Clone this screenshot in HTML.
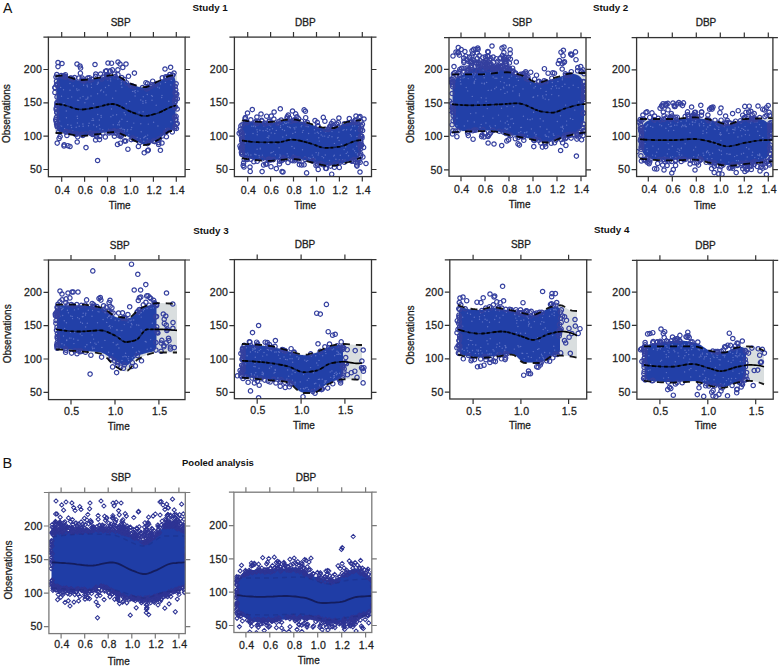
<!DOCTYPE html><html><head><meta charset="utf-8"><style>html,body{margin:0;padding:0;background:#fff;width:784px;height:666px;overflow:hidden}svg{display:block;font-family:"Liberation Sans",sans-serif}</style></head><body>
<svg width="784" height="666" viewBox="0 0 784 666">
<defs><marker id="c" markerUnits="userSpaceOnUse" markerWidth="8" markerHeight="8" refX="4" refY="4" viewBox="0 0 8 8" overflow="visible"><circle cx="4" cy="4" r="2.2" fill="none" stroke="#35409f" stroke-width="1.2"/></marker><marker id="d" markerUnits="userSpaceOnUse" markerWidth="8" markerHeight="8" refX="4" refY="4" viewBox="0 0 8 8" overflow="visible"><path d="M4 1.9L6.1 4L4 6.1L1.9 4Z" fill="none" stroke="#2e3494" stroke-width="1.05"/></marker><marker id="s" markerUnits="userSpaceOnUse" markerWidth="4" markerHeight="4" refX="2" refY="2" viewBox="0 0 4 4" overflow="visible"><circle cx="2" cy="2" r="0.7" fill="#7888d2"/></marker></defs>
<clipPath id="k1"><rect x="48.4" y="37.1" width="136.7" height="139.6"/></clipPath>
<g clip-path="url(#k1)">
<path d="M55 76.5 L57.1 76 L59.1 75.7 L61.2 75.6 L63.3 75.8 L65.3 76.1 L67.4 76.7 L69.5 77.3 L71.5 78 L73.6 78.6 L75.7 79.2 L77.7 79.7 L79.8 80 L81.9 80 L83.9 79.9 L86 79.7 L88.1 79.5 L90.2 79.2 L92.2 78.8 L94.3 78.5 L96.4 78.2 L98.4 77.9 L100.5 77.4 L102.6 77 L104.6 76.5 L106.7 76 L108.8 75.5 L110.8 75.2 L112.9 75 L115 75.1 L117 75.6 L119.1 76.5 L121.2 77.7 L123.2 79.1 L125.3 80.6 L127.4 82 L129.4 83.1 L131.5 84 L133.6 84.7 L135.6 85.4 L137.7 86 L139.8 86.6 L141.8 87 L143.9 87.2 L146 87.1 L148.1 86.6 L150.1 85.7 L152.2 84.6 L154.3 83.4 L156.3 82.2 L158.4 81.2 L160.5 80.2 L162.5 79.1 L164.6 78 L166.7 76.9 L168.7 76.1 L170.8 75.6 L172.9 75.4 L174.9 75.1 L177 75 L177 131 L174.9 131 L172.9 131 L170.8 131 L168.7 131.6 L166.7 132.9 L164.6 134.6 L162.5 136.5 L160.5 138.4 L158.4 139.8 L156.3 140.8 L154.3 141.9 L152.2 142.9 L150.1 143.8 L148.1 144.5 L146 144.9 L143.9 145 L141.8 144.5 L139.8 143.6 L137.7 142.5 L135.6 141.2 L133.6 140 L131.5 139 L129.4 138 L127.4 137 L125.3 135.9 L123.2 134.8 L121.2 133.8 L119.1 133 L117 132.4 L115 132 L112.9 132 L110.8 132.2 L108.8 132.4 L106.7 132.7 L104.6 133.1 L102.6 133.4 L100.5 133.8 L98.4 134.1 L96.4 134.3 L94.3 134.6 L92.2 134.9 L90.2 135.2 L88.1 135.4 L86 135.6 L83.9 135.8 L81.9 135.9 L79.8 135.9 L77.7 135.7 L75.7 135.4 L73.6 135 L71.5 134.6 L69.5 134.1 L67.4 133.7 L65.3 133.4 L63.3 133.1 L61.2 133 L59.1 133 L57.1 133 L55 133Z" fill="#d9dedf"/>
<path d="M56.5 81.8 L57.2 79 L57.9 78 L58.6 77.3 L59.4 76.8 L60.1 76.4 L60.8 76.3 L61.5 76.2 L63.1 76.3 L64.7 76.6 L66.2 76.9 L67.8 77.4 L69.4 77.9 L71 78.4 L72.6 78.9 L74.1 79.4 L75.7 79.8 L77.3 80.2 L78.9 80.5 L80.5 80.6 L82 80.6 L83.6 80.5 L85.2 80.4 L86.8 80.2 L88.4 80 L89.9 79.8 L91.5 79.6 L93.1 79.3 L94.7 79 L96.3 78.8 L97.8 78.5 L99.4 78.3 L101 77.9 L102.6 77.6 L104.2 77.2 L105.7 76.8 L107.3 76.4 L108.9 76.1 L110.5 75.9 L112.1 75.7 L113.6 75.6 L115.2 75.7 L116.8 76.1 L118.4 76.7 L119.9 77.6 L121.5 78.6 L123.1 79.6 L124.7 80.7 L126.3 81.8 L127.8 82.8 L129.4 83.7 L131 84.4 L132.6 85 L134.2 85.5 L135.7 86 L137.3 86.5 L138.9 87 L140.5 87.3 L142.1 87.6 L143.6 87.8 L145.2 87.8 L146.8 87.5 L148.4 87 L150 86.3 L151.5 85.5 L153.1 84.6 L154.7 83.7 L156.3 82.8 L157.9 82.1 L159.4 81.3 L161 80.5 L162.6 79.6 L164.2 78.8 L165.8 78 L167.3 77.2 L168.9 76.7 L170.5 76.3 L171.2 76.2 L171.9 76.3 L172.6 76.5 L173.4 76.8 L174.1 77.3 L174.8 78.2 L175.5 80.7 L175.5 125.4 L174.8 128 L174.1 128.9 L173.4 129.5 L172.6 129.9 L171.9 130.2 L171.2 130.3 L170.5 130.4 L168.9 130.9 L167.3 131.8 L165.8 133 L164.2 134.4 L162.6 135.9 L161 137.3 L159.4 138.5 L157.9 139.5 L156.3 140.3 L154.7 141.1 L153.1 141.9 L151.5 142.6 L150 143.3 L148.4 143.8 L146.8 144.2 L145.2 144.4 L143.6 144.3 L142.1 144 L140.5 143.3 L138.9 142.6 L137.3 141.7 L135.7 140.7 L134.2 139.8 L132.6 138.9 L131 138.2 L129.4 137.4 L127.8 136.6 L126.3 135.8 L124.7 135 L123.1 134.1 L121.5 133.4 L119.9 132.7 L118.4 132.1 L116.8 131.7 L115.2 131.5 L113.6 131.4 L112.1 131.5 L110.5 131.6 L108.9 131.8 L107.3 132 L105.7 132.3 L104.2 132.5 L102.6 132.8 L101 133.1 L99.4 133.3 L97.8 133.6 L96.3 133.8 L94.7 134 L93.1 134.2 L91.5 134.4 L89.9 134.6 L88.4 134.8 L86.8 135 L85.2 135.1 L83.6 135.2 L82 135.3 L80.5 135.3 L78.9 135.2 L77.3 135 L75.7 134.8 L74.1 134.5 L72.6 134.2 L71 133.8 L69.4 133.5 L67.8 133.2 L66.2 132.9 L64.7 132.7 L63.1 132.5 L61.5 132.4 L60.8 132.3 L60.1 132.2 L59.4 131.9 L58.6 131.5 L57.9 130.9 L57.2 130 L56.5 127.4Z" fill="#2240a8"/>
<path d="M135.2 92.7 142.9 101.3 89.1 123.3 73.4 85.9 121.3 128.1 96.6 126.8 97.6 93.8 66.3 111 93.5 103.7 87.9 97.2 79.2 126.2 145.9 102.8 67.8 124.7 129.6 101.4 90.2 130.8 105.5 87.5 91 96 61.6 126.1 144.5 137 117.9 79 159.4 88 170.9 121.7 98.1 83.3 147.7 135.1 77.2 90.6 167 129.4 71.7 96.9 160.5 83.9 78.9 89.9 101.1 115.5 145.7 136.2 108.8 85.5 63.5 89.8 171.3 80.4 98.2 82.3 112.6 98.3 119.6 121.2 127.6 129.8 153.6 122.3 83.1 126.3 59.7 121.1 97.3 84.3 147.3 94.5 110.9 116.8 151.5 95.6 107.8 80.1 143.8 141.2 165.7 128.6 137.1 137.4 77.4 123 157.7 87.1 117.8 124.8 102.8 129.8 83 96.5 116.6 114.8 78.6 100.4 101.2 117.3 64 103.4 58.6 84.2 135.1 96 111.5 109 124.4 129.6 134.2 91.2 77.2 116.2 115.8 90.9 152 100.2 93.7 125 99.4 125.2 99.3 120 114.6 129.2 66.4 117.8 97.7 114.5 170.8 84.9 124.2 112.7 121.5 83.6 133.8 123.1 103.6 92 109.9 78.6 161.7 97.5 88.5 125.8 141.2 131.7 124.1 131.7 127.2 121.4 77.5 100.2 143.1 111.8 106.2 94.9 145.7 100.8 71 125.3 92.7 107.5 123 129.2 91.5 87.4 121.9 119.2 128.7 134.8 87.4 86.7 108.6 129.5 121.3 81.8 70 90.2 121.2 84.3 168.8 101.2 84.9 102.8 127.1 131.1 119.9 129 118.9 122.8 147.3 138.7 68 98.4 87.7 98.8 110.6 80.9 143.3 96.7 110.5 78.8 156.2 105.2 113.2 124.8 64.6 128.7 92.1 120.4 70 83.5 143 103.3 76.2 127.3 135.3 90.6 61.5 96.3 126.3 103.8 119.4 124.9 148.3 124.1 91.3 84.1 131.7 127.5 101.3 89.9 92.9 118.6 113 115.3 132.6 91.4 71.6 127.5 124.5 129.8 120.7 129.1 152.4 96.3 139.1 112.1 165.4 82.4 100 128.9 76.8 89 140.8 123.7 121.9 87.3 77.5 118.4 82.9 124 125.3 114.7 143.8 137.7 140.3 138.7 137.9 91.1 93.5 120.2 60.6 87.4 87.1 85.2 86.1 99.2 157.9 126 80.2 97.9 140.8 100 131 129.6 59.8 125.8 130.7 87 72.7 130.7 162 95.4 100.6 90.8 83.6 85.3" fill="none" stroke="none" marker-start="url(#s)" marker-mid="url(#s)" marker-end="url(#s)" opacity="0.7"/>
<path d="M70.5 78.2 91.9 79.4 172.7 75.2 130.5 85.5 156.9 83.6 102.8 77 150.7 86.5 89.3 77.7 80.4 73.2 133.6 86.5 170.6 67.3 80.6 68.1 106.5 70.9 117.9 74.6 100.6 74.1 148.1 88 148.2 87 62.7 76.2 95.8 74.1 124.3 79.6 172.6 75.2 82.2 78.1 109.8 71.1 78.8 78 168.4 76.6 151.8 84.9 95.6 76.4 111.5 63.2 58.1 77.3 65.4 74.7 146.6 88.9 82.8 80.2 145.9 82.7 126.6 82.9 117.9 69.8 108 77.6 168.4 77 65.3 77.3 74.6 77.6 134.4 73.1 112.4 69.9 65.6 76.9 152.7 81.2 166.1 77.9 56.8 74.6 72.9 79.1 82 80.1 106.7 74.7 154.9 84.6 63.9 76.5 106.6 76.5 148 88.3 174 73 64.5 75.9 110.2 71.2 142.5 87.5 115.3 76.6 61.2 75.6 165.7 76.8 147.5 83.6 170.4 77.3 128.5 76.3 84.4 80.5 121.7 77.6 131.9 85.9 89.9 80.2 114.6 74.1 107.8 75.8 105.5 71.2 71 78.1 169.8 74.5 58 66.6 122.8 67.4 84.1 81.1 162.3 77.8 87.7 78 101.9 79 86 147.6 166.4 136.7 120.2 132 57.2 143.1 158.6 144.5 77.3 133.9 113.3 131.6 117.5 144.4 159.3 138.6 148.8 142.2 81.8 134.3 102.9 132.9 77.2 142 75.4 134.3 99.5 139.6 158.7 142.7 91 133.3 124.5 141 109.1 133 92.5 134.5 160.4 150.3 69 132.2 90.5 133.1 118.9 135.6 147.6 143.6 58.8 131.7 144.2 152.8 158.9 139.2 122.2 133.2 95.6 139.9 127.9 149.2 147.6 150.7 70.7 132.4 65.7 132.1 166.5 131.4 60.1 136.6 110.3 131.6 132.6 138 118.3 131.3 85.6 133.8 114.1 130.7 66.9 135.5 131.2 139.6 165.5 132.6 154.5 141.4 120.8 136.6 64.2 144.8 75.6 133.9 120.3 143.2 96.1 134.8 93.7 133.6 118.2 131.8 77.7 136.8 82.8 135.5 109.8 131.9 99.8 136.4 148.3 150 138.4 146.4 172.3 131.9 66.1 131.6 114.4 136.2 67.9 145.7 115.8 133.2 139.7 142.4 154.8 141.4 121.5 135.6 97.6 133.4 105.3 136.9 134.2 139.1 153.5 141.1 162.4 136 59.1 138.4 112.8 133.1 120.1 134.9 167.8 130.2 125.7 141 96.5 136.6 56.7 112.1 56.5 84.8 57.2 105.4 57.1 122.9 56.5 81.2 56.1 121.3 56 77.1 57.1 85.2 56.9 112.8 56.5 117.3 57.2 126.7 57 102.6 56.2 109.5 55 87.7 57.1 84.3 56.9 105.5 57.2 125.7 55.8 119.4 56.3 108 54.9 92.4 56.6 123.9 55 87.5 57 96.9 57.1 103.4 177.2 123.6 175.2 86.5 174.8 107 176.7 94 177.3 98.8 175.9 119.6 175.1 101.5 174.7 117 174.8 107.5 177.2 109 175.6 98.9 174.9 99.1 175.7 89.7 176.1 83.8 175.5 119.4 176.1 116.4 175.6 93.8 175.1 92.7 176.2 124.2 174.9 128 175.4 106.8 176.4 128.5 174.8 102.4 175.2 126.5 97.6 160.5 64 146 70 146.5 58 62.5 62 63.5 77 64 80 66 95 64.5 108 63 118 62 120 64 126 64 165 69 162 143" fill="none" stroke="none" marker-start="url(#c)" marker-mid="url(#c)" marker-end="url(#c)"/>
<path d="M55.5 76.4 L58 75.9 L60.4 75.6 L62.9 75.7 L65.3 76.1 L67.8 76.8 L70.3 77.6 L72.7 78.4 L75.2 79.1 L77.6 79.7 L80.1 80 L82.6 80 L85 79.8 L87.5 79.5 L89.9 79.2 L92.4 78.8 L94.8 78.4 L97.3 78 L99.8 77.6 L102.2 77.1 L104.7 76.5 L107.1 75.9 L109.6 75.4 L112.1 75.1 L114.5 75 L117 75.6 L119.4 76.7 L121.9 78.2 L124.4 79.9 L126.8 81.6 L129.3 83.1 L131.7 84.1 L134.2 84.9 L136.7 85.7 L139.1 86.4 L141.6 86.9 L144 87.2 L146.5 87 L148.9 86.2 L151.4 85 L153.9 83.6 L156.3 82.2 L158.8 81 L161.2 79.8 L163.7 78.4 L166.2 77.2 L168.6 76.2 L171.1 75.6 L173.5 75.3 L176 75.1" fill="none" stroke="#000" stroke-width="1.8" stroke-dasharray="7 6" opacity="0.9"/>
<path d="M55.5 133 L58 133 L60.4 133 L62.9 133.1 L65.3 133.3 L67.8 133.8 L70.3 134.3 L72.7 134.8 L75.2 135.3 L77.6 135.7 L80.1 135.9 L82.6 135.9 L85 135.7 L87.5 135.5 L89.9 135.2 L92.4 134.9 L94.8 134.5 L97.3 134.2 L99.8 133.9 L102.2 133.5 L104.7 133 L107.1 132.6 L109.6 132.3 L112.1 132.1 L114.5 132 L117 132.4 L119.4 133.1 L121.9 134.2 L124.4 135.4 L126.8 136.7 L129.3 138 L131.7 139.1 L134.2 140.4 L136.7 141.8 L139.1 143.3 L141.6 144.4 L144 145 L146.5 144.9 L148.9 144.2 L151.4 143.3 L153.9 142.1 L156.3 140.8 L158.8 139.6 L161.2 137.7 L163.7 135.4 L166.2 133.3 L168.6 131.6 L171.1 131 L173.5 131 L176 131" fill="none" stroke="#000" stroke-width="1.8" stroke-dasharray="7 6" opacity="0.9"/>
<path d="M58.5 104.2 L60.8 104.5 L63.2 104.9 L65.5 105.5 L67.9 106.2 L70.2 107 L72.6 107.8 L74.9 108.5 L77.3 109.1 L79.6 109.4 L82 109.5 L84.3 109.3 L86.7 109 L89 108.7 L91.4 108.2 L93.7 107.7 L96.1 107.3 L98.4 106.8 L100.7 106.3 L103.1 105.6 L105.4 105 L107.8 104.5 L110.1 104.1 L112.5 104 L114.8 104.3 L117.2 105 L119.5 106 L121.9 107.2 L124.2 108.5 L126.6 109.8 L128.9 110.9 L131.3 111.9 L133.6 112.8 L135.9 113.7 L138.3 114.6 L140.6 115.4 L143 115.9 L145.3 116 L147.7 115.8 L150 115.3 L152.4 114.7 L154.7 114 L157.1 113.4 L159.4 112.5 L161.8 111.4 L164.1 110.2 L166.5 109 L168.8 107.9 L171.2 106.9 L173.5 106.2" fill="none" stroke="#000" stroke-width="1.4" opacity="0.5"/>
<path d="M58.5 104.2 L60.8 104.5 L63.2 104.9 L65.5 105.5 L67.9 106.2 L70.2 107 L72.6 107.8 L74.9 108.5 L77.3 109.1 L79.6 109.4 L82 109.5 L84.3 109.3 L86.7 109 L89 108.7 L91.4 108.2 L93.7 107.7 L96.1 107.3 L98.4 106.8 L100.7 106.3 L103.1 105.6 L105.4 105 L107.8 104.5 L110.1 104.1 L112.5 104 L114.8 104.3 L117.2 105 L119.5 106 L121.9 107.2 L124.2 108.5 L126.6 109.8 L128.9 110.9 L131.3 111.9 L133.6 112.8 L135.9 113.7 L138.3 114.6 L140.6 115.4 L143 115.9 L145.3 116 L147.7 115.8 L150 115.3 L152.4 114.7 L154.7 114 L157.1 113.4 L159.4 112.5 L161.8 111.4 L164.1 110.2 L166.5 109 L168.8 107.9 L171.2 106.9 L173.5 106.2" fill="none" stroke="#000" stroke-width="1.8" opacity="0.9" stroke-dasharray="3.5 2.0 2.7 3.6 2.8 2.6 4.1 3.0 4.2 2.8 4.0 2.7 3.4 3.4 3.1 1.5 2.7 1.3 3.9 1.8 4.3 1.5 3.5 3.4 3.9 1.1 4.0 3.9 3.0 3.5 3.6 1.7 4.5 3.7 4.1 1.0 3.8 2.3 3.0 3.6 2.8 1.4 3.7 2.9 4.1 1.9 3.8 3.2 4.4 4.0 4.0 1.9 3.4 1.8 3.3 1.5 3.9 1.5 4.1 2.2 3.4 3.9 3.9 1.1 4.2 2.8 4.1 2.6 3.6 3.3 3.7 1.4 4.1 2.0 2.9 2.7 3.1 3.4 4.1 3.9 2.7 3.2 3.1 3.7 2.6 2.1 3.3 3.1 2.8 3.3 2.7 2.6 4.2 2.8 3.8 3.2 3.1 2.2 3.7 2.1 3.1 3.9 2.5 1.8 2.8 2.3 4.3 2.9 4.4 1.3 4.5 3.5 4.3 2.4 2.7 3.2 2.7 4.0 2.8 2.4"/>
<path d="M55.5 104 L55.8 104 L56 104.1 L56.3 104.1 L56.6 104.1 L56.9 104.1 L57.1 104.1 L57.4 104.1 L57.7 104.2 L58 104.2 L58.2 104.2 L58.5 104.2" fill="none" stroke="#000" stroke-width="1.6"/>
<path d="M173.5 106.2 L173.7 106.1 L174 106.1 L174.2 106 L174.4 105.9 L174.6 105.9 L174.9 105.8 L175.1 105.7 L175.3 105.7 L175.5 105.6 L175.8 105.6 L176 105.5" fill="none" stroke="#000" stroke-width="1.6"/>
</g>
<rect x="48.4" y="37.1" width="136.7" height="139.6" fill="none" stroke="#333" stroke-width="1.3"/>
<path d="M61.7 176.7v5M61.7 37.1v-5M84.6 176.7v5M84.6 37.1v-5M107.5 176.7v5M107.5 37.1v-5M130.5 176.7v5M130.5 37.1v-5M153.4 176.7v5M153.4 37.1v-5M176.3 176.7v5M176.3 37.1v-5M48.4 169.5h-5M185.1 169.5h5M48.4 136.2h-5M185.1 136.2h5M48.4 102.8h-5M185.1 102.8h5M48.4 69.5h-5M185.1 69.5h5M48.4 37.1h-5M185.1 37.1h5" stroke="#333" stroke-width="1.2" fill="none"/>
<g font-size="10" fill="#1e1e1e" stroke="#1e1e1e" stroke-width="0.25" style="letter-spacing:0.2px"><text transform="translate(62.5 193.6) scale(1.06 1)" text-anchor="middle">0.4</text><text transform="translate(85.4 193.6) scale(1.06 1)" text-anchor="middle">0.6</text><text transform="translate(108.3 193.6) scale(1.06 1)" text-anchor="middle">0.8</text><text transform="translate(131.3 193.6) scale(1.06 1)" text-anchor="middle">1.0</text><text transform="translate(154.2 193.6) scale(1.06 1)" text-anchor="middle">1.2</text><text transform="translate(177.1 193.6) scale(1.06 1)" text-anchor="middle">1.4</text><text transform="translate(42.1 173.1) scale(1.06 1)" text-anchor="end">50</text><text transform="translate(42.1 139.8) scale(1.06 1)" text-anchor="end">100</text><text transform="translate(42.1 106.4) scale(1.06 1)" text-anchor="end">150</text><text transform="translate(42.1 73.1) scale(1.06 1)" text-anchor="end">200</text></g>
<text x="120.7" y="25.6" text-anchor="middle" font-size="10" fill="#1e1e1e" stroke="#1e1e1e" stroke-width="0.3">SBP</text>
<text x="119.7" y="208.8" text-anchor="middle" font-size="10" fill="#1e1e1e" stroke="#1e1e1e" stroke-width="0.3">Time</text>
<text transform="translate(9.9 113.6) rotate(-90)" text-anchor="middle" font-size="10" fill="#1e1e1e" stroke="#1e1e1e" stroke-width="0.3">Observations</text>
<clipPath id="k2"><rect x="234.4" y="37.1" width="137.1" height="139.5"/></clipPath>
<g clip-path="url(#k2)">
<path d="M241 120.1 L243.1 120.5 L245.1 120.7 L247.2 121 L249.2 121.2 L251.3 121.4 L253.4 121.6 L255.4 121.7 L257.5 121.8 L259.5 121.9 L261.6 121.9 L263.7 122 L265.7 122 L267.8 122 L269.8 122 L271.9 121.9 L273.9 121.7 L276 121.4 L278.1 121.1 L280.1 120.8 L282.2 120.4 L284.2 120.1 L286.3 119.8 L288.4 119.6 L290.4 119.4 L292.5 119.4 L294.5 119.5 L296.6 119.9 L298.7 120.3 L300.7 120.8 L302.8 121.4 L304.8 122 L306.9 122.6 L309 123.2 L311 123.8 L313.1 124.6 L315.1 125.4 L317.2 126.1 L319.3 126.7 L321.3 127.2 L323.4 127.5 L325.4 127.7 L327.5 127.9 L329.6 128.1 L331.6 128.2 L333.7 128.1 L335.7 127.5 L337.8 126.5 L339.8 125.3 L341.9 124 L344 122.9 L346 122.2 L348.1 121.8 L350.1 121.4 L352.2 121.1 L354.3 120.8 L356.3 120.6 L358.4 120.4 L360.4 120.3 L362.5 120.3 L362.5 157.1 L360.4 157.9 L358.4 158.8 L356.3 159.6 L354.3 160.3 L352.2 161 L350.1 161.7 L348.1 162.2 L346 162.8 L344 163.3 L341.9 163.8 L339.8 164.4 L337.8 164.9 L335.7 165.3 L333.7 165.6 L331.6 165.9 L329.6 166 L327.5 165.9 L325.4 165.7 L323.4 165.3 L321.3 164.8 L319.3 164.2 L317.2 163.6 L315.1 163.1 L313.1 162.6 L311 162.2 L309 161.7 L306.9 161.3 L304.8 160.8 L302.8 160.4 L300.7 159.9 L298.7 159.6 L296.6 159.3 L294.5 159.1 L292.5 159 L290.4 159 L288.4 159.1 L286.3 159.3 L284.2 159.5 L282.2 159.7 L280.1 160 L278.1 160.2 L276 160.4 L273.9 160.6 L271.9 160.7 L269.8 160.8 L267.8 160.8 L265.7 160.8 L263.7 160.7 L261.6 160.6 L259.5 160.5 L257.5 160.3 L255.4 160.1 L253.4 159.9 L251.3 159.6 L249.2 159.3 L247.2 159 L245.1 158.7 L243.1 158.3 L241 157.9Z" fill="#d9dedf"/>
<path d="M241.5 125.8 L242.2 123.4 L242.9 122.5 L243.6 122 L244.4 121.7 L245.1 121.6 L245.8 121.5 L246.5 121.5 L248.1 121.7 L249.7 121.9 L251.3 122 L252.8 122.1 L254.4 122.2 L256 122.3 L257.6 122.4 L259.2 122.4 L260.8 122.5 L262.4 122.5 L264 122.6 L265.5 122.6 L267.1 122.6 L268.7 122.6 L270.3 122.6 L271.9 122.5 L273.5 122.4 L275.1 122.2 L276.7 121.9 L278.2 121.7 L279.8 121.4 L281.4 121.2 L283 120.9 L284.6 120.6 L286.2 120.4 L287.8 120.2 L289.3 120.1 L290.9 120 L292.5 120 L294.1 120.1 L295.7 120.3 L297.3 120.6 L298.9 120.9 L300.5 121.4 L302 121.8 L303.6 122.3 L305.2 122.7 L306.8 123.2 L308.4 123.6 L310 124.1 L311.6 124.6 L313.2 125.2 L314.7 125.8 L316.3 126.4 L317.9 126.9 L319.5 127.4 L321.1 127.8 L322.7 128 L324.3 128.2 L325.8 128.4 L327.4 128.5 L329 128.7 L330.6 128.8 L332.2 128.8 L333.8 128.7 L335.4 128.3 L337 127.6 L338.5 126.7 L340.1 125.7 L341.7 124.7 L343.3 123.9 L344.9 123.1 L346.5 122.6 L348.1 122.4 L349.7 122.1 L351.2 121.8 L352.8 121.6 L354.4 121.4 L356 121.2 L356.7 121.2 L357.4 121.3 L358.1 121.5 L358.9 121.9 L359.6 122.5 L360.3 123.4 L361 125.9 L361 152.1 L360.3 155 L359.6 156.2 L358.9 157.1 L358.1 157.8 L357.4 158.3 L356.7 158.8 L356 159.1 L354.4 159.7 L352.8 160.2 L351.2 160.7 L349.7 161.2 L348.1 161.6 L346.5 162.1 L344.9 162.5 L343.3 162.9 L341.7 163.3 L340.1 163.7 L338.5 164.1 L337 164.4 L335.4 164.8 L333.8 165 L332.2 165.2 L330.6 165.4 L329 165.4 L327.4 165.3 L325.8 165.2 L324.3 164.9 L322.7 164.5 L321.1 164.1 L319.5 163.7 L317.9 163.2 L316.3 162.8 L314.7 162.4 L313.2 162 L311.6 161.7 L310 161.4 L308.4 161 L306.8 160.7 L305.2 160.3 L303.6 159.9 L302 159.6 L300.5 159.3 L298.9 159 L297.3 158.8 L295.7 158.6 L294.1 158.5 L292.5 158.4 L290.9 158.4 L289.3 158.5 L287.8 158.6 L286.2 158.7 L284.6 158.8 L283 159 L281.4 159.2 L279.8 159.4 L278.2 159.6 L276.7 159.7 L275.1 159.9 L273.5 160 L271.9 160.1 L270.3 160.2 L268.7 160.2 L267.1 160.2 L265.5 160.2 L264 160.1 L262.4 160 L260.8 159.9 L259.2 159.8 L257.6 159.7 L256 159.6 L254.4 159.4 L252.8 159.2 L251.3 159 L249.7 158.8 L248.1 158.6 L246.5 158.3 L245.8 158.1 L245.1 157.9 L244.4 157.5 L243.6 156.9 L242.9 156.2 L242.2 155.1 L241.5 152.4Z" fill="#2240a8"/>
<path d="M296 127.1 318.8 137.8 320.7 131.4 287.7 126.6 357.4 154 318.2 154.9 308.6 133.5 339.1 140.5 257 129.8 334.3 155.3 262.4 155.1 295.3 132.3 305 157 291.9 146.5 318.6 153 324.7 136.1 294.1 127.8 279.1 147.7 293.2 155.2 354.7 125.9 313.3 157.2 265.9 130.4 283.2 124.6 294.8 129 335.9 159.3 280.8 156.1 308.1 126.8 333.7 156.1 251.8 126.3 263.1 130.7 314.3 159.9 276.3 130.4 280.5 127.4 271.9 152.4 302.5 149.8 279.5 157.3 321.2 134.9 334.4 143.4 310.6 158.4 245.5 153.9 316.1 152.6 288.2 156.3 287.2 153.7 259.9 130.3 269.3 125 308.8 157.8 343.1 130.3 247.8 153.1 294.3 148.3 354.6 150.8 245.4 134.2 257.1 149.2 325.7 131.9 338.1 137.4 328.1 137.2 347.5 152.1 353.1 149.1 341.4 144.4 257.4 131.9 303.2 130.4 346.3 153.4 351.3 136 284.5 122.7 250.9 155 289.1 122.4 257.2 134.8 307.2 139.6 254.7 154.1 322.1 156.6 332 131.6 355.8 152.6 289.4 127.3 267.3 128.8 346.6 129.8 350.7 130.1 245.3 123.9 348.5 155.8 338.9 132.1 268.5 137.9 292.8 133.5 259.1 155.4 260.3 148.9 301.8 125.6 317.3 132.3 260.2 148.1 315 133.1 302.5 132.2 248.4 154.9 321.3 161.7 290.4 127.8 256 154.8 284.5 130.5 256.5 125.6 344.1 129.6 357.7 155.1 271.3 132.9 282.8 137 255.2 154.4 358.5 126.6 246.2 154.3 278.3 124.7 270.9 152.9 268.9 136 358.9 123.4 269.8 129.8 280.6 125.7 245 143 345.7 146.9 345 160.3 314.9 159.1 318.5 133.2 355.4 130.7 290.4 138.4 329.4 135.6 356.8 146.3 273.5 151.6 253 133.5 270.7 125.9 274.8 133.5 306.1 126.3 280 154.9 325.3 155 351.2 129.3 286.4 123.1 344.1 149.5 253.5 126.2 301.2 126.8 337.5 138 268.6 143.4 342.7 159.9 288.1 122.7 286.4 135.2 312.3 155.1 255.1 125.1 323.6 157.8 319.3 141.1 339.4 159.8 275.9 143.6 285.9 123.5 263.9 125.9 275.4 154.7 267.6 131.4 259.3 157.1 350.4 134.6 322.8 136.1 332 136.7 282.4 129.5 314.4 129.8 340.3 155.3 267.3 137.4 255.4 126.8 272.5 128.7 310.1 158.6 356.9 136.5 352.5 126.3 262.3 156.6 329.5 160.5" fill="none" stroke="none" marker-start="url(#s)" marker-mid="url(#s)" marker-end="url(#s)" opacity="0.7"/>
<path d="M338.3 122.5 246.9 122.7 344.3 123.7 256.9 117 277.7 123.2 336.8 124.1 357.1 122.4 256 121.4 329.1 128.1 255.3 122.3 287 118.2 350.9 122.3 296.1 120.1 305.8 123.8 245.1 118.8 269.6 121.3 307.2 122.3 245.4 117.6 324.9 121.2 257 123.4 317.3 122.4 349.3 118.6 245.5 121.5 273.9 119 281.2 120.1 325.1 129.2 291 121.3 318 125.8 288.3 115.1 305.4 111.3 333 127.5 330.6 126 333.1 121.2 261.6 120.4 250.8 119.8 252.3 109.6 297 116.8 329.8 126.5 274.1 112 301.4 121.2 338.9 118 298.6 118.7 315 120.6 295.7 113.9 293.6 120.2 348.1 122.9 355.1 120.3 264.5 123.1 280.3 108.8 353.8 121.7 304.1 109.9 323.3 117.4 271.3 116.1 258.3 121.6 317.7 126.3 305.7 117.7 265.3 124 278.9 121.5 287.3 116.8 359.1 117.5 289.4 118.1 266.6 116.2 261.9 121.1 338.2 127.1 354.9 122.2 331.4 123.6 269.2 121 328.3 129.4 270.5 122.9 333.5 125.5 294.8 119.9 312.4 161 276.3 168.6 283.4 157.9 243.2 165.5 295.7 158.6 246.3 158.9 328 164.2 269.3 159 290.9 160 317.5 165.1 306.6 172.9 301.7 165 305.1 159.4 281.5 160.7 354 159.5 320.6 163.6 269.1 160 299 161 265.8 164.1 353.5 161.3 334.4 167.3 284.6 159.1 250.2 171.4 351.6 161.1 326.3 168.5 322.6 164.6 331.7 174.2 270.9 160 352 160.7 253.8 161.7 282 171.6 263.6 164.9 335.1 164 360.6 155.9 257.2 161.3 339.3 167.4 344.3 162.2 340.1 162.2 304.1 164.8 273.4 159.6 279.6 161.2 356.7 165.1 358.1 159.5 325.7 168.3 268.2 159.3 317.8 164.1 293.8 157.5 266.7 164.1 312.8 160.7 299.4 164.6 288 162.5 357.7 162.9 262.1 171.6 244.2 159.6 294.4 160.8 247.3 159.5 250.9 159.2 279.4 163.9 330.5 166.1 360.2 162.3 318.2 169.4 298.4 158.9 295.3 159.8 292.4 160.6 262.2 158.8 359.1 160.4 316 165.6 282.5 159.7 243.6 163.1 271 166.7 357 166.1 242 145.9 242 149.2 242 152.4 242.2 138.7 242 138.2 242.1 134.4 240.6 148.2 240.3 129.3 240.8 131.9 242.2 124.7 241.7 140.4 241.4 152.6 240 145.9 242.3 146.8 239.2 133.2 242.2 153.9 241.7 140 242.1 149.3 241.2 135.9 241.8 154.3 241.7 132.4 241.7 147.5 240.9 125.9 242.3 141.9 362.9 156.9 361.2 136 360.7 153.8 360.5 129.5 360.2 143.7 363.6 147.4 360.8 129.7 362.6 130.5 360.6 148.7 360.3 138.8 360.5 155.7 360.4 141.7 360.5 146.6 360.3 129.8 361 121.5 361.9 136.4 362.4 124.2 361.9 138.3 360.4 145.8 361.2 145.1 360.7 136.1 360.8 142.1 361.7 144.9 361.5 126.4 292.5 111 247.5 113 261 114 356 116 360 116.5 364 119 283 172 360 172 366 163.5 244 167 250 167" fill="none" stroke="none" marker-start="url(#c)" marker-mid="url(#c)" marker-end="url(#c)"/>
<path d="M242 120.3 L244.4 120.7 L246.9 121 L249.3 121.2 L251.7 121.4 L254.1 121.6 L256.6 121.7 L259 121.8 L261.4 121.9 L263.9 122 L266.3 122 L268.7 122 L271.1 121.9 L273.6 121.7 L276 121.4 L278.4 121.1 L280.9 120.7 L283.3 120.2 L285.7 119.9 L288.1 119.6 L290.6 119.4 L293 119.4 L295.4 119.7 L297.9 120.1 L300.3 120.7 L302.7 121.4 L305.1 122.1 L307.6 122.8 L310 123.5 L312.4 124.4 L314.9 125.3 L317.3 126.1 L319.7 126.9 L322.1 127.3 L324.6 127.6 L327 127.9 L329.4 128.1 L331.9 128.2 L334.3 128 L336.7 127.1 L339.1 125.7 L341.6 124.2 L344 122.9 L346.4 122.1 L348.9 121.6 L351.3 121.2 L353.7 120.9 L356.1 120.6 L358.6 120.4 L361 120.3" fill="none" stroke="#000" stroke-width="1.8" stroke-dasharray="7 6" opacity="0.9"/>
<path d="M242 158.1 L244.4 158.6 L246.9 159 L249.3 159.3 L251.7 159.7 L254.1 160 L256.6 160.2 L259 160.4 L261.4 160.6 L263.9 160.7 L266.3 160.8 L268.7 160.8 L271.1 160.8 L273.6 160.6 L276 160.4 L278.4 160.2 L280.9 159.9 L283.3 159.6 L285.7 159.3 L288.1 159.1 L290.6 159 L293 159 L295.4 159.2 L297.9 159.5 L300.3 159.9 L302.7 160.3 L305.1 160.9 L307.6 161.4 L310 162 L312.4 162.5 L314.9 163 L317.3 163.6 L319.7 164.3 L322.1 165 L324.6 165.5 L327 165.9 L329.4 166 L331.9 165.9 L334.3 165.5 L336.7 165.1 L339.1 164.5 L341.6 163.9 L344 163.3 L346.4 162.7 L348.9 162 L351.3 161.3 L353.7 160.5 L356.1 159.6 L358.6 158.7 L361 157.7" fill="none" stroke="#000" stroke-width="1.8" stroke-dasharray="7 6" opacity="0.9"/>
<path d="M243.5 140.7 L245.9 141.1 L248.2 141.4 L250.6 141.7 L252.9 141.9 L255.3 142.1 L257.6 142.2 L260 142.3 L262.4 142.3 L264.7 142.3 L267.1 142.3 L269.4 142.3 L271.8 142.3 L274.1 142.3 L276.5 142.3 L278.9 142.3 L281.2 141.9 L283.6 141.4 L285.9 140.7 L288.3 140.1 L290.6 139.7 L293 139.6 L295.4 139.8 L297.7 140.2 L300.1 140.7 L302.4 141.3 L304.8 141.9 L307.1 142.5 L309.5 143.2 L311.9 143.8 L314.2 144.7 L316.6 145.6 L318.9 146.5 L321.3 147.3 L323.6 147.8 L326 147.9 L328.4 147.8 L330.7 147.7 L333.1 147.5 L335.4 147.2 L337.8 146.9 L340.1 146.6 L342.5 146 L344.9 145.2 L347.2 144.2 L349.6 143.1 L351.9 142.1 L354.3 141.2 L356.6 140.6 L359 140.3" fill="none" stroke="#000" stroke-width="1.4" opacity="0.5"/>
<path d="M243.5 140.7 L245.9 141.1 L248.2 141.4 L250.6 141.7 L252.9 141.9 L255.3 142.1 L257.6 142.2 L260 142.3 L262.4 142.3 L264.7 142.3 L267.1 142.3 L269.4 142.3 L271.8 142.3 L274.1 142.3 L276.5 142.3 L278.9 142.3 L281.2 141.9 L283.6 141.4 L285.9 140.7 L288.3 140.1 L290.6 139.7 L293 139.6 L295.4 139.8 L297.7 140.2 L300.1 140.7 L302.4 141.3 L304.8 141.9 L307.1 142.5 L309.5 143.2 L311.9 143.8 L314.2 144.7 L316.6 145.6 L318.9 146.5 L321.3 147.3 L323.6 147.8 L326 147.9 L328.4 147.8 L330.7 147.7 L333.1 147.5 L335.4 147.2 L337.8 146.9 L340.1 146.6 L342.5 146 L344.9 145.2 L347.2 144.2 L349.6 143.1 L351.9 142.1 L354.3 141.2 L356.6 140.6 L359 140.3" fill="none" stroke="#000" stroke-width="1.8" opacity="0.9" stroke-dasharray="3.7 1.0 4.4 3.4 3.7 3.8 2.8 3.3 3.2 2.5 4.3 1.6 3.1 2.1 3.8 2.5 3.8 2.2 4.5 1.3 3.5 1.2 3.5 2.9 3.1 1.8 2.6 3.2 3.8 2.0 2.7 3.7 3.5 3.5 4.0 3.4 3.0 3.1 4.1 2.5 3.7 2.7 3.2 3.1 2.7 2.9 3.2 2.2 3.6 1.5 2.6 2.2 3.6 2.8 4.2 1.3 2.9 1.7 4.3 1.8 3.6 2.5 3.3 2.7 4.2 1.9 3.0 3.4 3.1 2.4 3.1 2.2 4.2 3.2 3.2 1.5 4.4 1.4 3.8 3.5 3.2 2.8 4.4 3.3 3.2 3.9 3.2 1.2 3.6 3.2 2.9 1.0 4.3 3.4 4.0 3.4 3.0 3.3 2.9 1.3 2.8 3.0 4.3 3.7 3.4 1.3 3.4 1.9 2.9 3.6 2.6 1.8 2.7 1.1 2.6 3.8 3.4 1.8 4.2 3.6"/>
<path d="M242 140.5 L242.1 140.5 L242.3 140.5 L242.4 140.6 L242.5 140.6 L242.7 140.6 L242.8 140.6 L243 140.6 L243.1 140.7 L243.2 140.7 L243.4 140.7 L243.5 140.7" fill="none" stroke="#000" stroke-width="1.6"/>
<path d="M359 140.3 L359.2 140.2 L359.4 140.2 L359.5 140.2 L359.7 140.2 L359.9 140.2 L360.1 140.1 L360.3 140.1 L360.5 140.1 L360.6 140.1 L360.8 140.1 L361 140.1" fill="none" stroke="#000" stroke-width="1.6"/>
</g>
<rect x="234.4" y="37.1" width="137.1" height="139.5" fill="none" stroke="#333" stroke-width="1.3"/>
<path d="M247.7 176.6v5M247.7 37.1v-5M270.6 176.6v5M270.6 37.1v-5M293.5 176.6v5M293.5 37.1v-5M316.5 176.6v5M316.5 37.1v-5M339.4 176.6v5M339.4 37.1v-5M362.3 176.6v5M362.3 37.1v-5M234.4 169.5h-5M371.5 169.5h5M234.4 136.2h-5M371.5 136.2h5M234.4 102.8h-5M371.5 102.8h5M234.4 69.5h-5M371.5 69.5h5M234.4 37.1h-5M371.5 37.1h5" stroke="#333" stroke-width="1.2" fill="none"/>
<g font-size="10" fill="#1e1e1e" stroke="#1e1e1e" stroke-width="0.25" style="letter-spacing:0.2px"><text transform="translate(248.5 193.5) scale(1.06 1)" text-anchor="middle">0.4</text><text transform="translate(271.4 193.5) scale(1.06 1)" text-anchor="middle">0.6</text><text transform="translate(294.3 193.5) scale(1.06 1)" text-anchor="middle">0.8</text><text transform="translate(317.3 193.5) scale(1.06 1)" text-anchor="middle">1.0</text><text transform="translate(340.2 193.5) scale(1.06 1)" text-anchor="middle">1.2</text><text transform="translate(363.1 193.5) scale(1.06 1)" text-anchor="middle">1.4</text><text transform="translate(228.1 173.1) scale(1.06 1)" text-anchor="end">50</text><text transform="translate(228.1 139.8) scale(1.06 1)" text-anchor="end">100</text><text transform="translate(228.1 106.4) scale(1.06 1)" text-anchor="end">150</text><text transform="translate(228.1 73.1) scale(1.06 1)" text-anchor="end">200</text></g>
<text x="305.4" y="25.6" text-anchor="middle" font-size="10" fill="#1e1e1e" stroke="#1e1e1e" stroke-width="0.3">DBP</text>
<text x="305.2" y="208.7" text-anchor="middle" font-size="10" fill="#1e1e1e" stroke="#1e1e1e" stroke-width="0.3">Time</text>
<clipPath id="k3"><rect x="449" y="37.6" width="137" height="138.6"/></clipPath>
<g clip-path="url(#k3)">
<path d="M449 74.3 L451.3 74.3 L453.6 74.3 L456 74.3 L458.3 74.3 L460.6 74.3 L462.9 74.3 L465.3 74.3 L467.6 74.3 L469.9 74.3 L472.2 74.3 L474.5 74.3 L476.9 74.3 L479.2 74.3 L481.5 74.3 L483.8 74.2 L486.2 74 L488.5 73.8 L490.8 73.6 L493.1 73.3 L495.4 73 L497.8 72.8 L500.1 72.5 L502.4 72.4 L504.7 72.2 L507.1 72.2 L509.4 72.3 L511.7 72.7 L514 73.2 L516.3 73.8 L518.7 74.5 L521 75.2 L523.3 75.9 L525.6 77.1 L527.9 78.4 L530.3 79.8 L532.6 81 L534.9 82 L537.2 82.5 L539.6 82.4 L541.9 82 L544.2 81.3 L546.5 80.5 L548.8 79.6 L551.2 78.8 L553.5 78.2 L555.8 77.5 L558.1 76.7 L560.5 76 L562.8 75.2 L565.1 74.6 L567.4 74 L569.7 73.5 L572.1 73.3 L574.4 73.2 L576.7 73.1 L579 73.1 L581.4 73 L583.7 73 L586 73 L586 132.3 L583.7 132.6 L581.4 133 L579 133.4 L576.7 133.8 L574.4 134.2 L572.1 134.7 L569.7 135.3 L567.4 135.8 L565.1 136.4 L562.8 137.1 L560.5 138 L558.1 139 L555.8 140 L553.5 141 L551.2 141.8 L548.8 142.4 L546.5 142.6 L544.2 142.5 L541.9 142.1 L539.6 141.5 L537.2 140.9 L534.9 140.2 L532.6 139.6 L530.3 139.1 L527.9 138.7 L525.6 138.2 L523.3 137.8 L521 137.3 L518.7 136.9 L516.3 136.4 L514 136 L511.7 135.5 L509.4 135.1 L507.1 134.5 L504.7 133.9 L502.4 133.2 L500.1 132.6 L497.8 132.1 L495.4 131.6 L493.1 131.3 L490.8 131.2 L488.5 131.2 L486.2 131.2 L483.8 131.2 L481.5 131.2 L479.2 131.2 L476.9 131.2 L474.5 131.3 L472.2 131.3 L469.9 131.4 L467.6 131.4 L465.3 131.5 L462.9 131.6 L460.6 131.7 L458.3 131.8 L456 132 L453.6 132.2 L451.3 132.4 L449 132.6Z" fill="#d9dedf"/>
<path d="M452.5 87 L454.2 80.8 L455.9 78.5 L457.6 77 L459.4 75.9 L461.1 75.1 L462.8 74.5 L464.5 73.6 L466.1 72.5 L467.6 71.4 L469.2 70.4 L470.7 69.7 L472.3 69.1 L473.8 68.4 L475.4 67.9 L477 67.4 L478.5 67.1 L480.1 67 L481.6 67 L483.2 67 L484.8 67 L486.3 67 L487.9 67 L489.4 67 L491 67 L492.5 67 L494.1 67 L495.7 67 L497.2 67.2 L498.8 67.6 L500.3 68.2 L501.9 68.8 L503.4 69.4 L505 70 L506.6 70.6 L508.1 71.3 L509.7 72 L511.2 72.7 L512.8 73.3 L514.4 73.8 L515.9 74.2 L517.5 74.7 L519 75.1 L520.6 75.6 L522.1 76.1 L523.7 76.8 L525.3 77.6 L526.8 78.5 L528.4 79.4 L529.9 80.3 L531.5 81.2 L533.1 81.9 L534.6 82.5 L536.2 82.9 L537.7 83.1 L539.3 83 L540.8 82.8 L542.4 82.5 L544 82 L545.5 81.5 L547.1 80.9 L548.6 80.3 L550.2 79.7 L551.7 79.2 L553.3 78.8 L554.9 78.4 L556.4 77.9 L558 77.4 L559.5 76.9 L561.1 76.4 L562.7 75.9 L564.2 75.4 L565.8 75 L567.3 74.6 L568.9 74.3 L570.4 74 L572 73.9 L573.7 73.9 L575.4 74.2 L577.1 74.9 L578.9 75.8 L580.6 77.2 L582.3 79.4 L584 85.6 L584 120 L582.3 126.4 L580.6 128.9 L578.9 130.6 L577.1 131.9 L575.4 132.9 L573.7 133.7 L572 134.2 L570.4 134.5 L568.9 134.9 L567.3 135.2 L565.8 135.6 L564.2 136 L562.7 136.5 L561.1 137.1 L559.5 137.8 L558 138.5 L556.4 139.2 L554.9 139.8 L553.3 140.5 L551.7 141 L550.2 141.5 L548.6 141.8 L547.1 142 L545.5 142 L544 141.8 L542.4 141.6 L540.8 141.2 L539.3 140.8 L537.7 140.4 L536.2 140 L534.6 139.5 L533.1 139.1 L531.5 138.8 L529.9 138.5 L528.4 138.2 L526.8 137.9 L525.3 137.6 L523.7 137.3 L522.1 137 L520.6 136.7 L519 136.4 L517.5 136.1 L515.9 135.8 L514.4 135.5 L512.8 135.2 L511.2 134.8 L509.7 134.5 L508.1 134.2 L506.6 133.8 L505 133.3 L503.4 132.9 L501.9 132.5 L500.3 132.1 L498.8 131.7 L497.2 131.4 L495.7 131.1 L494.1 130.8 L492.5 130.7 L491 130.6 L489.4 130.6 L487.9 130.6 L486.3 130.6 L484.8 130.6 L483.2 130.6 L481.6 130.6 L480.1 130.6 L478.5 130.6 L477 130.6 L475.4 130.7 L473.8 130.7 L472.3 130.7 L470.7 130.7 L469.2 130.8 L467.6 130.8 L466.1 130.9 L464.5 130.9 L462.8 130.9 L461.1 130.6 L459.4 130 L457.6 129.1 L455.9 127.8 L454.2 125.7 L452.5 119.7Z" fill="#2240a8"/>
<path d="M542.7 96 490.8 72.7 481.2 124.4 475.2 73.8 540.2 126.8 516.5 77.6 566.6 121.1 578.7 101.9 484.4 83.3 553.3 134 565.6 105.1 468.2 78.6 520.8 131.6 526.9 132 495.1 78.2 488.2 90.4 511.6 76.1 495.5 105.5 496.8 104.8 552.5 86.5 474.8 72.6 547.7 82.8 504.9 93.4 473.5 77.1 546.2 94.7 512.8 91 472.3 96.4 456.8 125.7 574.8 110.1 579.1 130.2 527.5 135.8 557.9 81.5 484.4 83.9 540.2 118.8 578.2 87.6 568.3 132.7 474.6 81.3 509.5 84.7 464.3 77.3 524.6 132.7 552.3 82.5 480.1 127.2 569 87.7 532.3 118.9 515.9 85.6 546 136.3 536.1 134.5 510.2 127.2 527.6 119.2 507.3 92 505.3 122.9 484.9 73.9 526.3 132.6 493.1 76.9 564.9 84.2 483.1 70.1 467.7 121 478.2 104.7 507.8 116.1 518.4 77.2 490.6 127.8 474.2 83.5 491.3 90.3 533.6 97 460.9 84 474.2 82.2 513.5 123.5 543.2 121 472.2 73.7 467.7 90.9 504.2 82.7 521.5 127.4 463.1 77.9 507.6 128.9 530.1 119.7 543.1 97.9 562.4 78 540.7 88.5 533.6 112.2 466.2 87.5 500.5 121.1 562.3 79.8 537.7 95.8 556.6 88.1 503.9 88.1 455 106.6 562.4 127.2 503.5 87.2 534 87.9 489.8 126.1 502.2 77.2 500.8 89.5 495.3 125.8 483.2 116.2 535.8 136.2 487.3 108.6 530.6 83.8 464.3 126 518.4 80.4 561 127.1 481.9 83.3 549.1 131.9 470.6 113.6 560.5 115.7 486.1 98.1 500.5 81.6 551.2 88.8 457.1 118.2 570.4 118.5 535.4 86.5 508.3 124.5 507.2 121.3 474.3 122 581.8 83.1 562.7 126.3 555.8 85.8 559.1 88.3 566.7 125.1 562.3 86.4 510.9 119.1 546.9 129.2 545.2 135 505.1 128.2 562.5 131 494.8 88.7 563.3 128.7 513.4 86.9 501.5 108.3 572.8 119.4 546.6 136.4 506.8 85.2 545.2 99.1 507 106.6 558.8 95.7 496.8 78.3 519.4 94 523.4 116.2 509.1 78.4 496.3 87.3 492.9 118.1 486.6 82.4 520.8 127.5 460.4 81.3 484.2 77.7 483.6 75.4 475.9 112.9 518.9 132.8 557.3 121.5 477.9 102 460.6 78.3 531.4 128.9 506.3 129.2 474.2 75.1 551.7 94.6 509.5 85.5 553.9 135.4 546.1 91.4 512.2 118.7 548.6 136.9 534.5 132.9 533 97.2 485.9 123 573.2 85.2 486.1 101.2 523 88.9 548.8 99.8 481.3 97.8 498.5 115.1 498 70.6 475.7 79.2 519.4 95.8 513.7 106.5 498.4 71.1" fill="none" stroke="none" marker-start="url(#s)" marker-mid="url(#s)" marker-end="url(#s)" opacity="0.7"/>
<path d="M467 68 519.7 75.2 527.9 77 505.5 63.4 565.7 75.4 469.4 57.1 525.3 73.2 548.1 73.2 571.3 71.7 501.2 67.1 467.1 72.2 569.7 74.9 552.8 72.8 485.3 67.6 513.3 71.1 491.4 67.7 506 57.2 523.9 73.5 507.2 70.3 583 69.9 488.3 56.6 486.6 67.7 526.1 75.6 515.4 73.1 538.3 81.8 497.8 61.2 536.5 75.2 526.1 78.5 528.2 79.4 512.7 71.6 478.1 64.7 565.4 73.9 471.6 65.3 520.5 74.4 515.5 73.3 482.8 57.4 454.8 72.5 485.7 67.6 534.6 79.2 485.7 60.7 504.5 69.2 471.1 67.2 512.6 68.2 544.1 80.8 486.9 59.7 508.3 70 541.4 82.8 458.3 72.8 454 66.6 581 71.7 554.5 73.2 516.3 62 459.8 69.5 459.5 75.5 510.4 59.1 567.5 75 525.7 71.8 544.4 68.7 538.9 81.3 530.7 72.2 463.5 71.2 490 64.6 522.8 74 502.5 66.3 467.4 70.3 581.7 71.6 577.6 70.8 500.3 66.6 514.9 73.2 461.7 68.3 453.5 73.8 509.4 68.4 500.8 65.8 551.8 78.2 509.4 62.9 546 81.6 456.6 75.1 480.1 66.7 519.4 145.1 515.4 138.7 484 137 501.7 145.6 570.4 135.3 558.1 137.9 518 143.9 574.1 135 538.8 140.2 562.6 142.8 560.6 150.5 520.4 136.3 566.2 137.7 570.2 134.2 508.6 139.8 533.6 140 523.4 136.9 484.6 133 554.5 142.7 506 133.5 576.9 139.1 456.9 136.7 472.8 130.8 476.1 130 494 144 467.6 133.1 583.1 135.6 580.1 132.4 577.6 134.9 468.3 135.6 521.2 136.4 561.1 139.5 545 144 577 134.2 481.6 136.6 563.7 137.6 503.4 132.1 499.3 131.2 583.8 131.4 489.3 134.4 533.8 146.6 571.1 138.1 580.3 134.5 488 136.4 510.7 135.6 545.2 142.8 540.8 142.9 509.2 134.6 483 129.9 458 130.8 565.9 145.4 455.6 131 473.1 139.2 468.5 131.2 506.8 140.9 534.4 140.5 565.5 138.6 551.2 143.2 545.7 146.6 565 135.2 555.9 140.1 474.3 130.2 518.1 137.6 581.6 139.8 488.2 135.7 535.5 139.1 573.3 134.4 488.1 143 578.4 137 493 130.4 452.5 134 567.6 134.8 578.8 132.2 523.8 140.3 490.5 133.1 542.4 147.1 474.1 130 482.1 135 452.5 108.8 452.9 130.8 449.4 101 452.7 86.7 452.4 106.7 451 79.6 451.3 82.2 452 103.6 453.3 109.9 452.5 84.7 453.1 120.7 452.1 124.7 452.6 112.3 449.8 110.5 452 82.8 452.2 79.6 453.3 112.3 452.1 93.5 453.1 77.7 452.8 106.1 453.2 115.7 452.6 81.9 452.9 106.5 452.8 81.7 584.5 97.4 583.8 93.9 583.7 88.6 589.3 118.3 583.5 94.4 583.7 90 583.6 99.6 583.2 113.4 583.7 124.2 583.2 127.9 583.3 81.6 584 90.3 584.6 130.1 584.1 85.8 583.3 96.9 583.4 86.1 583.3 124.1 583.7 86.9 584.1 73.7 584.1 81.9 583.9 130.8 583.9 99.5 583.7 90.4 583.6 112.8 458.3 47.6 507.4 68.3 494.1 71.6 477.3 53 487.8 51.6 502.5 55.6 489.6 64.8 458.1 52.7 498.9 67.2 488.4 69.7 503.9 52.5 464.9 51.5 480 60.5 506.9 68.1 464 68.2 510.1 70.5 475.3 62.1 472 50.8 505.6 68.6 461.2 49.5 467.1 59.5 463.9 62.5 473.6 49.4 475.9 49.4 493.3 66.9 470.2 61.9 458.4 52.7 472.6 53.7 485.9 64.4 504.9 57.7 478 49.5 471.6 61.4 508.4 57.5 510.1 49.7 459.3 55.1 500.7 57.8 487.6 56.3 477.8 48 470.9 66.2 496.3 58.7 506.6 63.7 463.9 61 479.2 55.6 463.7 58 477.3 58.5 505.6 61.6 498.2 66.8 459.9 71.5 510.2 53.4 488.2 52.2 476.4 63.3 495.3 69.8 465.9 56.2 483.2 65.3 458.1 52.3 498.2 68.8 478.8 62.4 498.3 68 484.7 62.6 474.5 70.6 494.5 69.3 474.1 60.7 500.2 62.5 485.4 56.7 497 67.3 478.5 63.6 493.4 62.7 493.2 57.1 480.9 64.2 493.5 68.8 495.3 66 470.7 61.7 488.1 65.9 506.6 67.5 483.7 61.8 471.9 56.1 494.8 68.5 504.8 62 468.4 70.3 485.9 62.8 468.7 69.1 484.6 65.4 501.3 67.8 505.6 59.8 504.5 57.4 495.6 68 489.3 60 488 61.9 500.3 58.6 478.2 67.1 483.2 69.3 490.8 58.6 478.5 66.8 468.8 61.6 477.8 71.2 471.8 67.7 473 59.7 503.6 58.7 491.1 64.2 491.5 65.9 562.2 63.6 580.7 66.6 558.3 63.6 559.4 60.5 575.5 51.9 577.8 67.6 571.7 54.6 563.1 55.7 562.2 69 563.9 62.6 563.4 50.3 564.5 61.7 576 59.7 561 52.2 571.7 55.1 570.7 54 576.4 156.1 453 56 456 52 492 46 502 48 504 47" fill="none" stroke="none" marker-start="url(#c)" marker-mid="url(#c)" marker-end="url(#c)"/>
<path d="M452 74.3 L454.7 74.3 L457.5 74.3 L460.2 74.3 L462.9 74.3 L465.7 74.3 L468.4 74.3 L471.1 74.3 L473.9 74.3 L476.6 74.3 L479.3 74.3 L482.1 74.3 L484.8 74.1 L487.6 73.9 L490.3 73.6 L493 73.3 L495.8 73 L498.5 72.7 L501.2 72.4 L504 72.3 L506.7 72.2 L509.4 72.3 L512.2 72.8 L514.9 73.4 L517.6 74.2 L520.4 75 L523.1 75.9 L525.8 77.2 L528.6 78.8 L531.3 80.4 L534 81.7 L536.8 82.4 L539.5 82.4 L542.2 81.9 L545 81 L547.7 80 L550.4 79.1 L553.2 78.2 L555.9 77.4 L558.7 76.6 L561.4 75.7 L564.1 74.8 L566.9 74.1 L569.6 73.6 L572.3 73.2 L575.1 73.2 L577.8 73.1 L580.5 73 L583.3 73 L586 73" fill="none" stroke="#000" stroke-width="1.8" stroke-dasharray="7 6" opacity="0.9"/>
<path d="M452 132.3 L454.7 132.1 L457.5 131.9 L460.2 131.7 L462.9 131.6 L465.7 131.5 L468.4 131.4 L471.1 131.3 L473.9 131.3 L476.6 131.3 L479.3 131.2 L482.1 131.2 L484.8 131.2 L487.6 131.2 L490.3 131.2 L493 131.3 L495.8 131.7 L498.5 132.2 L501.2 132.9 L504 133.7 L506.7 134.4 L509.4 135.1 L512.2 135.6 L514.9 136.2 L517.6 136.7 L520.4 137.2 L523.1 137.7 L525.8 138.3 L528.6 138.8 L531.3 139.4 L534 140 L536.8 140.7 L539.5 141.5 L542.2 142.1 L545 142.5 L547.7 142.5 L550.4 142 L553.2 141.1 L555.9 140 L558.7 138.8 L561.4 137.6 L564.1 136.6 L566.9 135.9 L569.6 135.3 L572.3 134.7 L575.1 134.1 L577.8 133.6 L580.5 133.1 L583.3 132.7 L586 132.3" fill="none" stroke="#000" stroke-width="1.8" stroke-dasharray="7 6" opacity="0.9"/>
<path d="M454.5 104.5 L457.1 104.7 L459.7 104.9 L462.3 105.1 L464.9 105.2 L467.5 105.3 L470.1 105.3 L472.7 105.3 L475.3 105.2 L477.9 105.2 L480.5 105.1 L483.1 105 L485.7 105 L488.3 104.8 L490.9 104.7 L493.5 104.6 L496.1 104.5 L498.7 104.4 L501.3 104.3 L503.9 104.1 L506.5 103.9 L509.1 103.7 L511.7 103.5 L514.3 103.4 L516.9 103.3 L519.6 103.5 L522.2 104 L524.8 104.8 L527.4 105.9 L530 107.1 L532.6 108.3 L535.2 109.5 L537.8 110.5 L540.4 111.3 L543 111.7 L545.6 112.1 L548.2 112.4 L550.8 112.6 L553.4 112.6 L556 112 L558.6 111.1 L561.2 110 L563.8 108.9 L566.4 108.1 L569 107.3 L571.6 106.5 L574.2 105.8 L576.8 105.1 L579.4 104.6 L582 104.3" fill="none" stroke="#000" stroke-width="1.4" opacity="0.5"/>
<path d="M454.5 104.5 L457.1 104.7 L459.7 104.9 L462.3 105.1 L464.9 105.2 L467.5 105.3 L470.1 105.3 L472.7 105.3 L475.3 105.2 L477.9 105.2 L480.5 105.1 L483.1 105 L485.7 105 L488.3 104.8 L490.9 104.7 L493.5 104.6 L496.1 104.5 L498.7 104.4 L501.3 104.3 L503.9 104.1 L506.5 103.9 L509.1 103.7 L511.7 103.5 L514.3 103.4 L516.9 103.3 L519.6 103.5 L522.2 104 L524.8 104.8 L527.4 105.9 L530 107.1 L532.6 108.3 L535.2 109.5 L537.8 110.5 L540.4 111.3 L543 111.7 L545.6 112.1 L548.2 112.4 L550.8 112.6 L553.4 112.6 L556 112 L558.6 111.1 L561.2 110 L563.8 108.9 L566.4 108.1 L569 107.3 L571.6 106.5 L574.2 105.8 L576.8 105.1 L579.4 104.6 L582 104.3" fill="none" stroke="#000" stroke-width="1.8" opacity="0.9" stroke-dasharray="3.5 2.2 2.6 1.6 4.0 2.3 3.3 3.0 3.0 3.2 2.5 1.5 4.2 2.9 3.6 1.1 3.9 2.1 2.6 1.2 2.5 2.1 3.6 2.4 3.5 2.9 3.1 2.8 3.1 1.8 2.7 1.3 3.6 3.0 2.9 2.4 4.0 2.2 3.8 3.1 2.7 3.9 4.0 3.6 2.8 2.3 3.9 1.8 2.7 3.3 4.4 1.3 4.3 2.9 2.9 1.8 4.1 3.1 2.8 2.8 2.8 2.6 3.3 2.1 2.9 2.6 4.4 2.7 3.2 1.3 4.3 1.3 3.3 2.4 2.6 2.1 3.9 1.2 3.3 1.0 3.3 2.1 4.3 1.0 3.5 2.7 3.5 3.8 3.9 2.9 2.6 1.5 3.9 3.7 2.9 2.8 4.4 1.8 2.5 2.4 3.1 2.1 2.7 3.2 2.7 3.4 3.7 1.6 3.8 1.0 4.4 3.5 4.4 1.0 2.9 3.7 2.9 2.4 2.8 3.7"/>
<path d="M452 104.3 L452.2 104.3 L452.5 104.3 L452.7 104.4 L452.9 104.4 L453.1 104.4 L453.4 104.4 L453.6 104.4 L453.8 104.5 L454 104.5 L454.3 104.5 L454.5 104.5" fill="none" stroke="#000" stroke-width="1.6"/>
<path d="M582 104.3 L582.4 104.2 L582.7 104.2 L583.1 104.2 L583.5 104.1 L583.8 104.1 L584.2 104.1 L584.5 104.1 L584.9 104 L585.3 104 L585.6 104 L586 104" fill="none" stroke="#000" stroke-width="1.6"/>
</g>
<rect x="449" y="37.6" width="137" height="138.6" fill="none" stroke="#333" stroke-width="1.3"/>
<path d="M461 176.2v5M461 37.6v-5M485 176.2v5M485 37.6v-5M509 176.2v5M509 37.6v-5M533 176.2v5M533 37.6v-5M557 176.2v5M557 37.6v-5M581 176.2v5M581 37.6v-5M449 169.9h-5M586 169.9h5M449 136.4h-5M586 136.4h5M449 102.9h-5M586 102.9h5M449 69.4h-5M586 69.4h5M449 37.6h-5M586 37.6h5" stroke="#333" stroke-width="1.2" fill="none"/>
<g font-size="10" fill="#1e1e1e" stroke="#1e1e1e" stroke-width="0.25" style="letter-spacing:0.2px"><text transform="translate(461.8 193.1) scale(1.06 1)" text-anchor="middle">0.4</text><text transform="translate(485.8 193.1) scale(1.06 1)" text-anchor="middle">0.6</text><text transform="translate(509.8 193.1) scale(1.06 1)" text-anchor="middle">0.8</text><text transform="translate(533.8 193.1) scale(1.06 1)" text-anchor="middle">1.0</text><text transform="translate(557.8 193.1) scale(1.06 1)" text-anchor="middle">1.2</text><text transform="translate(581.8 193.1) scale(1.06 1)" text-anchor="middle">1.4</text><text transform="translate(442.7 173.5) scale(1.06 1)" text-anchor="end">50</text><text transform="translate(442.7 140) scale(1.06 1)" text-anchor="end">100</text><text transform="translate(442.7 106.5) scale(1.06 1)" text-anchor="end">150</text><text transform="translate(442.7 73) scale(1.06 1)" text-anchor="end">200</text></g>
<text x="522.2" y="26.1" text-anchor="middle" font-size="10" fill="#1e1e1e" stroke="#1e1e1e" stroke-width="0.3">SBP</text>
<text x="519.6" y="208.3" text-anchor="middle" font-size="10" fill="#1e1e1e" stroke="#1e1e1e" stroke-width="0.3">Time</text>
<text transform="translate(414.3 113.6) rotate(-90)" text-anchor="middle" font-size="10" fill="#1e1e1e" stroke="#1e1e1e" stroke-width="0.3">Observations</text>
<clipPath id="k4"><rect x="636.6" y="37.6" width="136.29999999999995" height="138.9"/></clipPath>
<g clip-path="url(#k4)">
<path d="M637 119 L639.3 119 L641.6 119 L643.9 119 L646.2 119 L648.5 119 L650.8 119 L653.1 119 L655.4 119 L657.7 119 L660.1 119 L662.4 119 L664.7 119 L667 119 L669.3 119 L671.6 119 L673.9 118.9 L676.2 118.8 L678.5 118.6 L680.8 118.4 L683.1 118.1 L685.4 117.8 L687.7 117.6 L690 117.4 L692.3 117.3 L694.6 117.3 L696.9 117.4 L699.2 117.7 L701.5 118 L703.8 118.4 L706.2 118.9 L708.5 119.3 L710.8 119.8 L713.1 120.3 L715.4 121 L717.7 121.8 L720 122.7 L722.3 123.4 L724.6 124 L726.9 124.3 L729.2 124.2 L731.5 123.6 L733.8 122.8 L736.1 121.8 L738.4 120.8 L740.7 119.9 L743 119.3 L745.3 119 L747.6 118.9 L749.9 118.7 L752.3 118.6 L754.6 118.6 L756.9 118.5 L759.2 118.4 L761.5 118.3 L763.8 118.3 L766.1 118.3 L768.4 118.2 L770.7 118.2 L773 118.2 L773 161.3 L770.7 161.5 L768.4 161.7 L766.1 161.9 L763.8 162.2 L761.5 162.4 L759.2 162.6 L756.9 162.8 L754.6 163 L752.3 163.3 L749.9 163.5 L747.6 163.7 L745.3 164 L743 164.2 L740.7 164.5 L738.4 164.9 L736.1 165.2 L733.8 165.4 L731.5 165.6 L729.2 165.7 L726.9 165.6 L724.6 165.4 L722.3 165.1 L720 164.7 L717.7 164.3 L715.4 163.8 L713.1 163.3 L710.8 162.9 L708.5 162.4 L706.2 161.8 L703.8 161.2 L701.5 160.7 L699.2 160.2 L696.9 159.8 L694.6 159.6 L692.3 159.6 L690 159.7 L687.7 159.7 L685.4 159.9 L683.1 160 L680.8 160.1 L678.5 160.2 L676.2 160.3 L673.9 160.4 L671.6 160.4 L669.3 160.4 L667 160.4 L664.7 160.3 L662.4 160.3 L660.1 160.2 L657.7 160.1 L655.4 160 L653.1 159.8 L650.8 159.7 L648.5 159.5 L646.2 159.3 L643.9 159.1 L641.6 158.9 L639.3 158.6 L637 158.4Z" fill="#d9dedf"/>
<path d="M641 131.6 L642.7 125.4 L644.4 123.2 L646.1 121.8 L647.9 120.8 L649.6 120.1 L651.3 119.7 L653 119.6 L654.5 119.6 L656.1 119.6 L657.6 119.6 L659.1 119.6 L660.6 119.6 L662.2 119.6 L663.7 119.6 L665.2 119.6 L666.8 119.6 L668.3 119.6 L669.8 119.6 L671.3 119.6 L672.9 119.6 L674.4 119.5 L675.9 119.4 L677.5 119.3 L679 119.1 L680.5 119 L682.1 118.8 L683.6 118.6 L685.1 118.5 L686.6 118.3 L688.2 118.2 L689.7 118.1 L691.2 118 L692.8 117.9 L694.3 117.9 L695.8 117.9 L697.3 118.1 L698.9 118.2 L700.4 118.4 L701.9 118.7 L703.5 118.9 L705 119.2 L706.5 119.5 L708 119.8 L709.6 120.2 L711.1 120.5 L712.6 120.8 L714.2 121.2 L715.7 121.7 L717.2 122.3 L718.7 122.8 L720.3 123.4 L721.8 123.9 L723.3 124.3 L724.9 124.7 L726.4 124.9 L727.9 124.9 L729.4 124.7 L731 124.4 L732.5 123.9 L734 123.3 L735.6 122.7 L737.1 122 L738.6 121.3 L740.2 120.7 L741.7 120.2 L743.2 119.8 L744.7 119.6 L746.3 119.5 L747.8 119.5 L749.3 119.4 L750.9 119.3 L752.4 119.2 L753.9 119.2 L755.4 119.1 L757 119.1 L758.5 119 L760.2 119.1 L761.9 119.4 L763.6 120.1 L765.4 121 L767.1 122.4 L768.8 124.6 L770.5 130.8 L770.5 148.9 L768.8 155.3 L767.1 157.6 L765.4 159.3 L763.6 160.4 L761.9 161.2 L760.2 161.8 L758.5 162.1 L757 162.2 L755.4 162.4 L753.9 162.5 L752.4 162.7 L750.9 162.8 L749.3 163 L747.8 163.1 L746.3 163.3 L744.7 163.4 L743.2 163.6 L741.7 163.8 L740.2 164 L738.6 164.2 L737.1 164.4 L735.6 164.6 L734 164.8 L732.5 165 L731 165.1 L729.4 165.1 L727.9 165.1 L726.4 165 L724.9 164.9 L723.3 164.7 L721.8 164.4 L720.3 164.2 L718.7 163.9 L717.2 163.6 L715.7 163.3 L714.2 163 L712.6 162.7 L711.1 162.4 L709.6 162.1 L708 161.7 L706.5 161.3 L705 160.9 L703.5 160.5 L701.9 160.1 L700.4 159.8 L698.9 159.5 L697.3 159.2 L695.8 159.1 L694.3 159 L692.8 159 L691.2 159 L689.7 159.1 L688.2 159.1 L686.6 159.2 L685.1 159.3 L683.6 159.3 L682.1 159.4 L680.5 159.5 L679 159.6 L677.5 159.7 L675.9 159.7 L674.4 159.8 L672.9 159.8 L671.3 159.8 L669.8 159.8 L668.3 159.8 L666.8 159.8 L665.2 159.7 L663.7 159.7 L662.2 159.7 L660.6 159.6 L659.1 159.5 L657.6 159.5 L656.1 159.4 L654.5 159.3 L653 159.2 L651.3 159 L649.6 158.5 L647.9 157.7 L646.1 156.5 L644.4 154.9 L642.7 152.6 L641 146.2Z" fill="#2240a8"/>
<path d="M685.2 143.7 706.8 151.5 681.7 126.7 655.5 155.9 680 156.9 668.9 149.2 706.4 129.1 645 143.5 752.6 152.2 718.9 127.1 736.4 160.6 706.7 132.8 677.1 151.6 659.8 124.7 647 148.4 675.8 157.5 683.9 125.9 709.8 154.8 759.6 154.2 695 122.6 677.7 122.5 667.4 153.9 738.6 127.1 759 155.4 681.3 148.6 656.7 152.3 745.1 130.6 720.6 135 712.6 153.2 668.2 143.6 646.1 126.7 761.4 127.4 754.9 122.1 716.1 123.9 658.4 149 719.1 149.6 709.8 125.3 670.6 157.2 695.7 120.8 733.8 129.5 719.8 134.3 652.6 155.1 710.8 122.7 674.7 125.2 699.2 124 721.3 151 703.1 131 702.9 133.6 664.9 157.2 665.9 128.3 761.7 157.3 743.6 153.2 750.6 123 756.2 127 707.7 150.9 720.9 140.5 652.8 127.2 724.2 126.6 736.9 155.5 646.4 126.3 692.9 122.1 716.3 144.1 643.1 150 721.2 134.4 686.4 120.9 703.1 153.1 748.9 149 729.1 154.3 685.1 125.1 741.4 154 703.7 155.3 710.5 125.4 652.9 146.1 740.9 123.4 720.8 160 759.8 155.7 749.5 135.1 707.3 158.8 647.1 125.6 759.6 135.4 706.5 152.5 734.6 156.6 728.8 162.1 754.8 157.6 643.7 130.3 727 130.7 757.8 131.3 741.7 135.9 681 121.5 679.7 139.7 752.1 155.3 747.2 157 672.3 146.3 727.2 129.1 743.6 129.4 693.6 150 759.7 154.2 693.7 156.7 728.9 133.4 671.4 126.3 730.2 154.3 714.4 128.9 701.5 121.9 749.9 141.4 732.7 129.4 686 126.4 758.5 158.6 699.5 125.8 768.3 135.9 757 121.9 645.4 130.7 762.8 137.5 668.5 130.7 735.1 128 670.7 122.9 751.1 121.3 692.5 124.7 698.4 155 686.1 126.8 647.7 124.8 764.5 159.2 746 160.5 720.4 132.8 682.5 125.3 697.3 157.2 681.4 148 647.4 151.3 689.6 124.1 679.6 150.2 726.9 153.7 679 152.7 695.7 147.1 740.6 130.6 762.2 140.8 692.3 122 737.9 137 745.4 134.6 668.6 124.6 733.8 132.7 715.2 129.4 661.6 125.7 679.3 154.7 741.9 128.5 734.9 129.9 678 148.9 673.7 130.4 672.6 156.6 757.7 154.9 711.9 141 670.2 126.5 721.5 154.6 654.7 121.9 717.2 125.7 719.5 150.4 738.4 160.7 745.1 126.6 650.6 126.4 718.7 129.4 711.9 158.6 748 130.3 703.6 123.4 759.5 124.6 676.9 125.1 681.8 155.1 707.8 127 690.1 132.8 746.5 147.5 703.8 125.8 708.7 152.7 768.1 122.9" fill="none" stroke="none" marker-start="url(#s)" marker-mid="url(#s)" marker-end="url(#s)" opacity="0.7"/>
<path d="M687.5 111.9 649.7 117.4 744.8 106.4 654.6 116 727.2 120.3 709.6 109.2 748.6 118.2 643.4 119.1 664.1 115.7 707.9 115 697.8 116.8 749.2 106.2 745.9 112.4 670.5 117.3 748.6 116.6 665.7 118.3 671.3 113.5 769.1 112.3 740.3 120.9 715 120.2 658.3 118.3 743.9 118.9 692.6 115.8 712.1 109.1 647 111.9 645.9 112.6 769.6 115.2 729.3 123.3 667.1 117.2 753.4 119.1 700.8 105.3 688.3 116.4 721.1 120.2 729.7 122.7 652 112.9 696.1 117.4 765 116.6 708.9 120.1 663.7 119.4 694.6 112.5 653.6 119.6 691.4 116.1 672.1 116 749.1 120.1 677.2 117.2 662.2 106.4 723.2 124 756.1 119.6 759.7 117.6 754.2 113.6 738.2 110.7 734 123.3 701.7 112 719.9 112.7 670.4 117.5 691.6 107 754.1 119.9 642.9 115.1 711.7 107.6 742.7 115.2 768.2 105.6 654.2 120.1 663.3 112.1 732.6 113.6 717.9 123.1 744.4 117.5 752.1 114.7 726.6 122.3 725.6 116 764.4 109.9 701.4 115.2 766.3 107.7 694.8 116.1 725.1 123.7 693 117.8 755.4 118.9 766.7 115.3 735.6 121.2 725.8 123.4 751.3 118.5 695.5 112.3 750.9 111.3 748.7 112.1 675.3 117.3 707.2 119.6 701.5 112 693.9 114.6 708.6 120.7 660.5 120.1 670.1 118.8 676.4 119.8 682.5 105.6 710.9 108 762.7 109.2 685.2 116.4 670.3 119 687.7 114.7 667.1 165.5 649.7 162.1 751.4 165.7 745.1 167.2 766.4 174.5 644.1 160.1 654.6 168.8 741.7 165.4 711.6 168.6 737.2 165.5 753.4 162 744.9 171.5 711.4 162.2 663.4 159.2 737.4 164.7 742.8 168.8 710.2 162.7 741.4 163.6 730.7 167.8 714.2 172.6 645.2 159.2 647.2 162.2 714.9 162.9 723 165.1 659.1 159.6 741.4 163.3 701.1 159.5 698.5 165.1 736.2 172.6 732.8 164.4 666.7 159.8 718.8 173.9 675.6 165.4 675.6 160.5 762.4 161.9 656.8 168.9 754.2 164.5 696.8 162.9 647.1 158.2 662.6 165.1 747.1 163 732.4 166.4 751.4 163 700 158.9 645.3 160.1 678.8 158.9 717.1 165.4 699.9 160.6 664.4 161.2 694.2 162.7 650.1 159.7 747.2 168.8 764.5 163.1 755.3 161.7 663.3 159.6 750.1 164.9 720.9 166.6 746.3 163 762.9 168.1 732.7 168.3 649.1 163.7 683.3 159.2 657.7 163.4 685 159.5 719.8 169.7 760.9 167.1 671.7 161.5 769.5 164.9 761.9 163.9 768.2 161.1 722 174.2 690.1 160.2 747.4 166.3 675.6 160.2 641.4 161 714.8 163.1 751.3 169.5 706.2 162.3 671.8 173 744.5 163.2 681.2 161.5 757.3 166.4 690.1 163.9 669.2 160.9 750 166.8 729.2 168.1 692.4 160 647.9 161.1 768.7 163.8 714.3 166.2 673.3 169.5 768 161.6 712.2 162.8 766.4 161.4 765.5 167.1 684 159.6 732.1 165.8 641.6 147.4 641.8 127.6 641.6 143.7 641.6 133.3 641.7 138.8 640.8 130.4 641.5 135.5 641.6 144.7 640.2 119.6 641.1 120.9 641.2 147.3 640.6 124.5 636.9 151.6 640.4 128.3 641.5 146.1 641.5 141.9 641.3 131.5 640.7 139 641.5 138.6 641.2 149.3 640.9 155.8 639.1 122.2 640.3 140.4 640.9 130.6 771.3 122.6 770.6 158.9 769.8 127 770.2 125.6 770 126 769.8 133.5 770 127.3 769.9 128.6 769.7 147.9 770.3 138.4 770 130.5 770.3 150 771.3 159.1 770.8 159.7 773.9 148 771.6 137.5 769.9 153.5 769.9 125.1 770.7 129.8 771.2 157.6 770.3 145 770.1 154 770 136.9 769.8 123.4 674.4 105.2 680.7 104.1 667.9 103.4 674.4 106.5 661.6 105.8 668 109.8 666 103.8 675.1 106.5 678.8 102.5 683.5 102.9 660.1 108.2 665.6 105.3 663 103.8 666.4 104.7 673 103 677 104 713 107 721 108 758 106 664 170 695 170 747 170 760 171" fill="none" stroke="none" marker-start="url(#c)" marker-mid="url(#c)" marker-end="url(#c)"/>
<path d="M640 119 L642.7 119 L645.4 119 L648.1 119 L650.9 119 L653.6 119 L656.3 119 L659 119 L661.7 119 L664.4 119 L667.1 119 L669.9 119 L672.6 119 L675.3 118.9 L678 118.6 L680.7 118.4 L683.4 118.1 L686.1 117.8 L688.9 117.5 L691.6 117.4 L694.3 117.3 L697 117.4 L699.7 117.7 L702.4 118.1 L705.1 118.7 L707.9 119.2 L710.6 119.8 L713.3 120.4 L716 121.2 L718.7 122.2 L721.4 123.2 L724.1 123.9 L726.9 124.3 L729.6 124.1 L732.3 123.4 L735 122.3 L737.7 121.1 L740.4 120 L743.1 119.2 L745.9 119 L748.6 118.8 L751.3 118.7 L754 118.6 L756.7 118.5 L759.4 118.4 L762.1 118.3 L764.9 118.3 L767.6 118.2 L770.3 118.2 L773 118.2" fill="none" stroke="#000" stroke-width="1.8" stroke-dasharray="7 6" opacity="0.9"/>
<path d="M640 158.7 L642.7 159 L645.4 159.2 L648.1 159.5 L650.9 159.7 L653.6 159.8 L656.3 160 L659 160.1 L661.7 160.2 L664.4 160.3 L667.1 160.4 L669.9 160.4 L672.6 160.4 L675.3 160.3 L678 160.2 L680.7 160.1 L683.4 160 L686.1 159.8 L688.9 159.7 L691.6 159.6 L694.3 159.6 L697 159.8 L699.7 160.2 L702.4 160.9 L705.1 161.6 L707.9 162.3 L710.6 162.9 L713.3 163.4 L716 163.9 L718.7 164.5 L721.4 165 L724.1 165.4 L726.9 165.6 L729.6 165.7 L732.3 165.6 L735 165.3 L737.7 165 L740.4 164.6 L743.1 164.2 L745.9 163.9 L748.6 163.6 L751.3 163.4 L754 163.1 L756.7 162.8 L759.4 162.6 L762.1 162.3 L764.9 162.1 L767.6 161.8 L770.3 161.5 L773 161.3" fill="none" stroke="#000" stroke-width="1.8" stroke-dasharray="7 6" opacity="0.9"/>
<path d="M643 139.5 L645.6 139.7 L648.1 139.8 L650.7 139.9 L653.2 140 L655.8 140.1 L658.4 140.1 L660.9 140.1 L663.5 140.2 L666.1 140.2 L668.6 140.2 L671.2 140.2 L673.7 140.2 L676.3 140 L678.9 139.9 L681.4 139.7 L684 139.5 L686.5 139.3 L689.1 139.1 L691.7 139 L694.2 139 L696.8 139.1 L699.3 139.4 L701.9 139.8 L704.5 140.4 L707 140.9 L709.6 141.5 L712.2 142.1 L714.7 142.8 L717.3 143.8 L719.8 144.7 L722.4 145.6 L725 146.2 L727.5 146.4 L730.1 146.2 L732.6 145.8 L735.2 145.2 L737.8 144.6 L740.3 143.9 L742.9 143.2 L745.4 142.7 L748 142.3 L750.6 141.8 L753.1 141.3 L755.7 140.9 L758.3 140.6 L760.8 140.3 L763.4 140.2 L765.9 140.1 L768.5 140" fill="none" stroke="#000" stroke-width="1.4" opacity="0.5"/>
<path d="M643 139.5 L645.6 139.7 L648.1 139.8 L650.7 139.9 L653.2 140 L655.8 140.1 L658.4 140.1 L660.9 140.1 L663.5 140.2 L666.1 140.2 L668.6 140.2 L671.2 140.2 L673.7 140.2 L676.3 140 L678.9 139.9 L681.4 139.7 L684 139.5 L686.5 139.3 L689.1 139.1 L691.7 139 L694.2 139 L696.8 139.1 L699.3 139.4 L701.9 139.8 L704.5 140.4 L707 140.9 L709.6 141.5 L712.2 142.1 L714.7 142.8 L717.3 143.8 L719.8 144.7 L722.4 145.6 L725 146.2 L727.5 146.4 L730.1 146.2 L732.6 145.8 L735.2 145.2 L737.8 144.6 L740.3 143.9 L742.9 143.2 L745.4 142.7 L748 142.3 L750.6 141.8 L753.1 141.3 L755.7 140.9 L758.3 140.6 L760.8 140.3 L763.4 140.2 L765.9 140.1 L768.5 140" fill="none" stroke="#000" stroke-width="1.8" opacity="0.9" stroke-dasharray="4.2 3.7 4.1 3.0 3.3 1.3 4.1 2.3 3.4 1.6 3.5 2.3 3.9 3.3 3.6 2.6 3.8 3.6 4.4 2.5 4.2 1.5 2.9 1.8 4.0 2.0 3.0 3.0 3.0 4.0 4.1 3.2 3.6 2.2 2.8 2.5 2.8 2.9 2.6 2.1 3.4 2.1 3.1 2.2 3.3 1.6 3.5 2.1 3.7 1.2 3.8 2.2 3.4 1.8 2.7 3.8 3.6 1.7 4.1 1.2 4.4 1.5 4.2 3.7 4.3 1.9 3.5 1.0 2.7 3.2 3.0 1.9 4.2 3.9 4.3 1.5 4.2 3.2 3.4 3.2 4.5 3.3 2.8 2.3 4.1 1.5 3.2 2.5 4.0 2.3 3.9 1.0 3.6 2.8 3.0 2.8 2.9 2.4 2.8 2.9 2.8 1.6 4.5 1.1 2.6 3.5 3.9 2.4 4.1 1.2 3.1 2.5 3.5 2.7 3.5 2.8 4.0 1.6 3.5 1.7"/>
<path d="M640 139.3 L640.3 139.3 L640.5 139.3 L640.8 139.4 L641.1 139.4 L641.4 139.4 L641.6 139.4 L641.9 139.4 L642.2 139.5 L642.5 139.5 L642.7 139.5 L643 139.5" fill="none" stroke="#000" stroke-width="1.6"/>
<path d="M768.5 140 L768.9 140 L769.3 140 L769.7 140 L770.1 140 L770.5 140 L771 140 L771.4 140 L771.8 140 L772.2 140 L772.6 140 L773 140" fill="none" stroke="#000" stroke-width="1.6"/>
</g>
<rect x="636.6" y="37.6" width="136.29999999999995" height="138.9" fill="none" stroke="#333" stroke-width="1.3"/>
<path d="M648.3 176.5v5M648.3 37.6v-5M672.3 176.5v5M672.3 37.6v-5M696.3 176.5v5M696.3 37.6v-5M720.3 176.5v5M720.3 37.6v-5M744.3 176.5v5M744.3 37.6v-5M768.3 176.5v5M768.3 37.6v-5M636.6 169.7h-5M772.9 169.7h5M636.6 136.4h-5M772.9 136.4h5M636.6 103.1h-5M772.9 103.1h5M636.6 69.8h-5M772.9 69.8h5M636.6 37.6h-5M772.9 37.6h5" stroke="#333" stroke-width="1.2" fill="none"/>
<g font-size="10" fill="#1e1e1e" stroke="#1e1e1e" stroke-width="0.25" style="letter-spacing:0.2px"><text transform="translate(649.1 193.4) scale(1.06 1)" text-anchor="middle">0.4</text><text transform="translate(673.1 193.4) scale(1.06 1)" text-anchor="middle">0.6</text><text transform="translate(697.1 193.4) scale(1.06 1)" text-anchor="middle">0.8</text><text transform="translate(721.1 193.4) scale(1.06 1)" text-anchor="middle">1.0</text><text transform="translate(745.1 193.4) scale(1.06 1)" text-anchor="middle">1.2</text><text transform="translate(769.1 193.4) scale(1.06 1)" text-anchor="middle">1.4</text><text transform="translate(630.3 173.3) scale(1.06 1)" text-anchor="end">50</text><text transform="translate(630.3 140) scale(1.06 1)" text-anchor="end">100</text><text transform="translate(630.3 106.7) scale(1.06 1)" text-anchor="end">150</text><text transform="translate(630.3 73.4) scale(1.06 1)" text-anchor="end">200</text></g>
<text x="706" y="26.1" text-anchor="middle" font-size="10" fill="#1e1e1e" stroke="#1e1e1e" stroke-width="0.3">DBP</text>
<text x="705" y="208.6" text-anchor="middle" font-size="10" fill="#1e1e1e" stroke="#1e1e1e" stroke-width="0.3">Time</text>
<clipPath id="k5"><rect x="48.5" y="260" width="136.5" height="139.60000000000002"/></clipPath>
<g clip-path="url(#k5)">
<path d="M55 304.6 L57.1 304.6 L59.1 304.6 L61.2 304.6 L63.3 304.6 L65.3 304.6 L67.4 304.6 L69.5 304.6 L71.5 304.6 L73.6 304.6 L75.7 304.6 L77.7 304.6 L79.8 304.6 L81.9 304.6 L83.9 304.7 L86 304.9 L88.1 305.1 L90.2 305.4 L92.2 305.7 L94.3 306.1 L96.4 306.4 L98.4 306.8 L100.5 307.3 L102.6 308 L104.6 309.1 L106.7 310.5 L108.8 312 L110.8 313.5 L112.9 314.9 L115 316.1 L117 316.7 L119.1 317.1 L121.2 317.3 L123.2 317.6 L125.3 317.7 L127.4 317.8 L129.4 317.5 L131.5 316.3 L133.6 314.5 L135.6 312.4 L137.7 310.3 L139.8 308.7 L141.8 307.7 L143.9 306.8 L146 305.9 L148.1 305.1 L150.1 304.4 L152.2 303.8 L154.3 303.4 L156.3 303.1 L158.4 303.1 L160.5 303.1 L162.5 303.1 L164.6 303.2 L166.7 303.3 L168.7 303.4 L170.8 303.6 L172.9 303.8 L174.9 304.2 L177 304.6 L177 352.5 L174.9 352.5 L172.9 352.5 L170.8 352.5 L168.7 352.5 L166.7 352.5 L164.6 352.5 L162.5 352.5 L160.5 352.5 L158.4 352.5 L156.3 352.5 L154.3 352.7 L152.2 353.1 L150.1 353.7 L148.1 354.4 L146 355.2 L143.9 356.1 L141.8 357.1 L139.8 358.1 L137.7 359.3 L135.6 361.3 L133.6 364 L131.5 366.8 L129.4 369.3 L127.4 371 L125.3 371.4 L123.2 370.9 L121.2 370 L119.1 368.7 L117 367.3 L115 366 L112.9 364.3 L110.8 362.2 L108.8 360 L106.7 357.7 L104.6 355.7 L102.6 354.3 L100.5 353.5 L98.4 353.1 L96.4 352.8 L94.3 352.6 L92.2 352.4 L90.2 352.2 L88.1 352.1 L86 351.9 L83.9 351.8 L81.9 351.6 L79.8 351.4 L77.7 351.2 L75.7 351 L73.6 350.8 L71.5 350.7 L69.5 350.5 L67.4 350.3 L65.3 350.1 L63.3 349.9 L61.2 349.7 L59.1 349.6 L57.1 349.4 L55 349.2Z" fill="#d9dedf"/>
<path d="M57 310.2 L57.7 307.6 L58.4 306.7 L59.1 306.1 L59.9 305.7 L60.6 305.4 L61.3 305.3 L62 305.2 L63.3 305.2 L64.6 305.2 L65.9 305.2 L67.2 305.2 L68.5 305.2 L69.8 305.2 L71.1 305.2 L72.4 305.2 L73.7 305.2 L75 305.2 L76.3 305.2 L77.6 305.2 L78.9 305.2 L80.2 305.2 L81.5 305.2 L82.8 305.3 L84.1 305.4 L85.3 305.5 L86.6 305.6 L87.9 305.7 L89.2 305.9 L90.5 306 L91.8 306.2 L93.1 306.5 L94.4 306.7 L95.7 306.9 L97 307.2 L98.3 307.4 L99.6 307.7 L100.9 308 L102.2 308.4 L103.5 309 L104.8 309.8 L106.1 310.6 L107.4 311.6 L108.7 312.5 L110 313.5 L111.3 314.5 L112.6 315.3 L113.9 316.1 L115.2 316.7 L116.5 317.2 L117.8 317.5 L119.1 317.6 L120.4 317.8 L121.7 318 L123 318.1 L124.3 318.2 L125.6 318.3 L126.9 318.4 L128.2 318.4 L129.4 318.1 L130.7 317.5 L132 316.5 L133.3 315.3 L134.6 314 L135.9 312.7 L137.2 311.4 L138.5 310.2 L139.8 309.3 L141.1 308.7 L142.4 308.1 L143.7 307.5 L145 306.9 L146.3 306.4 L147.6 305.9 L148.9 305.4 L150.2 305 L151.5 304.6 L152.2 304.4 L152.9 304.4 L153.6 304.6 L154.4 304.8 L155.1 305.3 L155.8 306.2 L156.5 308.7 L156.5 346.5 L155.8 349.1 L155.1 350.1 L154.4 350.7 L153.6 351.2 L152.9 351.6 L152.2 351.8 L151.5 352 L150.2 352.2 L148.9 352.5 L147.6 352.8 L146.3 353.1 L145 353.4 L143.7 353.8 L142.4 354.2 L141.1 354.6 L139.8 355 L138.5 355.5 L137.2 356.1 L135.9 357.1 L134.6 358.4 L133.3 359.7 L132 361.2 L130.7 362.5 L129.4 363.8 L128.2 364.7 L126.9 365.3 L125.6 365.5 L124.3 365.3 L123 365 L121.7 364.4 L120.4 363.8 L119.1 363.1 L117.8 362.3 L116.5 361.6 L115.2 360.9 L113.9 360.2 L112.6 359.4 L111.3 358.5 L110 357.6 L108.7 356.7 L107.4 355.8 L106.1 354.9 L104.8 354.1 L103.5 353.5 L102.2 352.9 L100.9 352.6 L99.6 352.3 L98.3 352.1 L97 352 L95.7 351.8 L94.4 351.7 L93.1 351.5 L91.8 351.4 L90.5 351.3 L89.2 351.2 L87.9 351.1 L86.6 351 L85.3 351 L84.1 350.9 L82.8 350.8 L81.5 350.7 L80.2 350.6 L78.9 350.4 L77.6 350.3 L76.3 350.2 L75 350.1 L73.7 350 L72.4 349.8 L71.1 349.7 L69.8 349.6 L68.5 349.5 L67.2 349.4 L65.9 349.3 L64.6 349.2 L63.3 349 L62 348.9 L61.3 348.8 L60.6 348.6 L59.9 348.3 L59.1 347.8 L58.4 347.1 L57.7 346.1 L57 343.5Z" fill="#2240a8"/>
<path d="M92.5 310.5 85.3 346.8 141.2 317.1 139.1 314.6 93.6 339.1 78 340.3 82.3 316.7 128 358.8 61.5 309.8 88.3 310.3 72.2 316.4 125 356.3 67.4 310.3 110.5 327.9 136.7 324.9 113.2 342.5 77.6 317.6 79.3 318.8 73.6 339 143.4 310.7 64.3 344.9 150.6 339.6 150.9 348.2 138.8 325.3 85.7 327 123 356.7 109.7 315.7 122 360.4 63.5 336 111.8 316.9 130.8 327 145.3 341.4 64.3 320.7 64.6 328.4 128.6 356.6 74.6 332 85.8 313.3 115.2 320.1 78.2 309 92 316.2 97.5 322.8 66.8 339.9 124.3 324.6 87.3 323.3 104.9 340.4 151 308.3 116.3 344.9 131.4 323.4 141.1 329.9 136.3 352.2 153.3 307.9 133.7 320 117.3 330 106.7 322.4 66.6 340.5 140.6 312.7 90.5 342.5 141.3 312.6 92.2 335 130.1 320.7 132.7 347.5 82 335.6 116.5 329.9 108.6 352.3 86.9 344.7 147.2 349.3 98 311.6 134.3 356.3 83.2 313.3 117.8 344.2 71 338.1 83 316.5 61.9 343.8 105.2 312.8 94.1 348.3 126.3 356.7 118.8 320.8 98.3 342.1 63 308.3 147.1 308.6 121.2 330.6 138.9 312 69.5 338.1 99 311.9 111.1 318.4 152.3 323.2 144.4 309.4 107.4 317.8 119.8 337.1 108.7 316.4 80.6 322.2 92.6 348.8 112.8 353.8 103.1 319.5 60.9 307.3 66.4 322.7 108.6 316.3 73.9 343.6 125.6 353.2 142.2 331.4 138.7 351.1 72.5 318.6 109.8 325.7 59.4 315.1 128.6 360.5 104.9 312.2 122 330.5 150.2 329 59.8 316.2 128.1 322.1 112.2 326.6 62.7 315.5 131.9 324.8 70.5 332.3 62.2 309.3 94.9 343.1 82.5 323.2 85.5 315 96.1 344.3 139.5 351.8 146.1 342 70.8 316 74.5 309.9 80.3 333.9 118.9 348 92.2 347.1 109.1 326.4 132.4 357.7 131.7 320.1 101.9 347.4 68.4 312.8" fill="none" stroke="none" marker-start="url(#s)" marker-mid="url(#s)" marker-end="url(#s)" opacity="0.7"/>
<path d="M106.2 307.4 109.1 302.6 122.8 318 137.7 311.7 122.5 318.3 154.6 303.6 143.3 304.9 57.9 304.3 145.9 302.3 127.9 314.5 92.2 303.5 113.1 313.1 67.8 304.8 69.9 297.9 126 318.7 73.2 292 111.9 307.7 62.1 299.8 100.3 297.5 149.7 297.4 154.3 302.7 93.7 304.8 81.3 305.4 104.2 309.8 129.7 306.8 148 295.7 93.6 306.7 85.2 305.1 146.7 295.9 96.9 306.5 99 298.5 73.2 305.6 138.3 300.5 110 300.3 118.6 313.1 103.6 305.8 150.8 298.6 122.5 312.8 140.8 297.1 124.4 317.5 94.2 306.6 65.8 302.6 86.6 299.9 108.2 311.3 139.6 309.5 71.3 304.5 92.9 306.8 59.9 301.9 111 312.5 78 292 110.1 306.2 138.9 310 149 305.2 153.7 300.4 139.4 297.8 100.9 300.1 137.1 312.1 76.8 304.6 66.1 298.9 80.8 351.3 116.6 372.6 71.6 353.1 81.2 351.5 132.4 362.7 114.7 360.9 66 350.3 77 353.7 112.6 366.9 85.4 352.2 124.5 364.8 80.2 351.6 90.9 355.2 117.4 362.7 101.6 357.1 78.5 351.1 81 351.1 131.7 366.5 65.5 348.8 135.4 365.9 137.4 355.5 123.5 368.3 65.6 352.3 141.5 360.8 117.4 365.5 120.8 367 111 358.5 110.8 359.2 75 350.8 55.5 315.7 57.5 307.7 57.4 333.6 56.8 344.9 57.3 338.1 57.1 348.2 57.2 336.5 57.4 315.6 57 327.3 55.3 314 57 345.9 57.2 342.8 57.6 338.7 57.6 310 57.2 316.2 55.8 314.2 57.3 347.1 56.1 320.5 56.3 312.5 57.1 307.2 55.9 323.3 56.5 330.3 57.1 313.6 57.7 344.6 156.6 316.6 156.6 305.6 156.5 304.5 155.9 316.8 157.1 331.8 155.9 350.1 156.7 326.9 156.3 305 155.9 342.5 156.4 329.9 174.3 347.6 161.8 340.4 173 322.6 161.1 351.3 167.2 328.9 164.2 319.2 166.3 342.9 165.8 316 161.2 343.1 169 340.6 172.8 304 163.9 345.6 172.9 328.3 166.9 330.5 157.3 332.5 170.4 347 163.9 346.8 164.3 323.4 163.3 314 170.4 348.9 166.2 325.1 168.5 338.3 157.9 333 166.5 293 92.8 270.9 131.5 264.2 137.8 274.3 145.8 284.6 134.2 290 140.6 290 90.1 374.1 60 291 62 294 68 293 72 292" fill="none" stroke="none" marker-start="url(#c)" marker-mid="url(#c)" marker-end="url(#c)"/>
<path d="M56 304.6 L58.5 304.6 L60.9 304.6 L63.4 304.6 L65.9 304.6 L68.3 304.6 L70.8 304.6 L73.3 304.6 L75.8 304.6 L78.2 304.6 L80.7 304.6 L83.2 304.7 L85.6 304.9 L88.1 305.1 L90.6 305.5 L93 305.8 L95.5 306.3 L98 306.8 L100.4 307.3 L102.9 308.1 L105.4 309.6 L107.9 311.3 L110.3 313.2 L112.8 314.9 L115.3 316.2 L117.7 316.9 L120.2 317.2 L122.7 317.5 L125.1 317.7 L127.6 317.8 L130.1 317.2 L132.6 315.4 L135 313 L137.5 310.5 L140 308.6 L142.4 307.5 L144.9 306.4 L147.4 305.4 L149.8 304.5 L152.3 303.8 L154.8 303.3 L157.2 303.1 L159.7 303.1 L162.2 303.1 L164.7 303.2 L167.1 303.3 L169.6 303.5 L172.1 303.7 L174.5 304.1 L177 304.6" fill="none" stroke="#000" stroke-width="1.8" stroke-dasharray="7 6" opacity="0.9"/>
<path d="M56 349.3 L58.5 349.5 L60.9 349.7 L63.4 349.9 L65.9 350.1 L68.3 350.4 L70.8 350.6 L73.3 350.8 L75.8 351 L78.2 351.3 L80.7 351.5 L83.2 351.7 L85.6 351.9 L88.1 352.1 L90.6 352.2 L93 352.5 L95.5 352.7 L98 353.1 L100.4 353.5 L102.9 354.5 L105.4 356.4 L107.9 359 L110.3 361.7 L112.8 364.2 L115.3 366.2 L117.7 367.8 L120.2 369.4 L122.7 370.7 L125.1 371.4 L127.6 370.8 L130.1 368.6 L132.6 365.4 L135 362.1 L137.5 359.5 L140 358.1 L142.4 356.8 L144.9 355.7 L147.4 354.7 L149.8 353.8 L152.3 353.1 L154.8 352.7 L157.2 352.5 L159.7 352.5 L162.2 352.5 L164.7 352.5 L167.1 352.5 L169.6 352.5 L172.1 352.5 L174.5 352.5 L177 352.5" fill="none" stroke="#000" stroke-width="1.8" stroke-dasharray="7 6" opacity="0.9"/>
<path d="M59 329.9 L60.9 330.1 L62.9 330.4 L64.8 330.6 L66.8 330.8 L68.7 331 L70.7 331.2 L72.6 331.3 L74.6 331.4 L76.5 331.5 L78.5 331.5 L80.4 331.5 L82.4 331.4 L84.3 331.4 L86.3 331.2 L88.2 331.1 L90.2 330.9 L92.1 330.8 L94.1 330.7 L96 330.5 L98 330.4 L99.9 330.4 L101.9 330.5 L103.8 330.8 L105.8 331.4 L107.7 332.1 L109.7 333 L111.6 333.9 L113.6 334.9 L115.5 335.8 L117.5 337 L119.4 338.5 L121.4 340.1 L123.3 341.3 L125.3 342 L127.2 342 L129.2 341.7 L131.1 341.4 L133.1 340.9 L135 340.3 L137 339.6 L138.9 337.8 L140.9 335.3 L142.8 332.6 L144.8 330.4 L146.7 329.4 L148.7 329.4 L150.6 329.4 L152.6 329.4 L154.5 329.4" fill="none" stroke="#000" stroke-width="1.4" opacity="0.5"/>
<path d="M59 329.9 L60.9 330.1 L62.9 330.4 L64.8 330.6 L66.8 330.8 L68.7 331 L70.7 331.2 L72.6 331.3 L74.6 331.4 L76.5 331.5 L78.5 331.5 L80.4 331.5 L82.4 331.4 L84.3 331.4 L86.3 331.2 L88.2 331.1 L90.2 330.9 L92.1 330.8 L94.1 330.7 L96 330.5 L98 330.4 L99.9 330.4 L101.9 330.5 L103.8 330.8 L105.8 331.4 L107.7 332.1 L109.7 333 L111.6 333.9 L113.6 334.9 L115.5 335.8 L117.5 337 L119.4 338.5 L121.4 340.1 L123.3 341.3 L125.3 342 L127.2 342 L129.2 341.7 L131.1 341.4 L133.1 340.9 L135 340.3 L137 339.6 L138.9 337.8 L140.9 335.3 L142.8 332.6 L144.8 330.4 L146.7 329.4 L148.7 329.4 L150.6 329.4 L152.6 329.4 L154.5 329.4" fill="none" stroke="#000" stroke-width="1.8" opacity="0.9" stroke-dasharray="2.9 2.3 3.0 3.4 3.2 2.9 4.0 1.9 2.8 1.5 4.4 1.5 4.3 2.4 4.0 3.7 4.1 1.9 3.5 3.3 2.8 2.9 2.9 1.1 4.2 1.0 4.4 1.8 3.0 3.6 3.0 2.3 3.4 1.7 3.4 1.9 4.0 2.0 4.0 2.8 2.7 1.4 3.2 1.5 3.9 2.7 3.4 2.3 4.3 3.5 3.3 3.3 4.1 3.7 3.8 3.8 4.4 1.1 4.5 1.9 3.8 3.5 4.3 1.6 2.6 1.2 2.6 3.2 3.2 2.5 3.2 1.3 3.8 1.5 2.6 2.6 4.4 3.1 3.0 2.9 2.7 3.4 3.6 2.9 4.2 3.9 4.0 1.6 4.0 2.3 3.7 2.1 4.3 1.4 4.4 1.3 2.5 2.7 3.9 2.3 3.0 3.1 3.5 2.4 3.6 1.7 2.8 2.9 3.4 2.5 3.3 1.9 3.6 2.4 3.7 3.4 3.7 3.5 3.5 3.2"/>
<path d="M56 329.4 L56.3 329.4 L56.5 329.5 L56.8 329.5 L57.1 329.6 L57.4 329.6 L57.6 329.7 L57.9 329.7 L58.2 329.7 L58.5 329.8 L58.7 329.8 L59 329.9" fill="none" stroke="#000" stroke-width="1.6"/>
<path d="M154.5 329.4 L156.5 329.4 L158.6 329.4 L160.6 329.4 L162.7 329.4 L164.7 329.5 L166.8 329.6 L168.8 329.7 L170.9 329.9 L172.9 330 L175 330.2 L177 330.4" fill="none" stroke="#000" stroke-width="1.6"/>
</g>
<rect x="48.5" y="260" width="136.5" height="139.60000000000002" fill="none" stroke="#333" stroke-width="1.3"/>
<path d="M71 399.6v5M71 260v-5M115 399.6v5M115 260v-5M158.9 399.6v5M158.9 260v-5M48.5 392.4h-5M185 392.4h5M48.5 359h-5M185 359h5M48.5 325.7h-5M185 325.7h5M48.5 292.3h-5M185 292.3h5M48.5 260h-5M185 260h5" stroke="#333" stroke-width="1.2" fill="none"/>
<g font-size="10" fill="#1e1e1e" stroke="#1e1e1e" stroke-width="0.25" style="letter-spacing:0.2px"><text transform="translate(71.8 415.2) scale(1.06 1)" text-anchor="middle">0.5</text><text transform="translate(115.8 415.2) scale(1.06 1)" text-anchor="middle">1.0</text><text transform="translate(159.7 415.2) scale(1.06 1)" text-anchor="middle">1.5</text><text transform="translate(42.2 396) scale(1.06 1)" text-anchor="end">50</text><text transform="translate(42.2 362.6) scale(1.06 1)" text-anchor="end">100</text><text transform="translate(42.2 329.3) scale(1.06 1)" text-anchor="end">150</text><text transform="translate(42.2 295.9) scale(1.06 1)" text-anchor="end">200</text></g>
<text x="119.8" y="248.5" text-anchor="middle" font-size="10" fill="#1e1e1e" stroke="#1e1e1e" stroke-width="0.3">SBP</text>
<text x="118.8" y="429.8" text-anchor="middle" font-size="10" fill="#1e1e1e" stroke="#1e1e1e" stroke-width="0.3">Time</text>
<text transform="translate(10.5 333.8) rotate(-90)" text-anchor="middle" font-size="10" fill="#1e1e1e" stroke="#1e1e1e" stroke-width="0.3">Observations</text>
<clipPath id="k6"><rect x="234.4" y="259.6" width="137.1" height="139.09999999999997"/></clipPath>
<g clip-path="url(#k6)">
<path d="M241 344 L243.1 344 L245.1 344 L247.2 344.1 L249.2 344.2 L251.3 344.3 L253.3 344.4 L255.4 344.5 L257.4 344.7 L259.5 344.9 L261.5 345 L263.6 345.2 L265.6 345.4 L267.7 345.6 L269.7 345.9 L271.8 346.2 L273.8 346.6 L275.9 347.1 L277.9 347.7 L280 348.3 L282 348.9 L284.1 349.5 L286.1 350 L288.2 350.6 L290.2 351.2 L292.3 351.9 L294.3 352.5 L296.4 353.2 L298.4 353.8 L300.5 354.2 L302.5 354.5 L304.6 354.6 L306.6 354.5 L308.7 354.2 L310.7 353.7 L312.8 353.1 L314.8 352.5 L316.9 351.9 L318.9 351.2 L321 350.2 L323 349.2 L325.1 348.1 L327.1 347.1 L329.2 346.3 L331.2 345.7 L333.3 345.3 L335.3 344.9 L337.4 344.5 L339.4 344.2 L341.5 344 L343.5 344 L345.6 344.1 L347.6 344.2 L349.7 344.4 L351.7 344.5 L353.8 344.7 L355.8 344.8 L357.9 344.9 L359.9 345 L362 345 L362 380.1 L359.9 379.9 L357.9 379.7 L355.8 379.5 L353.8 379.4 L351.7 379.4 L349.7 379.3 L347.6 379.3 L345.6 379.3 L343.5 379.3 L341.5 379.4 L339.4 379.8 L337.4 380.3 L335.3 381.1 L333.3 381.9 L331.2 382.8 L329.2 383.6 L327.1 384.6 L325.1 386 L323 387.6 L321 389.2 L318.9 390.7 L316.9 391.9 L314.8 392.7 L312.8 393 L310.7 393 L308.7 393 L306.6 393 L304.6 393 L302.5 393 L300.5 392.3 L298.4 391 L296.4 389.2 L294.3 387.2 L292.3 385.3 L290.2 383.6 L288.2 382.3 L286.1 381.8 L284.1 381.5 L282 381.2 L280 381 L277.9 380.8 L275.9 380.6 L273.8 380.5 L271.8 380.3 L269.7 380.1 L267.7 380 L265.6 379.8 L263.6 379.6 L261.5 379.4 L259.5 379.2 L257.4 379 L255.4 378.8 L253.3 378.6 L251.3 378.4 L249.2 378.2 L247.2 378 L245.1 377.9 L243.1 377.7 L241 377.5Z" fill="#d9dedf"/>
<path d="M242.5 349.6 L243.2 347 L243.9 346.1 L244.6 345.5 L245.4 345.1 L246.1 344.9 L246.8 344.7 L247.5 344.7 L248.8 344.8 L250.1 344.8 L251.4 344.9 L252.7 345 L254.1 345.1 L255.4 345.1 L256.7 345.2 L258 345.3 L259.3 345.4 L260.6 345.6 L261.9 345.7 L263.2 345.8 L264.6 345.9 L265.9 346.1 L267.2 346.2 L268.5 346.3 L269.8 346.5 L271.1 346.7 L272.4 346.9 L273.7 347.2 L275 347.5 L276.4 347.8 L277.7 348.2 L279 348.6 L280.3 349 L281.6 349.3 L282.9 349.7 L284.2 350.1 L285.5 350.5 L286.8 350.8 L288.2 351.2 L289.5 351.6 L290.8 352 L292.1 352.4 L293.4 352.8 L294.7 353.3 L296 353.7 L297.3 354.1 L298.7 354.4 L300 354.7 L301.3 354.9 L302.6 355.1 L303.9 355.2 L305.2 355.2 L306.5 355.1 L307.8 354.9 L309.1 354.7 L310.5 354.4 L311.8 354 L313.1 353.7 L314.4 353.3 L315.7 352.9 L317 352.5 L318.3 352 L319.6 351.5 L320.9 350.9 L322.3 350.2 L323.6 349.5 L324.9 348.8 L326.2 348.1 L327.5 347.5 L328.8 347 L330.1 346.6 L331.4 346.3 L332.8 346 L334.1 345.7 L335.4 345.5 L336.7 345.2 L338 345 L338.7 345 L339.4 345 L340.1 345.2 L340.9 345.6 L341.6 346.1 L342.3 347 L343 349.6 L343 373.7 L342.3 376.3 L341.6 377.3 L340.9 378 L340.1 378.5 L339.4 379 L338.7 379.3 L338 379.6 L336.7 380 L335.4 380.5 L334.1 381 L332.8 381.5 L331.4 382.1 L330.1 382.6 L328.8 383.2 L327.5 383.8 L326.2 384.6 L324.9 385.5 L323.6 386.5 L322.3 387.6 L320.9 388.6 L319.6 389.6 L318.3 390.5 L317 391.2 L315.7 391.8 L314.4 392.2 L313.1 392.4 L311.8 392.4 L310.5 392.4 L309.1 392.4 L307.8 392.4 L306.5 392.4 L305.2 392.4 L303.9 392.4 L302.6 392.4 L301.3 392.1 L300 391.5 L298.7 390.6 L297.3 389.5 L296 388.3 L294.7 387 L293.4 385.7 L292.1 384.5 L290.8 383.4 L289.5 382.4 L288.2 381.7 L286.8 381.3 L285.5 381.1 L284.2 380.9 L282.9 380.7 L281.6 380.6 L280.3 380.4 L279 380.3 L277.7 380.2 L276.4 380.1 L275 380 L273.7 379.9 L272.4 379.8 L271.1 379.7 L269.8 379.6 L268.5 379.4 L267.2 379.3 L265.9 379.2 L264.6 379.1 L263.2 378.9 L261.9 378.8 L260.6 378.7 L259.3 378.6 L258 378.4 L256.7 378.3 L255.4 378.2 L254.1 378.1 L252.7 377.9 L251.4 377.8 L250.1 377.7 L248.8 377.6 L247.5 377.5 L246.8 377.4 L246.1 377.1 L245.4 376.8 L244.6 376.3 L243.9 375.7 L243.2 374.7 L242.5 372Z" fill="#2240a8"/>
<path d="M245.6 375 325.4 351.4 288.7 376.2 334.6 355.8 252.7 350.2 310.6 367.6 324.3 383.3 295.1 372.5 337 351.2 338.2 354.2 319.5 385.1 246.3 347.7 278.5 351.8 334.6 373.4 254.9 363.3 262.1 374.3 334 375.8 286.9 379.1 295 383.9 252.9 348.7 324.9 380.9 337.3 373.7 268.5 350 255.3 357.2 334.1 375.7 259.2 350.6 336.4 374.8 264 352.5 316.7 363 325.4 382.3 278.5 355.1 307.2 380.2 325.9 353.6 322.2 379.3 255.5 347.9 332.2 349.7 319.6 353.6 300.6 388.8 339.2 353.9 331.9 370.9 257.7 352.3 260.4 360.9 308.5 389.5 274 373.1 284 356.9 275.3 370.2 290.2 354.7 245.6 363.9 303.4 388.4 292.4 380.1 319.9 386.8 247.1 355.7 318 365.1 260.7 349.4 334.3 377.4 336.1 372.3 255.3 348.7 325.3 381.3 269.5 368.3 307.7 360.6 287.2 359.8 254.4 374.9 295.1 382.2 280.1 358.5 337 354.4 319.4 353.6 306.4 361.2 254.7 347.7 300.3 381.9 311.4 356.4 308.7 378.4 296.9 356.8 304 389 263.4 373.2 305.5 388 333.6 348.9 257.1 376.3 319 360.4 259 368.2 322.7 355.7 319.6 379.3 274.6 352.1 333.4 378.1 251.6 375.3 314.5 383.7 255.8 372.7 292.7 362.3 287.7 370 330.2 371.9 307 387.5 299 358 262.3 372.2 314.6 388.9 254 349.2 267.4 349.4 270.6 350 244.8 347.7 338.3 352.2 266.9 354.9 285.6 359.4 250.4 352 275.2 369.4 330.7 377.4 271.5 350.7 292 374.1 340.5 354.2 255.1 366.8 255.3 351.7 274.9 372.4 290 358.8 304.8 360.1 292.1 358.7 282.7 352.2 277.9 378 315.7 355.8 311.7 390 262.7 356.1 292.9 370.8 279.4 352.2 263.1 374.8 253.9 366.4 339.5 373.2 271.3 366.7 303.5 374.6 298.5 359.3 315.8 383.2 338.5 347.3 251.3 373.7 326.2 380.7 318.4 379.4 313.3 372.8 276.1 352" fill="none" stroke="none" marker-start="url(#s)" marker-mid="url(#s)" marker-end="url(#s)" opacity="0.7"/>
<path d="M285.2 351 324.9 346.8 320.1 351.4 282.3 349.6 250.8 345.6 293.8 352.5 256.7 342.2 267.9 346.2 285.3 350.9 329.5 344.1 294.1 352.1 275 346.4 275.4 340.6 310.7 353.9 244.2 345.2 256.8 345.6 269.4 344.5 328.7 347.8 267.3 342.5 265.2 342.2 318 343.8 257.7 343.9 272.2 347.5 272.1 347.2 249.4 341.8 337.1 345.8 249.9 342.1 341.2 341.9 291.1 348.7 283.6 350 245.6 376.8 327.7 388.1 250.5 390.9 319.9 389.2 243 378.4 268 381.1 322.3 389 259.2 385.2 315 393.2 285.2 387.4 340.6 383 257.4 381.2 339.4 379.9 289.9 383.9 254.4 382.9 252.1 378.1 289.3 386.8 260.9 378.8 284.7 382.3 273.7 379.3 291.6 383.6 288.6 381.8 248.1 382.3 270.1 381.9 321.5 389.6 255.6 378.7 281.2 379.9 280.5 381.8 332.8 383.8 340.6 381 275.9 383 312.8 391.6 280.2 386.2 303 396.7 264.7 380.1 240.9 353.5 240.1 370.5 242.1 371.2 242.7 351.1 243.2 353.4 242.9 348.9 241.7 365.2 243.1 366.8 243 365.6 242.8 351.2 241 373.1 242.1 359.4 241.9 372.2 242.4 349.5 242.8 368.3 243.2 360.3 240.9 375.9 237.4 375.8 243.2 370.5 242.6 348.3 242.4 358.2 241.9 376.1 243 355.5 242.8 358.9 342.7 365.6 342.8 377.6 344.2 368.9 342.6 349.6 342.4 367.1 343.9 348.1 343.9 371.9 345.4 362.7 342.9 367 342.3 347.4 347.4 374.7 343.1 347.2 354.8 371.2 361.6 367.7 346.4 363.7 351.3 372.7 344.8 362.9 347.2 349.7 343.4 375.1 363.1 382.9 362.4 368.7 357 377.4 363.9 367.7 345.7 357.6 363.4 371.2 361.9 361 363.2 350 355.2 350.6 326.4 304.4 316.7 313.2 320.3 314.1 258.6 325.5 252.5 332.6 328.2 331.7 332.6 335.2 335.2 334.3 258.6 397.8" fill="none" stroke="none" marker-start="url(#c)" marker-mid="url(#c)" marker-end="url(#c)"/>
<path d="M242 344 L244.4 344 L246.9 344.1 L249.3 344.2 L251.8 344.3 L254.2 344.5 L256.7 344.6 L259.1 344.8 L261.6 345 L264 345.3 L266.5 345.5 L268.9 345.8 L271.4 346.1 L273.8 346.6 L276.3 347.2 L278.7 347.9 L281.2 348.6 L283.6 349.3 L286.1 350 L288.5 350.7 L291 351.4 L293.4 352.2 L295.9 353 L298.3 353.7 L300.8 354.3 L303.2 354.6 L305.7 354.6 L308.1 354.3 L310.6 353.7 L313 353.1 L315.5 352.4 L317.9 351.6 L320.4 350.5 L322.8 349.3 L325.3 348 L327.7 346.8 L330.2 346 L332.6 345.4 L335.1 344.9 L337.5 344.5 L340 344.2 L342.4 344 L344.9 344 L347.3 344.2 L349.8 344.4 L352.2 344.6 L354.7 344.8 L357.1 344.9 L359.6 345 L362 345" fill="none" stroke="#000" stroke-width="1.8" stroke-dasharray="7 6" opacity="0.9"/>
<path d="M242 377.6 L244.4 377.8 L246.9 378 L249.3 378.2 L251.8 378.5 L254.2 378.7 L256.7 378.9 L259.1 379.1 L261.6 379.4 L264 379.6 L266.5 379.8 L268.9 380.1 L271.4 380.3 L273.8 380.5 L276.3 380.7 L278.7 380.9 L281.2 381.1 L283.6 381.4 L286.1 381.8 L288.5 382.5 L291 384.1 L293.4 386.4 L295.9 388.8 L298.3 390.9 L300.8 392.5 L303.2 393 L305.7 393 L308.1 393 L310.6 393 L313 393 L315.5 392.5 L317.9 391.3 L320.4 389.6 L322.8 387.7 L325.3 385.9 L327.7 384.3 L330.2 383.2 L332.6 382.2 L335.1 381.2 L337.5 380.3 L340 379.7 L342.4 379.3 L344.9 379.3 L347.3 379.3 L349.8 379.3 L352.2 379.4 L354.7 379.5 L357.1 379.6 L359.6 379.8 L362 380.1" fill="none" stroke="#000" stroke-width="1.8" stroke-dasharray="7 6" opacity="0.9"/>
<path d="M244.5 360.9 L246.5 361 L248.4 361.1 L250.4 361.2 L252.4 361.3 L254.3 361.5 L256.3 361.6 L258.3 361.8 L260.3 362 L262.2 362.2 L264.2 362.4 L266.2 362.5 L268.1 362.8 L270.1 363 L272.1 363.3 L274 363.6 L276 363.9 L278 364.2 L279.9 364.6 L281.9 365 L283.9 365.4 L285.9 365.8 L287.8 366.3 L289.8 366.9 L291.8 367.8 L293.7 368.7 L295.7 369.7 L297.7 370.5 L299.6 371.3 L301.6 371.9 L303.6 372.2 L305.6 372.2 L307.5 372.1 L309.5 371.8 L311.5 371.5 L313.4 371.2 L315.4 370.8 L317.4 370.3 L319.3 369.6 L321.3 368.5 L323.3 367.3 L325.2 366 L327.2 364.8 L329.2 363.9 L331.2 363.3 L333.1 362.9 L335.1 362.5 L337.1 362.2 L339 361.9 L341 361.8" fill="none" stroke="#000" stroke-width="1.4" opacity="0.5"/>
<path d="M244.5 360.9 L246.5 361 L248.4 361.1 L250.4 361.2 L252.4 361.3 L254.3 361.5 L256.3 361.6 L258.3 361.8 L260.3 362 L262.2 362.2 L264.2 362.4 L266.2 362.5 L268.1 362.8 L270.1 363 L272.1 363.3 L274 363.6 L276 363.9 L278 364.2 L279.9 364.6 L281.9 365 L283.9 365.4 L285.9 365.8 L287.8 366.3 L289.8 366.9 L291.8 367.8 L293.7 368.7 L295.7 369.7 L297.7 370.5 L299.6 371.3 L301.6 371.9 L303.6 372.2 L305.6 372.2 L307.5 372.1 L309.5 371.8 L311.5 371.5 L313.4 371.2 L315.4 370.8 L317.4 370.3 L319.3 369.6 L321.3 368.5 L323.3 367.3 L325.2 366 L327.2 364.8 L329.2 363.9 L331.2 363.3 L333.1 362.9 L335.1 362.5 L337.1 362.2 L339 361.9 L341 361.8" fill="none" stroke="#000" stroke-width="1.8" opacity="0.9" stroke-dasharray="3.6 3.9 4.2 1.2 3.0 1.3 3.2 1.4 3.3 2.7 2.9 3.3 4.5 1.7 3.4 3.4 3.2 3.5 3.4 2.8 2.8 3.7 4.1 1.6 2.7 2.8 4.0 2.9 3.4 2.6 4.5 3.3 4.0 3.6 2.9 1.4 3.9 2.3 4.0 1.2 4.0 1.8 2.9 2.8 3.2 4.0 4.3 1.8 4.0 1.3 3.7 2.4 4.4 3.3 4.1 3.2 3.5 2.1 3.3 2.0 2.7 3.3 3.6 1.5 2.9 2.1 4.2 2.1 2.5 1.1 3.4 3.4 3.3 2.9 3.6 2.6 3.2 1.3 3.4 2.5 3.0 1.3 2.7 3.0 3.6 2.4 3.9 1.8 4.2 2.5 3.6 1.3 3.6 1.6 3.8 1.6 2.7 2.8 3.0 3.4 3.3 3.3 3.8 2.2 3.5 3.3 2.9 3.2 3.4 1.7 2.5 3.9 3.0 2.8 2.6 3.0 4.1 1.2 3.4 2.8"/>
<path d="M242 360.8 L242.2 360.8 L242.5 360.8 L242.7 360.8 L242.9 360.8 L243.1 360.8 L243.4 360.9 L243.6 360.9 L243.8 360.9 L244 360.9 L244.3 360.9 L244.5 360.9" fill="none" stroke="#000" stroke-width="1.6"/>
<path d="M341 361.8 L342.9 361.7 L344.8 361.8 L346.7 362 L348.6 362.3 L350.5 362.6 L352.5 362.9 L354.4 363.2 L356.3 363.4 L358.2 363.4 L360.1 363.2 L362 363" fill="none" stroke="#000" stroke-width="1.6"/>
</g>
<rect x="234.4" y="259.6" width="137.1" height="139.09999999999997" fill="none" stroke="#333" stroke-width="1.3"/>
<path d="M257.2 398.7v5M257.2 259.6v-5M301.1 398.7v5M301.1 259.6v-5M344.9 398.7v5M344.9 259.6v-5M234.4 392.4h-5M371.5 392.4h5M234.4 359h-5M371.5 359h5M234.4 325.7h-5M371.5 325.7h5M234.4 292.3h-5M371.5 292.3h5M234.4 259.6h-5M371.5 259.6h5" stroke="#333" stroke-width="1.2" fill="none"/>
<g font-size="10" fill="#1e1e1e" stroke="#1e1e1e" stroke-width="0.25" style="letter-spacing:0.2px"><text transform="translate(258 414.3) scale(1.06 1)" text-anchor="middle">0.5</text><text transform="translate(301.9 414.3) scale(1.06 1)" text-anchor="middle">1.0</text><text transform="translate(345.7 414.3) scale(1.06 1)" text-anchor="middle">1.5</text><text transform="translate(228.1 396) scale(1.06 1)" text-anchor="end">50</text><text transform="translate(228.1 362.6) scale(1.06 1)" text-anchor="end">100</text><text transform="translate(228.1 329.3) scale(1.06 1)" text-anchor="end">150</text><text transform="translate(228.1 295.9) scale(1.06 1)" text-anchor="end">200</text></g>
<text x="305" y="248.1" text-anchor="middle" font-size="10" fill="#1e1e1e" stroke="#1e1e1e" stroke-width="0.3">DBP</text>
<text x="304" y="428.9" text-anchor="middle" font-size="10" fill="#1e1e1e" stroke="#1e1e1e" stroke-width="0.3">Time</text>
<clipPath id="k7"><rect x="449.8" y="259.8" width="136.90000000000003" height="139.2"/></clipPath>
<g clip-path="url(#k7)">
<path d="M457 304.7 L459 305.7 L461.1 306.4 L463.1 307.1 L465.1 307.7 L467.2 308.2 L469.2 308.6 L471.2 308.9 L473.3 309.1 L475.3 309.2 L477.3 309.3 L479.4 309.4 L481.4 309.4 L483.4 309 L485.5 308.4 L487.5 307.9 L489.5 307.4 L491.6 307.3 L493.6 307.4 L495.6 307.6 L497.7 307.8 L499.7 308.1 L501.7 308.5 L503.8 308.9 L505.8 309.3 L507.8 309.7 L509.9 310.1 L511.9 310.5 L513.9 310.9 L516 311.3 L518 311.9 L520.1 312.4 L522.1 312.9 L524.1 313.5 L526.2 313.9 L528.2 314.3 L530.2 314.6 L532.3 314.7 L534.3 314.6 L536.3 314.1 L538.4 313.3 L540.4 312.2 L542.4 311 L544.5 309.8 L546.5 308.7 L548.5 307.8 L550.6 307.1 L552.6 306.6 L554.6 306.1 L556.7 305.6 L558.7 305.3 L560.7 305.2 L562.8 305.8 L564.8 307 L566.8 308.5 L568.9 309.7 L570.9 310.5 L572.9 310.7 L575 310.9 L577 311 L577 357.8 L575 357.3 L572.9 356.8 L570.9 356.5 L568.9 356.2 L566.8 356 L564.8 355.8 L562.8 355.7 L560.7 355.7 L558.7 355.6 L556.7 355.6 L554.6 355.6 L552.6 355.8 L550.6 356.7 L548.5 358.1 L546.5 359.6 L544.5 361 L542.4 362.2 L540.4 362.9 L538.4 363 L536.3 363 L534.3 363 L532.3 363 L530.2 363 L528.2 363 L526.2 363 L524.1 362.9 L522.1 362.1 L520.1 360.4 L518 358.5 L516 356.6 L513.9 355.1 L511.9 354.6 L509.9 354.7 L507.8 354.9 L505.8 355.1 L503.8 355.4 L501.7 355.8 L499.7 356.1 L497.7 356.4 L495.6 356.7 L493.6 356.9 L491.6 357.1 L489.5 357.3 L487.5 357.5 L485.5 357.6 L483.4 357.7 L481.4 357.8 L479.4 357.8 L477.3 357.7 L475.3 357.6 L473.3 357.4 L471.2 357.2 L469.2 357 L467.2 356.6 L465.1 356.3 L463.1 355.8 L461.1 355.4 L459 354.9 L457 354.3Z" fill="#d9dedf"/>
<path d="M459 311.2 L459.7 309 L460.4 308.3 L461.1 308 L461.9 307.8 L462.6 307.8 L463.3 307.8 L464 308 L465.3 308.3 L466.6 308.7 L468 308.9 L469.3 309.2 L470.6 309.4 L471.9 309.5 L473.2 309.7 L474.6 309.8 L475.9 309.9 L477.2 309.9 L478.5 310 L479.8 310 L481.1 310 L482.5 309.8 L483.8 309.5 L485.1 309.2 L486.4 308.8 L487.7 308.4 L489.1 308.1 L490.4 307.9 L491.7 307.9 L493 308 L494.3 308 L495.7 308.2 L497 308.3 L498.3 308.5 L499.6 308.7 L500.9 308.9 L502.2 309.2 L503.6 309.4 L504.9 309.7 L506.2 310 L507.5 310.2 L508.8 310.5 L510.2 310.8 L511.5 311 L512.8 311.2 L514.1 311.5 L515.4 311.8 L516.8 312.1 L518.1 312.5 L519.4 312.8 L520.7 313.2 L522 313.5 L523.3 313.9 L524.7 314.2 L526 314.5 L527.3 314.7 L528.6 315 L529.9 315.1 L531.3 315.2 L532.6 315.3 L533.9 315.3 L535.2 315 L536.5 314.6 L537.9 314.1 L539.2 313.5 L540.5 312.7 L541.8 312 L543.1 311.2 L544.4 310.4 L545.8 309.7 L547.1 309 L548.4 308.4 L549.7 308 L551 307.6 L552.4 307.3 L553.7 306.9 L555 306.6 L555.7 306.4 L556.4 306.5 L557.1 306.6 L557.9 306.9 L558.6 307.4 L559.3 308.3 L560 310.8 L560 350 L559.3 352.6 L558.6 353.5 L557.9 354.1 L557.1 354.5 L556.4 354.8 L555.7 354.9 L555 355 L553.7 355 L552.4 355.3 L551 355.9 L549.7 356.6 L548.4 357.5 L547.1 358.5 L545.8 359.5 L544.4 360.4 L543.1 361.3 L541.8 361.9 L540.5 362.3 L539.2 362.4 L537.9 362.4 L536.5 362.4 L535.2 362.4 L533.9 362.4 L532.6 362.4 L531.3 362.4 L529.9 362.4 L528.6 362.4 L527.3 362.4 L526 362.4 L524.7 362.4 L523.3 362.1 L522 361.4 L520.7 360.4 L519.4 359.2 L518.1 357.9 L516.8 356.6 L515.4 355.5 L514.1 354.6 L512.8 354.1 L511.5 354 L510.2 354.1 L508.8 354.2 L507.5 354.3 L506.2 354.5 L504.9 354.7 L503.6 354.9 L502.2 355.1 L500.9 355.3 L499.6 355.5 L498.3 355.7 L497 355.9 L495.7 356.1 L494.3 356.2 L493 356.3 L491.7 356.5 L490.4 356.6 L489.1 356.7 L487.7 356.8 L486.4 356.9 L485.1 357 L483.8 357.1 L482.5 357.2 L481.1 357.2 L479.8 357.2 L478.5 357.2 L477.2 357.1 L475.9 357.1 L474.6 357 L473.2 356.8 L471.9 356.7 L470.6 356.5 L469.3 356.4 L468 356.2 L466.6 355.9 L465.3 355.7 L464 355.4 L463.3 355.2 L462.6 354.9 L461.9 354.5 L461.1 353.9 L460.4 353.1 L459.7 352 L459 349.3Z" fill="#2240a8"/>
<path d="M553.8 346.2 553.9 309.5 519 316.2 540.6 324 485.1 319.3 537.7 349.4 467.6 350.9 521 320.5 528.5 325.9 482.5 321.9 478.1 333.6 462.7 326.2 471.8 340.6 499.3 322.2 514.3 349.1 505.5 346 534.4 321.6 538.9 348.8 505.9 347.2 554.2 312.8 528.7 322 527 353.4 520.7 346.5 542.5 317.6 531.3 357.4 491.2 354 543.7 358.8 527.8 316.9 480.7 350.6 526.1 316.6 506.4 312.2 499.8 317.9 516.7 323.1 543.5 314.1 515 314.7 496.5 347.1 518 345.7 514.7 314.2 552 314.1 489.6 354 554 309.7 475.4 353.4 542.1 355.8 549.7 353 536.8 360.1 528.8 324.5 482.1 353.1 522 353.2 543.9 322.3 490.2 338.7 543.2 329.5 478.2 351.2 544.7 352.5 533.3 351.6 523.8 320 464.2 350.4 522.6 353.4 541.5 354.2 505.8 347.8 472.5 350.5 497.3 353.2 517.9 326.5 488.7 311.4 516.9 320.4 497.1 344.2 484.4 315.6 499.6 342.9 471.9 321.2 543 357.5 461.5 348.7 489.5 322.3 528.3 356.7 547.7 330.6 487 340.7 555.4 309.1 462.5 349.1 556.1 309.9 529.5 323.6 480.5 313.1 487 320.2 552.7 335.6 525.4 333.2 541.8 321.6 520.6 333.2 554.7 350.1 467.5 313.2 470.5 314.2 468.2 339.4 480.8 347.4 504.4 352 496.4 315.9 528.5 318.5 504.8 350.2 539.3 341.1 478.4 350.2 469.6 352.5 503.1 315.2 516.3 332.4 493.1 349.8 518.9 346.9 494 351 505 345.6 531.1 327.3 487.6 326.8 554.2 315.5 467 348 502.2 348.2 486.7 350.9 470.4 340.4 476.9 350.1 549.5 316.2 524.2 358.6 475.8 345 462.7 317.3 515.8 318.1 487.9 343.9 485.1 311.5 495.6 310.3 478.6 353.8 550.5 310.3 494.7 319.5 545.3 328 472.7 344.6 487.9 354.3 539.6 357.7 461.7 349.5 474.3 317.3 479.5 316.8 499.6 346.4 479.5 319.3 537.8 337.7 468.6 344.7 499.4 310.8" fill="none" stroke="none" marker-start="url(#s)" marker-mid="url(#s)" marker-end="url(#s)" opacity="0.7"/>
<path d="M539.5 312.3 536.5 314.6 491.2 307.7 519.6 312.7 501.8 308 503.6 300.8 460.8 304.7 526.2 311.4 550.5 304.5 551.7 296.7 521.2 312.7 526.8 310.9 489.6 306.7 551.5 303.8 515.9 309.7 556.7 302.6 516.8 312 505.8 309.4 555.9 305.2 520.5 309.8 465.2 308.8 477 302.2 483.2 297.8 524.8 314.6 494.7 296.1 500.2 302.7 498.1 308.2 493.3 304.9 480.9 302.6 534.6 313.9 553.2 305.4 510.8 309.9 496.8 301.9 531.2 311.3 466.7 300.7 485.8 308.1 509.6 309.2 524.4 312.3 536.4 313.1 541.9 312.3 525.9 311 530.1 312.9 498.5 307.7 555.4 293.6 530.6 316 511.2 309.8 523 302.7 481.8 310.6 459.3 302.5 521.4 313.3 493.5 361 484 365.2 486.1 356.8 463.3 358.8 480.7 358.9 468.5 355.5 505.6 358 485.9 359.7 536.7 366.7 538.1 367.2 471.1 360.7 557.1 354.4 495.6 357.5 528.5 371 505.1 359.6 484.4 356.6 546.6 360.8 471.8 359.1 490.5 359.5 505.4 353.9 477.5 366.8 501.5 358.8 541.2 362.7 506.9 353.8 489.9 362.4 530.5 373.7 548.1 357.7 540.3 365.1 552.8 357.8 474.5 359.6 495.4 361.6 540.1 363.1 549.6 361.2 499.5 354.9 555.1 354.4 458.8 308.8 459.7 336.1 458.6 323.2 459.8 326.5 459.7 309.6 458 329.4 459.4 317.7 459.8 338.1 458.3 345.6 459.2 345.6 459 317 459.7 335.9 458.4 352.9 456.9 347.8 458.9 315.2 459.2 348.5 459.8 346 459.7 329.1 459.4 321.8 459.2 340.5 457 332.7 459 340.7 457.3 320.7 459.2 353.5 559.5 333.8 559.2 335.9 559.3 330.1 561.4 309.9 559.5 324.6 559.2 331.7 560.7 352.9 560.6 318.2 559.6 331.4 562.5 316.1 561.1 329 561.2 322.4 560.4 312.1 569 328.4 569.1 337.2 571.8 333.6 575 319.5 578.2 333.4 565.7 343 566.5 320.3 580 328.7 560.5 330.6 570.3 353.3 575.3 326.1 564.5 340.6 564.6 316.8 502.6 286.3 542.6 291.5 552 293.6 523.7 375.2 528.9 373.5 480.6 366.2 490 294 494 297 460 298 463 297" fill="none" stroke="none" marker-start="url(#c)" marker-mid="url(#c)" marker-end="url(#c)"/>
<path d="M458 305.2 L460.4 306.2 L462.9 307 L465.3 307.7 L467.7 308.3 L470.1 308.7 L472.6 309 L475 309.2 L477.4 309.3 L479.9 309.4 L482.3 309.3 L484.7 308.7 L487.1 308 L489.6 307.4 L492 307.3 L494.4 307.4 L496.9 307.7 L499.3 308.1 L501.7 308.5 L504.1 309 L506.6 309.5 L509 309.9 L511.4 310.4 L513.9 310.9 L516.3 311.4 L518.7 312.1 L521.1 312.7 L523.6 313.3 L526 313.9 L528.4 314.3 L530.9 314.6 L533.3 314.7 L535.7 314.3 L538.1 313.4 L540.6 312.1 L543 310.7 L545.4 309.3 L547.9 308.1 L550.3 307.2 L552.7 306.6 L555.1 305.9 L557.6 305.4 L560 305.2 L562.4 305.6 L564.9 307 L567.3 308.8 L569.7 310.1 L572.1 310.6 L574.6 310.9 L577 311" fill="none" stroke="#000" stroke-width="1.8" stroke-dasharray="7 6" opacity="0.9"/>
<path d="M458 354.6 L460.4 355.2 L462.9 355.8 L465.3 356.3 L467.7 356.7 L470.1 357.1 L472.6 357.4 L475 357.6 L477.4 357.7 L479.9 357.8 L482.3 357.8 L484.7 357.7 L487.1 357.5 L489.6 357.3 L492 357 L494.4 356.8 L496.9 356.5 L499.3 356.2 L501.7 355.8 L504.1 355.4 L506.6 355 L509 354.7 L511.4 354.6 L513.9 355.1 L516.3 356.8 L518.7 359.2 L521.1 361.4 L523.6 362.8 L526 363 L528.4 363 L530.9 363 L533.3 363 L535.7 363 L538.1 363 L540.6 362.9 L543 361.9 L545.4 360.4 L547.9 358.5 L550.3 356.9 L552.7 355.8 L555.1 355.6 L557.6 355.6 L560 355.6 L562.4 355.7 L564.9 355.8 L567.3 356 L569.7 356.3 L572.1 356.7 L574.6 357.2 L577 357.8" fill="none" stroke="#000" stroke-width="1.8" stroke-dasharray="7 6" opacity="0.9"/>
<path d="M461 330.4 L463 330.9 L465 331.5 L466.9 331.9 L468.9 332.4 L470.9 332.7 L472.9 333 L474.9 333.3 L476.8 333.5 L478.8 333.6 L480.8 333.6 L482.8 333.5 L484.8 333.4 L486.7 333.2 L488.7 332.9 L490.7 332.6 L492.7 332.3 L494.7 332 L496.6 331.8 L498.6 331.6 L500.6 331.5 L502.6 331.5 L504.6 331.7 L506.5 332 L508.5 332.4 L510.5 332.9 L512.5 333.5 L514.4 334.1 L516.4 334.8 L518.4 335.4 L520.4 336 L522.4 336.6 L524.3 337.3 L526.3 338.1 L528.3 338.9 L530.3 339.5 L532.3 339.9 L534.2 339.8 L536.2 339.4 L538.2 338.7 L540.2 337.9 L542.2 336.9 L544.1 335.9 L546.1 335 L548.1 334.2 L550.1 333.6 L552.1 333.1 L554 332.7 L556 332.2 L558 331.9" fill="none" stroke="#000" stroke-width="1.4" opacity="0.5"/>
<path d="M461 330.4 L463 330.9 L465 331.5 L466.9 331.9 L468.9 332.4 L470.9 332.7 L472.9 333 L474.9 333.3 L476.8 333.5 L478.8 333.6 L480.8 333.6 L482.8 333.5 L484.8 333.4 L486.7 333.2 L488.7 332.9 L490.7 332.6 L492.7 332.3 L494.7 332 L496.6 331.8 L498.6 331.6 L500.6 331.5 L502.6 331.5 L504.6 331.7 L506.5 332 L508.5 332.4 L510.5 332.9 L512.5 333.5 L514.4 334.1 L516.4 334.8 L518.4 335.4 L520.4 336 L522.4 336.6 L524.3 337.3 L526.3 338.1 L528.3 338.9 L530.3 339.5 L532.3 339.9 L534.2 339.8 L536.2 339.4 L538.2 338.7 L540.2 337.9 L542.2 336.9 L544.1 335.9 L546.1 335 L548.1 334.2 L550.1 333.6 L552.1 333.1 L554 332.7 L556 332.2 L558 331.9" fill="none" stroke="#000" stroke-width="1.8" opacity="0.9" stroke-dasharray="3.6 3.3 2.8 3.5 3.8 3.6 3.6 1.8 3.2 2.7 4.0 1.3 4.1 1.6 2.8 1.1 3.3 1.6 3.5 2.5 2.5 1.0 3.4 1.0 4.1 2.0 3.7 3.0 3.4 2.5 2.6 2.5 4.2 1.8 3.2 1.2 3.5 1.0 3.2 3.6 2.6 1.4 3.6 3.8 3.9 1.5 4.0 1.2 3.6 1.2 3.1 2.5 2.9 1.2 2.5 2.8 4.5 2.8 3.6 3.9 4.0 1.9 3.6 1.4 3.3 3.3 3.1 2.6 3.5 1.8 3.4 2.1 2.6 1.3 3.0 1.2 3.1 1.5 3.3 3.9 3.2 1.4 2.9 1.4 3.2 3.7 3.6 1.0 3.2 1.6 3.5 1.2 4.1 1.9 3.3 1.4 3.7 2.5 3.1 4.0 3.9 1.5 3.4 2.7 2.9 3.9 4.4 1.2 2.9 1.4 3.8 4.0 2.7 3.1 4.1 1.3 2.6 1.9 3.0 1.0"/>
<path d="M458 329.4 L458.3 329.5 L458.5 329.6 L458.8 329.7 L459.1 329.8 L459.4 329.8 L459.6 329.9 L459.9 330 L460.2 330.1 L460.5 330.2 L460.7 330.3 L461 330.4" fill="none" stroke="#000" stroke-width="1.6"/>
<path d="M558 331.9 L559.7 331.7 L561.5 331.5 L563.2 331.5 L564.9 331.6 L566.6 331.9 L568.4 332.2 L570.1 332.7 L571.8 333.3 L573.5 334 L575.3 334.8 L577 335.7" fill="none" stroke="#000" stroke-width="1.6"/>
</g>
<rect x="449.8" y="259.8" width="136.90000000000003" height="139.2" fill="none" stroke="#333" stroke-width="1.3"/>
<path d="M473.1 399v5M473.1 259.8v-5M520.9 399v5M520.9 259.8v-5M568.6 399v5M568.6 259.8v-5M449.8 392.1h-5M586.7 392.1h5M449.8 358.8h-5M586.7 358.8h5M449.8 325.4h-5M586.7 325.4h5M449.8 292.1h-5M586.7 292.1h5M449.8 259.8h-5M586.7 259.8h5" stroke="#333" stroke-width="1.2" fill="none"/>
<g font-size="10" fill="#1e1e1e" stroke="#1e1e1e" stroke-width="0.25" style="letter-spacing:0.2px"><text transform="translate(473.9 414.6) scale(1.06 1)" text-anchor="middle">0.5</text><text transform="translate(521.6 414.6) scale(1.06 1)" text-anchor="middle">1.0</text><text transform="translate(569.4 414.6) scale(1.06 1)" text-anchor="middle">1.5</text><text transform="translate(443.5 395.7) scale(1.06 1)" text-anchor="end">50</text><text transform="translate(443.5 362.4) scale(1.06 1)" text-anchor="end">100</text><text transform="translate(443.5 329) scale(1.06 1)" text-anchor="end">150</text><text transform="translate(443.5 295.7) scale(1.06 1)" text-anchor="end">200</text></g>
<text x="520.9" y="248.3" text-anchor="middle" font-size="10" fill="#1e1e1e" stroke="#1e1e1e" stroke-width="0.3">SBP</text>
<text x="519.9" y="429.2" text-anchor="middle" font-size="10" fill="#1e1e1e" stroke="#1e1e1e" stroke-width="0.3">Time</text>
<text transform="translate(414.4 335) rotate(-90)" text-anchor="middle" font-size="10" fill="#1e1e1e" stroke="#1e1e1e" stroke-width="0.3">Observations</text>
<clipPath id="k8"><rect x="636.9" y="260.3" width="136.30000000000007" height="138.89999999999998"/></clipPath>
<g clip-path="url(#k8)">
<path d="M643 346.4 L645.1 346.4 L647.1 346.4 L649.2 346.4 L651.2 346.4 L653.3 346.4 L655.3 346.4 L657.4 346.4 L659.4 346.4 L661.5 346.4 L663.5 346.4 L665.6 346.4 L667.6 346.4 L669.7 346.4 L671.7 346.4 L673.8 346.4 L675.8 346.4 L677.9 346.4 L679.9 346.4 L682 346.4 L684 346.4 L686.1 346.4 L688.1 346.4 L690.2 346.4 L692.2 346.4 L694.3 346.4 L696.3 346.6 L698.4 347.1 L700.4 347.7 L702.5 348.4 L704.5 349.2 L706.6 349.9 L708.6 350.5 L710.7 350.9 L712.7 351.3 L714.8 351.6 L716.8 352 L718.9 352.3 L720.9 352.5 L723 352.6 L725 352.5 L727.1 351.8 L729.1 350.8 L731.2 349.6 L733.2 348.6 L735.3 348.1 L737.3 347.6 L739.4 347.2 L741.4 346.9 L743.5 346.6 L745.5 346.4 L747.6 346.4 L749.6 346.5 L751.7 346.8 L753.7 347.1 L755.8 347.6 L757.8 348.3 L759.9 349 L761.9 349.8 L764 350.8 L764 384.3 L761.9 383.5 L759.9 382.7 L757.8 382.1 L755.8 381.7 L753.7 381.3 L751.7 381 L749.6 380.9 L747.6 380.8 L745.5 380.9 L743.5 381.1 L741.4 381.5 L739.4 382 L737.3 382.6 L735.3 383.2 L733.2 383.9 L731.2 384.9 L729.1 386.1 L727.1 387.1 L725 387.7 L723 387.8 L720.9 387.6 L718.9 387.4 L716.8 387 L714.8 386.7 L712.7 386.3 L710.7 385.9 L708.6 385.4 L706.6 384.8 L704.5 384.1 L702.5 383.4 L700.4 382.8 L698.4 382.2 L696.3 381.9 L694.3 381.7 L692.2 381.7 L690.2 381.8 L688.1 381.8 L686.1 382 L684 382.1 L682 382.2 L679.9 382.3 L677.9 382.4 L675.8 382.5 L673.8 382.6 L671.7 382.6 L669.7 382.6 L667.6 382.6 L665.6 382.5 L663.5 382.4 L661.5 382.3 L659.4 382.2 L657.4 382.1 L655.3 382 L653.3 381.8 L651.2 381.6 L649.2 381.4 L647.1 381.2 L645.1 380.9 L643 380.7Z" fill="#d9dedf"/>
<path d="M644.5 350.5 L645.2 347.7 L645.9 346.6 L646.6 345.9 L647.4 345.3 L648.1 344.8 L648.8 344.5 L649.5 344.3 L650.8 344 L652.2 343.7 L653.5 343.4 L654.8 343.2 L656.1 342.9 L657.5 342.7 L658.8 342.5 L660.1 342.3 L661.4 342.1 L662.8 342 L664.1 341.8 L665.4 341.6 L666.7 341.5 L668.1 341.3 L669.4 341.2 L670.7 341 L672 340.9 L673.4 340.8 L674.7 340.7 L676 340.6 L677.3 340.6 L678.7 340.5 L680 340.5 L681.3 340.5 L682.7 340.6 L684 340.7 L685.3 340.9 L686.6 341 L688 341.3 L689.3 341.5 L690.6 341.8 L691.9 342.1 L693.3 342.4 L694.6 342.7 L695.9 343 L697.2 343.4 L698.6 343.8 L699.9 344.5 L701.2 345.3 L702.5 346.2 L703.9 347.2 L705.2 348.1 L706.5 349 L707.8 349.8 L709.2 350.3 L710.5 350.6 L711.8 350.8 L713.2 351 L714.5 351.2 L715.8 351.4 L717.1 351.6 L718.5 351.7 L719.8 351.8 L721.1 351.9 L722.4 352 L723.8 352 L725.1 351.9 L726.4 351.6 L727.7 351.1 L729.1 350.5 L730.4 349.8 L731.7 349.1 L733 348.4 L734.4 347.8 L735.7 347.4 L737 347.1 L738.3 347 L739.7 347 L741 347 L741.7 347.1 L742.4 347.3 L743.1 347.6 L743.9 348.1 L744.6 348.8 L745.3 349.8 L746 352.5 L746 375.2 L745.3 377.9 L744.6 378.9 L743.9 379.6 L743.1 380.1 L742.4 380.5 L741.7 380.8 L741 381 L739.7 381.4 L738.3 381.7 L737 382.1 L735.7 382.5 L734.4 382.9 L733 383.4 L731.7 384 L730.4 384.8 L729.1 385.5 L727.7 386.2 L726.4 386.7 L725.1 387.1 L723.8 387.2 L722.4 387.2 L721.1 387.1 L719.8 386.9 L718.5 386.7 L717.1 386.5 L715.8 386.3 L714.5 386 L713.2 385.8 L711.8 385.5 L710.5 385.3 L709.2 384.9 L707.8 384.6 L706.5 384.1 L705.2 383.7 L703.9 383.3 L702.5 382.8 L701.2 382.4 L699.9 382 L698.6 381.7 L697.2 381.4 L695.9 381.2 L694.6 381.1 L693.3 381.1 L691.9 381.1 L690.6 381.2 L689.3 381.2 L688 381.3 L686.6 381.3 L685.3 381.4 L684 381.5 L682.7 381.5 L681.3 381.6 L680 381.7 L678.7 381.8 L677.3 381.8 L676 381.9 L674.7 381.9 L673.4 382 L672 382 L670.7 382 L669.4 382 L668.1 382 L666.7 381.9 L665.4 381.9 L664.1 381.9 L662.8 381.8 L661.4 381.7 L660.1 381.7 L658.8 381.6 L657.5 381.5 L656.1 381.4 L654.8 381.3 L653.5 381.2 L652.2 381.1 L650.8 381 L649.5 380.8 L648.8 380.7 L648.1 380.5 L647.4 380.1 L646.6 379.6 L645.9 378.9 L645.2 377.9 L644.5 375.3Z" fill="#2240a8"/>
<path d="M650.1 369.9 705.7 377.7 740 354 737.3 356.9 717.7 355.1 689.8 359.1 666.2 354.5 724.5 356.9 742.2 372.1 683.6 357.9 699.8 376.3 679.7 366.3 719.8 364.9 657.9 348.7 696.1 370.6 698.3 349.5 688.7 350.1 702.9 374.3 692.4 347.4 660.4 348.9 678.7 356.2 710.4 358.8 693.3 347.3 678 352.9 740.3 361.5 689.3 369.8 684.5 344.5 703.7 349.6 728.5 378.7 663.6 378.1 672.6 346 660.3 344.8 743.2 361.6 704.6 370.8 664.2 351.6 653.4 349.2 719.1 359.6 737.1 350 739.2 373.5 666.4 372.6 703.5 380.5 678.4 345.5 712 353.7 674 350.3 688.8 344.3 706.8 353.6 699.3 357.1 728.3 361.2 702.5 353.1 650.6 364.4 688.7 354.5 724.5 383.9 736.8 355.9 682.2 345.1 730.8 381.3 647.8 347 723.2 377.6 661.6 360.3 689 362.3 716.4 354.8 710.5 361.3 648.4 370.5 704.6 357 658.7 348.4 704 358.9 714.7 383.6 717.1 357.5 742.3 356 731.5 378.5 668.9 343.6 690.9 368.5 723 385.1 707.2 354.3 713.1 356.1 733.1 360.1 666.4 357.1 669.3 348.1 661.3 347.4 736.5 353.2 660.5 361.3 685 350.2 708.6 378.9 674.2 365.2 706.2 356.4 650.2 346.2 672.2 344.5 715.4 367.4 724.9 355.3 735.4 355.7 668 350.6 693.3 355 739 355.8 702.3 354.1 691.7 349.5 676.8 342.6 647.5 349.6 700.9 356.6 715.1 375.1 704.9 379.6 730.3 352.2 667 347.3 732.9 371.1 720.2 359.8 668.4 377.6 665.9 345.7 668.9 352.2 690.7 376.9 684.6 371.9 675.3 361.7 726.4 380.6 720.6 383.8 686.3 352.4 657.3 350.1 714 357.5 732.8 353.6 684.9 355.8 723.1 355.2 705.7 380.7 700.7 355.1 733 357.4 648.9 355.7 699.4 350 711.6 353.2 691.9 345.4 731.1 362.6 714 379.7 735.7 378.4 681.1 348 683.8 346.2 668.5 356.7 657.3 348.3 737 352 674.8 351.7" fill="none" stroke="none" marker-start="url(#s)" marker-mid="url(#s)" marker-end="url(#s)" opacity="0.7"/>
<path d="M697.8 342.1 660.1 341.4 652.8 332.7 649.9 333.5 727.8 345.2 671.3 340.8 679.8 341.2 667.9 341.8 663.3 333.4 690.9 342.2 733 348.8 645.2 344.9 735.4 345.9 721.3 351.3 712.8 351 737.1 343.1 676 340.5 730.5 345.4 661 329 672.5 337.1 742.3 341 674.7 339.6 715.8 351.5 657 342.4 717.3 351.5 723.4 349.9 645.1 342.5 724.7 346.8 692.2 341.8 738.3 347.3 657.2 341.9 687.8 332.2 653.2 341.6 717.4 352.3 647.6 333.9 718 351.6 679.7 340.5 664.7 331.7 738 343.6 676.5 338.8 659.5 342.8 666.5 340.9 661.1 342.5 652.8 342.8 725.7 346.9 713.1 390.4 705.7 385.8 736.7 392.8 703.7 396.4 697.3 394.6 713 395.9 699 387.8 677 382.6 653 380.4 668.3 382.1 722.2 388 718.9 394.4 714.4 385.9 682.2 382.7 741.2 386.9 721 391 741.7 383.4 706.5 383.8 732.1 385.5 740 382.4 739.7 382.3 737 389.6 744.5 379.7 652 380.8 715.9 396.6 708.8 386 699.5 382.6 742.5 384.5 736.9 389.3 669.5 387.3 673.3 395.2 720.4 386.4 739.5 382.5 675.4 384 670.8 388.6 644.2 371.5 645 363 644.3 362.7 644.3 358.2 640.5 349.7 644.2 377.7 644.9 353.2 643.9 347.4 645 347.6 645 351.7 644.2 351.5 644.6 357.7 643.5 349.9 645.2 363.3 643.6 378.5 641.9 361.4 644.6 347.9 644.6 354.2 644.1 360.8 641.6 348.7 644.1 364.7 644.1 367.3 645.2 380 643.9 373.7 745.3 350.6 745.8 362.7 746.6 372.5 747 379.3 745.9 376 745.3 380 745.4 366.7 745.3 359.5 760.5 362.4 754.2 370.5 748.5 353.1 762.4 349.4 759.7 355.2 764.4 353.1 753.2 385.5 751.9 348.1 761.4 362 746.2 352 757.7 370.1 758.2 348.8 679.9 335.4 687 337.2 688.1 335.7 689.2 337.5 677.4 338.9 686 336.8 664.2 337.6 729.3 333.2 732.8 338.5 711.7 392.2 727.5 395.8 667.7 389.6" fill="none" stroke="none" marker-start="url(#c)" marker-mid="url(#c)" marker-end="url(#c)"/>
<path d="M644 346.4 L646.4 346.4 L648.9 346.4 L651.3 346.4 L653.8 346.4 L656.2 346.4 L658.7 346.4 L661.1 346.4 L663.6 346.4 L666 346.4 L668.5 346.4 L670.9 346.4 L673.4 346.4 L675.8 346.4 L678.3 346.4 L680.7 346.4 L683.2 346.4 L685.6 346.4 L688.1 346.4 L690.5 346.4 L693 346.4 L695.4 346.5 L697.9 346.9 L700.3 347.7 L702.8 348.5 L705.2 349.4 L707.7 350.3 L710.1 350.8 L712.6 351.3 L715 351.7 L717.5 352.1 L719.9 352.4 L722.4 352.6 L724.8 352.5 L727.3 351.8 L729.7 350.5 L732.2 349.1 L734.6 348.2 L737.1 347.7 L739.5 347.2 L742 346.8 L744.4 346.5 L746.9 346.4 L749.3 346.5 L751.8 346.8 L754.2 347.2 L756.7 347.9 L759.1 348.7 L761.6 349.7 L764 350.8" fill="none" stroke="#000" stroke-width="1.8" stroke-dasharray="7 6" opacity="0.9"/>
<path d="M644 380.8 L646.4 381.1 L648.9 381.4 L651.3 381.6 L653.8 381.8 L656.2 382 L658.7 382.2 L661.1 382.3 L663.6 382.4 L666 382.5 L668.5 382.6 L670.9 382.6 L673.4 382.6 L675.8 382.5 L678.3 382.4 L680.7 382.3 L683.2 382.1 L685.6 382 L688.1 381.9 L690.5 381.8 L693 381.7 L695.4 381.8 L697.9 382.1 L700.3 382.7 L702.8 383.5 L705.2 384.3 L707.7 385.1 L710.1 385.8 L712.6 386.3 L715 386.7 L717.5 387.2 L719.9 387.5 L722.4 387.8 L724.8 387.7 L727.3 387 L729.7 385.7 L732.2 384.4 L734.6 383.4 L737.1 382.7 L739.5 382 L742 381.4 L744.4 381 L746.9 380.8 L749.3 380.9 L751.8 381 L754.2 381.4 L756.7 381.8 L759.1 382.5 L761.6 383.3 L764 384.3" fill="none" stroke="#000" stroke-width="1.8" stroke-dasharray="7 6" opacity="0.9"/>
<path d="M646.5 365.3 L648.5 365.6 L650.5 365.8 L652.5 366 L654.5 366.2 L656.4 366.3 L658.4 366.4 L660.4 366.5 L662.4 366.6 L664.4 366.6 L666.4 366.7 L668.4 366.7 L670.4 366.7 L672.4 366.7 L674.4 366.5 L676.3 366.3 L678.3 366 L680.3 365.6 L682.3 365.2 L684.3 364.9 L686.3 364.5 L688.3 364.3 L690.3 364.1 L692.3 364 L694.3 364.1 L696.2 364.4 L698.2 364.8 L700.2 365.4 L702.2 366 L704.2 366.7 L706.2 367.4 L708.2 368 L710.2 368.5 L712.2 369.1 L714.2 369.8 L716.1 370.4 L718.1 370.9 L720.1 371.1 L722.1 371 L724.1 370.7 L726.1 370.3 L728.1 369.7 L730.1 369 L732.1 368.3 L734.1 367.7 L736 367.1 L738 366.7 L740 366.3 L742 365.9 L744 365.6" fill="none" stroke="#000" stroke-width="1.4" opacity="0.5"/>
<path d="M646.5 365.3 L648.5 365.6 L650.5 365.8 L652.5 366 L654.5 366.2 L656.4 366.3 L658.4 366.4 L660.4 366.5 L662.4 366.6 L664.4 366.6 L666.4 366.7 L668.4 366.7 L670.4 366.7 L672.4 366.7 L674.4 366.5 L676.3 366.3 L678.3 366 L680.3 365.6 L682.3 365.2 L684.3 364.9 L686.3 364.5 L688.3 364.3 L690.3 364.1 L692.3 364 L694.3 364.1 L696.2 364.4 L698.2 364.8 L700.2 365.4 L702.2 366 L704.2 366.7 L706.2 367.4 L708.2 368 L710.2 368.5 L712.2 369.1 L714.2 369.8 L716.1 370.4 L718.1 370.9 L720.1 371.1 L722.1 371 L724.1 370.7 L726.1 370.3 L728.1 369.7 L730.1 369 L732.1 368.3 L734.1 367.7 L736 367.1 L738 366.7 L740 366.3 L742 365.9 L744 365.6" fill="none" stroke="#000" stroke-width="1.8" opacity="0.9" stroke-dasharray="3.1 2.2 4.4 1.8 3.1 3.0 3.7 3.1 3.9 2.7 3.2 2.4 4.0 2.2 3.6 2.7 4.2 1.8 3.0 3.3 3.3 1.1 2.8 1.6 3.3 1.0 2.6 1.1 3.3 1.9 4.2 1.1 3.4 1.3 3.5 3.8 3.1 3.0 3.0 3.1 3.2 1.4 3.4 1.2 3.8 3.6 4.0 1.8 3.2 2.5 2.8 3.2 3.1 1.1 3.8 3.8 2.9 2.6 3.1 2.4 3.3 3.3 4.0 2.3 2.6 2.4 3.7 2.1 3.6 3.0 4.2 2.2 3.5 2.6 2.6 1.8 2.9 2.1 3.2 3.5 3.2 2.1 3.7 1.3 2.9 3.0 2.6 2.0 3.0 2.8 3.3 2.6 3.0 1.8 4.1 4.0 2.7 1.8 4.2 3.2 3.9 1.6 2.6 3.5 4.2 3.1 3.0 3.0 4.5 3.2 2.5 3.2 3.0 1.1 3.2 3.8 2.6 3.2 3.4 1.5"/>
<path d="M644 364.9 L644.2 364.9 L644.5 365 L644.7 365 L644.9 365.1 L645.1 365.1 L645.4 365.1 L645.6 365.2 L645.8 365.2 L646 365.2 L646.3 365.3 L646.5 365.3" fill="none" stroke="#000" stroke-width="1.6"/>
<path d="M744 365.6 L745.8 365.3 L747.6 365 L749.5 364.9 L751.3 364.9 L753.1 365 L754.9 365.1 L756.7 365.3 L758.5 365.5 L760.4 365.8 L762.2 366.2 L764 366.7" fill="none" stroke="#000" stroke-width="1.6"/>
</g>
<rect x="636.9" y="260.3" width="136.30000000000007" height="138.89999999999998" fill="none" stroke="#333" stroke-width="1.3"/>
<path d="M659.9 399.2v5M659.9 260.3v-5M707.8 399.2v5M707.8 260.3v-5M755.7 399.2v5M755.7 260.3v-5M636.9 392.1h-5M773.2 392.1h5M636.9 358.8h-5M773.2 358.8h5M636.9 325.4h-5M773.2 325.4h5M636.9 292.1h-5M773.2 292.1h5M636.9 260.3h-5M773.2 260.3h5" stroke="#333" stroke-width="1.2" fill="none"/>
<g font-size="10" fill="#1e1e1e" stroke="#1e1e1e" stroke-width="0.25" style="letter-spacing:0.2px"><text transform="translate(660.7 414.8) scale(1.06 1)" text-anchor="middle">0.5</text><text transform="translate(708.6 414.8) scale(1.06 1)" text-anchor="middle">1.0</text><text transform="translate(756.5 414.8) scale(1.06 1)" text-anchor="middle">1.5</text><text transform="translate(630.6 395.7) scale(1.06 1)" text-anchor="end">50</text><text transform="translate(630.6 362.4) scale(1.06 1)" text-anchor="end">100</text><text transform="translate(630.6 329) scale(1.06 1)" text-anchor="end">150</text><text transform="translate(630.6 295.7) scale(1.06 1)" text-anchor="end">200</text></g>
<text x="705.5" y="248.8" text-anchor="middle" font-size="10" fill="#1e1e1e" stroke="#1e1e1e" stroke-width="0.3">DBP</text>
<text x="705.6" y="429.4" text-anchor="middle" font-size="10" fill="#1e1e1e" stroke="#1e1e1e" stroke-width="0.3">Time</text>
<clipPath id="k9"><rect x="48.9" y="492.5" width="136.4" height="141.10000000000002"/></clipPath>
<g clip-path="url(#k9)">
<path d="M51.5 545 L52.5 539.2 L53.5 535.8 L54.5 533.5 L55.5 532.6 L56.5 532.1 L57.5 531.7 L58.5 531.6 L60.3 531.4 L62 531.3 L63.8 531.3 L65.5 531.2 L67.3 531.1 L69.1 531 L70.8 531 L72.6 530.9 L74.3 530.8 L76.1 530.7 L77.9 530.6 L79.6 530.5 L81.4 530.5 L83.2 530.4 L84.9 530.3 L86.7 530.2 L88.4 530.1 L90.2 530 L92 529.8 L93.7 529.6 L95.5 529.4 L97.2 529.1 L99 529 L100.8 529 L102.5 529 L104.3 529.1 L106 529.2 L107.8 529.3 L109.6 529.5 L111.3 529.7 L113.1 529.9 L114.8 530.1 L116.6 530.3 L118.4 530.6 L120.1 530.9 L121.9 531.2 L123.7 531.7 L125.4 532.3 L127.2 533.1 L128.9 534 L130.7 534.9 L132.5 535.8 L134.2 536.6 L136 537.5 L137.7 538.5 L139.5 539.5 L141.3 540.4 L143 540.9 L144.8 541 L146.5 540.6 L148.3 539.9 L150.1 539 L151.8 538 L153.6 536.9 L155.3 535.8 L157.1 534.2 L158.9 532.2 L160.6 530 L162.4 528 L164.2 526.3 L165.9 525.2 L167.7 525 L169.4 525.2 L171.2 525.5 L173 525.9 L174.7 526.3 L176.5 526.9 L178.2 527.4 L180 528 L181 528.4 L182 529 L183 529.8 L184 530.8 L185 532.1 L186 533.9 L187 538 L187 579 L186 583 L185 584.7 L184 585.9 L183 586.9 L182 587.7 L181 588.3 L180 588.8 L178.2 589.6 L176.5 590.3 L174.7 591.1 L173 591.9 L171.2 592.6 L169.4 593.3 L167.7 594 L165.9 594.7 L164.2 595.3 L162.4 595.9 L160.6 596.5 L158.9 597 L157.1 597.5 L155.3 597.9 L153.6 598.3 L151.8 598.7 L150.1 599 L148.3 599.4 L146.5 599.7 L144.8 599.9 L143 600 L141.3 600 L139.5 599.9 L137.7 599.7 L136 599.5 L134.2 599.2 L132.5 598.9 L130.7 598.5 L128.9 598.1 L127.2 597.6 L125.4 597.2 L123.7 596.7 L121.9 596.2 L120.1 595.8 L118.4 595.1 L116.6 594.4 L114.8 593.6 L113.1 592.7 L111.3 591.8 L109.6 590.9 L107.8 590 L106 589.3 L104.3 588.7 L102.5 588.3 L100.8 588 L99 588.1 L97.2 588.6 L95.5 589.3 L93.7 590.1 L92 590.7 L90.2 591 L88.4 591 L86.7 591 L84.9 590.9 L83.2 590.9 L81.4 590.8 L79.6 590.7 L77.9 590.6 L76.1 590.5 L74.3 590.3 L72.6 590.2 L70.8 590.1 L69.1 589.9 L67.3 589.7 L65.5 589.4 L63.8 589.1 L62 588.8 L60.3 588.4 L58.5 588 L57.5 587.6 L56.5 587.1 L55.5 586.5 L54.5 585.6 L53.5 584.5 L52.5 582.9 L51.5 579Z" fill="#1f3da6"/>
<path d="M180.2 527.9 144.5 535.8 82.5 532.3 141.9 541.9 54.7 528.3 82.6 524.2 166.7 504.1 112.9 517.4 138.6 511.4 149.7 539.6 116.1 519.7 108.6 523.2 144.9 522.8 124.3 527.9 115.1 521.8 88.6 523.8 147.5 524.7 65.8 529.4 91.3 529.7 110.2 529.5 172.8 526.3 145.1 531.2 179.5 514.7 68.5 517.9 120.4 530.9 153.9 536.8 98.1 515.5 76.3 528.9 187 531.4 99.1 525.3 133.9 532.7 161.3 525.1 174.2 509.9 124 526.6 91.7 527.6 103.2 526.2 98.6 530.5 178 527.6 103.6 530.4 128 532.4 176.8 516.1 176.4 522.8 81.2 521.9 52.1 527.3 170.9 526.2 85.2 524.5 178.2 522.1 124.8 533.6 54 529.8 128.6 533.6 112.5 529 125.9 530 141.2 537 144.1 542.4 73.3 531.7 144.6 534.5 62.2 531.6 186.7 532.3 178.7 521.6 186.4 531.8 105.5 520.3 100.9 529.3 168.5 523.8 61.7 528.5 52.7 533.4 62.4 532.7 77.2 525.9 70.5 521.5 124.4 524.2 133.3 531.6 122.6 528.7 166.2 519.9 118.1 527.5 162.1 521.1 60.8 527 59.6 522.3 60.2 524.7 150.2 534.7 148 522.5 185.6 524.8 116.2 529 62.9 525.5 116.3 528.8 93 526.5 107 530.8 158.5 529.2 66.2 528.1 91.3 522.1 88.2 530.7 103.1 530.3 56.9 513.9 125.2 533.6 78 529 129 532.2 135.2 535.7 63.7 522.8 115.7 525.5 175.4 521.1 115.2 522 183.4 530.9 166.6 521.4 164.7 526.8 122 521.2 169.2 526.8 120.1 526.6 54.1 532.1 176.9 526.5 122.8 529.2 147.8 541.8 169 520.7 176.1 527.1 86.2 530.5 126.5 529.9 64.9 521.8 77.7 528.8 66.9 527.8 116.2 502.3 82.4 529.2 167.8 514.7 133.3 536.1 98.2 519.3 142.8 536 67.5 527.3 82.9 531.8 75.1 510.5 82.1 526.9 123.5 533 63 528.1 64.4 525.7 159 533.5 163.3 526.8 185.1 531.8 125.2 513.7 63.6 510.2 185.2 527.8 96.6 526.8 83.7 530.2 176.4 521.4 81 509.4 147.8 541 137.4 531.7 129.1 534.8 121.6 523.7 122.5 526.3 168.1 508 186.5 530.8 108.6 528.4 55.6 514 179.9 528.2 166.8 524.8 157.3 534.6 141.2 532.5 84.6 528.3 111 524.1 186.6 531.9 161.1 501.5 79.4 529.5 89.6 508.8 164.4 525.2 90.8 522.3 72.4 527.6 181.9 525.9 178.4 525.7 138.3 511.9 115.4 531.5 91.4 531.2 165.6 518.8 148.3 538 180.6 518.6 174.5 514.5 71.2 531.5 105.7 529.3 71.7 532.1 69.4 527.6 130.5 527.2 183.3 524.7 109.5 531.4 160.1 515 53.6 527.8 84.4 518.3 59.4 523.3 66 528.5 136 537.7 154.1 537.5 59.3 532.6 145.9 537.9 175.5 524.8 122.8 530.8 94.2 527.4 175.5 525.8 55.5 532.9 127.7 528.3 109 528.3 56.5 529.2 102.1 527.9 101.9 528.9 76.7 531.2 119.7 529.2 165.4 525.5 86.9 520 170.7 524.5 72.5 529.5 170.4 516.3 175.7 526.6 148.2 531.7 59.1 523.6 66.3 525.7 51.7 533 56.3 527.5 157.8 525 88.2 531.6 62.2 530.8 110.8 526.9 134.7 538.2 90.6 520.7 175.8 521.6 184 519.3 60.5 528.6 176.3 528.3 79.4 530.7 75.5 523.1 87.8 514.5 129.9 527.5 104.4 529.9 122.9 528 71.4 529.4 140.5 533.4 153.1 516.1 92.8 527.8 67.7 530.6 103.9 506 154.8 533.7 135.6 534.7 138.1 538.4 76.5 531.5 112.9 515.7 103 530.8 81 531.2 167.1 515.6 121.1 503 168.2 507.7 93.7 530.5 110.2 526 147.6 533 121.5 529.6 157.3 534 184 527.4 172.5 523.5 173.8 523.9 123 532.3 102.3 525 123.2 526.9 97.1 529.7 138.5 537.3 153 537.7 158.1 526.5 55.4 523.9 139.2 526.8 126.4 516.1 61.7 504.9 52.1 532 175.9 526 105 526.2 72.9 530.4 159.7 527.5 148.6 517.2 173.5 518.6 60.9 524.4 145.3 532.7 55.5 525.2 178.4 521.3 159.5 532.3 150.8 533.7 153.7 530.5 86.8 529.4 151.9 528.4 72.4 519.6 99.7 525.2 127.4 526.2 71.9 502.9 145.9 542.7 122 533.2 184.7 531.6 147.7 541.8 78 530.4 63.9 526.7 183.2 528.5 151.7 535.2 166.4 524.2 103.1 529 133.5 535 174.9 517.8 133.8 517.5 133.6 529.5 186.3 527.9 55.4 530.2 135.3 533.4 125 532.9 172.5 525.6 135.7 533.6 142.6 539.1 114.1 505.8 63.9 530.2 132.8 537.5 151.1 533 152.1 533.7 153.5 536.8 124.7 531.2 119.3 514.8 150.3 535.9 169.5 522.1 76.4 530 145.9 541.4 104.6 516.3 176.2 514.7 169.4 524.3 120.6 524.8 170.5 515.1 170.6 525.5 155.3 514 71.6 532.5 73.5 532.5 55 522.5 79.8 506.7 77.2 525.8 181.2 523.9 147 529.3 167.9 514.5 61.4 528.6 181.1 530.1 183.3 525.1 118.6 510.6 53.9 531.2 181.6 504.2 136.7 528.1 177.3 519.4 54.1 533.5 146.5 536.3 165.5 524.3 169.9 523.3 106.8 517.8 106.6 518.3 174.2 522 183.3 513.9 118.8 531.3 113.9 525.3 101.2 526.9 71.7 527.3 177.8 528 150.8 539.7 55.5 521.4 59.9 522 53.1 535.1 171.9 524.3 133.1 535.6 64.8 525.7 108.1 529.7 59.9 531.1 76.3 523.1 164.9 509.4 122.9 519.8 146 529.6 139.4 535.8 103.2 529.5 122.7 529.3 139.4 531.3 78.4 524.1 79.5 530 143.8 542.9 69.3 527.5 52.2 524.5 121.9 532.5 94.1 528.2 146.8 526.1 166.7 526.9 127.3 534.1 148.9 524.2 144.5 527.1 169.5 524.3 113.7 530.2 156.9 533.3 147.3 530.2 177.5 528.9 55.7 529.6 168.7 522.9 77.4 532.2 113.8 527.2 151.4 530.7 172.5 499.2 60.2 517.3 72.8 524.6 65.9 532.8 73.7 507.6 81 527.6 57.9 529.8 172.6 526 126.1 529 148.6 539.3 87.5 531.4 126.9 534 137.2 528.6 112.5 518.2 173.4 524.7 52.6 532.5 117.6 529.7 158.1 530.3 72 589.8 170.8 596.6 182.9 587.7 183.7 589.6 58.2 594.5 69.9 594.4 81.6 589.9 74 602.1 63.1 594.5 170.7 593.1 184.4 592.4 154.5 596.3 157.5 597 86.8 592 152.7 599 127 597.7 70.7 589.3 89.5 590.5 157.7 595.9 131.1 596.7 173 592.1 53.1 588 117.5 595.8 168.7 592.1 129 599.5 103.8 586.6 111.2 590 157.6 595.5 111.2 590.7 132 597.2 185.9 585.5 70.7 588.8 77.8 588.9 60.7 587.9 134.5 598.6 89.3 591.4 157.6 595.8 71.3 588.9 142.8 601.7 137.7 598.2 100 595.5 130.5 599 60.2 590.4 142.3 600.3 101.5 586.2 53.7 586.5 158.6 598.1 176 589.5 146.3 612.7 113.7 591.4 175.1 591.3 140.4 600.9 106.3 587.7 71.7 589.1 119.2 595.4 184.7 592.3 150.7 602.7 84.4 590 57.3 587.6 76.3 589.1 78.5 588.9 94 590.2 92.7 590.2 133 597.8 166 596.1 100.9 586.2 96.1 587 58.7 589.4 103.3 586.5 174.3 591.1 104.6 591.1 98.8 591.9 125.1 598.5 164.9 593.9 155.3 600 118.4 593.9 96.1 602 133.9 599.1 119.5 603.6 178.3 592.2 178.5 588.4 159.9 594.9 66 588.2 72.6 591.2 97.5 591.3 167.7 596.6 63.7 588 154.2 597 123 595.3 133.5 599.3 147.1 600.6 154.4 602.3 74.8 594.6 156 599.4 118 599.9 163.9 596.4 179.4 589.3 153.6 597 151.7 600.1 68.3 600.8 130.3 615.2 147.2 597.8 134.5 597.8 161 599.8 168.6 594.4 163.2 594.5 131.8 597.9 126.8 602.8 56.7 589.8 146.8 608.1 88.1 593.2 154.9 597.9 160.4 595.6 186.3 585.8 58.2 587.9 84.9 589.5 177.9 590.7 58.5 586.6 81.6 589.4 86.6 591 118.9 594.1 146.9 607.7 79.8 596.5 162.5 594.2 87.7 598.1 165.7 595.1 84.3 589.1 95.5 588.7 138.8 598.2 117.7 593.7 160.1 601.4 65.5 590.6 66.5 588 163.3 597 114.6 599.3 112.6 593.8 182.2 587.8 76.7 591.8 66.9 589.5 136.8 599.5 164.4 593.8 78.6 600.9 135.3 600.6 185.9 586.5 91.5 593.5 67.8 593.6 145 597.9 168.6 592.3 140.6 598 151.6 598.2 149.3 597.3 60.7 597.3 118.9 593.5 105.9 587.3 66.4 588.4 53.2 584.6 112.3 594 54.3 585.8 116 593.5 107.8 588.2 84.8 594.6 67.4 590 156.3 596.2 117.5 599.1 145.1 600.2 52.9 585.6 164.8 608.2 101.8 586.5 117.6 597.7 141.3 602.7 57.1 585.9 154.2 600.9 108.6 592.3 171.4 590.7 125.4 597.3 179.7 588.3 69.9 589.8 149.9 600.5 81.4 590.3 86.4 591.3 109.9 596.8 64.1 588.8 138.7 598.9 53.1 586.8 123.4 601.1 100.8 586.4 77.9 594.2 158.4 599 76.2 591.8 122.6 602.1 108.8 593.3 154.6 598.6 104.7 589.7 55.7 590 177.3 599.1 72.8 589.9 141.4 599.5 123.1 596.9 104.1 599.6 84.7 596.5 63.7 589.5 63.2 593.2 158.8 596.7 169.1 603.9 118.1 595.2 117.8 597.9 147.4 599.7 158 605 133.2 598 106.7 587.7 101.8 590.2 113.8 592.4 85 591.9 82.6 590.4 113.6 592 52.9 590.3 160.9 599.1 157.7 599.5 89.5 598.7 95.7 590.2 136.2 607.8 147.8 599 59.1 590.6 95.3 588.5 61 588.4 65.7 589.1 132.2 598.9 87.6 597.4 146.3 604.9 147.1 605.1 96.9 596.1 66.7 588.8 59.5 591.4 54 589 179 594.5 137.2 598.7 85.1 590.9 174.8 590 53.1 588.4 85 599.2 71 591.8 156.9 597.5 116.4 593.2 50.7 560 51.7 580.8 52.1 565.1 50.1 548.2 51.3 544 52.1 541 51.9 580.4 51.4 540.7 49 584.6 52.3 553.7 49.8 546.7 52.3 561 50.9 551 51.1 584.1 52.2 580.2 48.3 562.9 51.9 583.1 52.1 546.1 50.3 552.6 52.1 561.1 51.4 557.4 51.1 568.6 50.5 552.3 51 541.9 186.3 555.9 187 533.4 188.5 532.8 186.4 547.8 186.5 560.3 186.6 537.4 186.2 566.1 188.6 543.8 186.5 556.3 187.8 581.3 187.1 566.8 186.9 569.5 189.4 568.3 186.7 565.3 187.4 538.9 186.9 568 186.5 558.2 186.6 564.8 189.3 545.1 186.6 539.1 189.4 537.4 186.9 542.1 186.3 554.4 186.5 537.6 57.6 599.7 65 602.4 70 606 98.1 605.6 97.5 617.8 146.5 609.3 148.7 614.6 175.3 611.8 56 501 66 502 90 503 101 501 113 503 160 502 163 505" fill="none" stroke="none" marker-start="url(#d)" marker-mid="url(#d)" marker-end="url(#d)"/>
<path d="M52 537 L54.8 536.6 L57.5 536.2 L60.3 535.8 L63 535.5 L65.8 535.2 L68.5 535 L71.3 534.7 L74 534.5 L76.8 534.4 L79.6 534.2 L82.3 534.1 L85.1 534.1 L87.8 534 L90.6 534 L93.3 534 L96.1 534.1 L98.8 534.2 L101.6 534.3 L104.3 534.5 L107.1 534.6 L109.9 534.8 L112.6 535.1 L115.4 535.5 L118.1 536.4 L120.9 537.4 L123.6 538.7 L126.4 540 L129.1 541.4 L131.9 542.7 L134.7 543.9 L137.4 544.9 L140.2 545.6 L142.9 546 L145.7 545.8 L148.4 544.9 L151.2 543.3 L153.9 541.4 L156.7 539.5 L159.4 537.7 L162.2 536.5 L165 536 L167.7 536 L170.5 536 L173.2 536 L176 536 L178.7 536 L181.5 536 L184.2 536 L187 536" fill="none" stroke="#1a2370" stroke-width="1.4" stroke-dasharray="5 4" opacity="0.3"/>
<path d="M52 588 L54.8 588.2 L57.5 588.5 L60.3 588.7 L63 588.9 L65.8 589.1 L68.5 589.3 L71.3 589.4 L74 589.6 L76.8 589.7 L79.6 589.8 L82.3 589.9 L85.1 590 L87.8 590 L90.6 590 L93.3 590 L96.1 590 L98.8 590 L101.6 590 L104.3 590 L107.1 590 L109.9 590 L112.6 590 L115.4 590.2 L118.1 590.8 L120.9 591.5 L123.6 592.4 L126.4 593.4 L129.1 594.4 L131.9 595.4 L134.7 596.4 L137.4 597.1 L140.2 597.7 L142.9 598 L145.7 597.9 L148.4 597.4 L151.2 596.6 L153.9 595.6 L156.7 594.5 L159.4 593.5 L162.2 592.6 L165 592 L167.7 591.6 L170.5 591.3 L173.2 590.9 L176 590.6 L178.7 590.4 L181.5 590.2 L184.2 590 L187 590" fill="none" stroke="#1a2370" stroke-width="1.4" stroke-dasharray="5 4" opacity="0.3"/>
<path d="M52 562.4 L54.8 562.5 L57.5 562.6 L60.3 562.8 L63 563 L65.8 563.2 L68.5 563.3 L71.3 563.6 L74 563.9 L76.8 564.3 L79.6 564.6 L82.3 565 L85.1 565.3 L87.8 565.5 L90.6 565.6 L93.3 565.5 L96.1 565.1 L98.8 564.6 L101.6 563.9 L104.3 563.3 L107.1 562.8 L109.9 562.5 L112.6 562.4 L115.4 562.8 L118.1 563.7 L120.9 564.9 L123.6 566.3 L126.4 567.7 L129.1 569.1 L131.9 570.4 L134.7 571.4 L137.4 572.5 L140.2 573.5 L142.9 574 L145.7 574 L148.4 573.3 L151.2 572.3 L153.9 571.2 L156.7 570.1 L159.4 568.7 L162.2 567.2 L165 565.7 L167.7 564.5 L170.5 563.6 L173.2 563.2 L176 563 L178.7 562.7 L181.5 562.6 L184.2 562.4 L187 562.4" fill="none" stroke="#141d5e" stroke-width="1.8"/>
</g>
<rect x="48.9" y="492.5" width="136.4" height="141.10000000000002" fill="none" stroke="#7a7a7a" stroke-width="1.3"/>
<path d="M61.1 633.6v5M61.1 492.5v-5M84.7 633.6v5M84.7 492.5v-5M108.2 633.6v5M108.2 492.5v-5M131.8 633.6v5M131.8 492.5v-5M155.3 633.6v5M155.3 492.5v-5M178.9 633.6v5M178.9 492.5v-5M48.9 626.7h-5M185.3 626.7h5M48.9 593.1h-5M185.3 593.1h5M48.9 559.6h-5M185.3 559.6h5M48.9 526h-5M185.3 526h5M48.9 492.5h-5M185.3 492.5h5" stroke="#7a7a7a" stroke-width="1.2" fill="none"/>
<g font-size="10" fill="#1e1e1e" stroke="#1e1e1e" stroke-width="0.25" style="letter-spacing:0.2px"><text transform="translate(61.9 648) scale(1.06 1)" text-anchor="middle">0.4</text><text transform="translate(85.5 648) scale(1.06 1)" text-anchor="middle">0.6</text><text transform="translate(109 648) scale(1.06 1)" text-anchor="middle">0.8</text><text transform="translate(132.6 648) scale(1.06 1)" text-anchor="middle">1.0</text><text transform="translate(156.1 648) scale(1.06 1)" text-anchor="middle">1.2</text><text transform="translate(179.7 648) scale(1.06 1)" text-anchor="middle">1.4</text><text transform="translate(42.6 630.3) scale(1.06 1)" text-anchor="end">50</text><text transform="translate(42.6 596.7) scale(1.06 1)" text-anchor="end">100</text><text transform="translate(42.6 563.2) scale(1.06 1)" text-anchor="end">150</text><text transform="translate(42.6 529.6) scale(1.06 1)" text-anchor="end">200</text></g>
<text x="121" y="481" text-anchor="middle" font-size="10" fill="#1e1e1e" stroke="#1e1e1e" stroke-width="0.3">SBP</text>
<text x="118.8" y="664.9" text-anchor="middle" font-size="10" fill="#1e1e1e" stroke="#1e1e1e" stroke-width="0.3">Time</text>
<text transform="translate(11.5 570) rotate(-90)" text-anchor="middle" font-size="10" fill="#1e1e1e" stroke="#1e1e1e" stroke-width="0.3">Observations</text>
<clipPath id="k10"><rect x="233.9" y="492.2" width="137.9" height="140.3"/></clipPath>
<g clip-path="url(#k10)">
<path d="M236.6 587 L237.7 581.5 L238.9 578.7 L240 576.9 L241.2 575.4 L242.3 574.2 L243.5 573.2 L244.6 572.4 L246.3 571.5 L248.1 570.8 L249.8 570.2 L251.6 570 L253.3 569.9 L255.1 569.8 L256.8 569.8 L258.6 569.7 L260.3 569.7 L262 569.7 L263.8 569.6 L265.5 569.6 L267.3 569.6 L269 569.5 L270.8 569.4 L272.5 569.3 L274.3 569.2 L276 569.1 L277.8 569 L279.5 568.9 L281.2 568.7 L283 568.6 L284.7 568.5 L286.5 568.3 L288.2 568.2 L290 568.1 L291.7 568.1 L293.5 568 L295.2 568 L296.9 568.1 L298.7 568.5 L300.4 569.2 L302.2 570.1 L303.9 571 L305.7 572.1 L307.4 573.2 L309.2 574.2 L310.9 575.1 L312.7 575.8 L314.4 576.4 L316.1 576.9 L317.9 577.5 L319.6 578 L321.4 578.5 L323.1 579 L324.9 579.3 L326.6 579.7 L328.4 579.9 L330.1 580 L331.8 579.9 L333.6 579.6 L335.3 579 L337.1 578.3 L338.8 577.4 L340.6 576.4 L342.3 575.4 L344.1 574.5 L345.8 573.6 L347.6 572.4 L349.3 571.2 L351 569.9 L352.8 569 L354.5 568.5 L356.3 568.6 L358 569.3 L359.8 570.2 L361.5 571.2 L363.3 572.1 L365 573.1 L366.1 573.9 L367.3 574.8 L368.4 576 L369.6 577.4 L370.7 579.2 L371.9 581.5 L373 586.5 L373 603 L371.9 607.9 L370.7 610.1 L369.6 611.7 L368.4 613.1 L367.3 614.2 L366.1 615 L365 615.7 L363.3 616.5 L361.5 617.2 L359.8 617.8 L358 618.5 L356.3 619 L354.5 619.6 L352.8 620.1 L351 620.5 L349.3 620.8 L347.6 621.1 L345.8 621.4 L344.1 621.7 L342.3 622 L340.6 622.2 L338.8 622.5 L337.1 622.7 L335.3 622.8 L333.6 622.9 L331.8 623 L330.1 623 L328.4 622.8 L326.6 622.5 L324.9 622.1 L323.1 621.6 L321.4 621.1 L319.6 620.6 L317.9 620.1 L316.1 619.8 L314.4 619.5 L312.7 619.5 L310.9 619.5 L309.2 619.5 L307.4 619.5 L305.7 619.5 L303.9 619.5 L302.2 619.5 L300.4 619.5 L298.7 619.5 L296.9 619.5 L295.2 619.5 L293.5 619.5 L291.7 619.5 L290 619.5 L288.2 619.5 L286.5 619.5 L284.7 619.6 L283 619.7 L281.2 619.8 L279.5 620.1 L277.8 620.3 L276 620.6 L274.3 620.9 L272.5 621.2 L270.8 621.5 L269 621.7 L267.3 622 L265.5 622.2 L263.8 622.4 L262 622.5 L260.3 622.5 L258.6 622.4 L256.8 622.2 L255.1 621.8 L253.3 621.4 L251.6 620.8 L249.8 620.1 L248.1 619.3 L246.3 618.5 L244.6 617.6 L243.5 616.8 L242.3 615.9 L241.2 614.8 L240 613.5 L238.9 611.8 L237.7 609.3 L236.6 604Z" fill="#1f3da6"/>
<path d="M286.7 570.2 327.6 570.5 272.5 565.6 318 578.8 355.1 562.6 303.4 571.9 354.5 570.7 249.6 571.5 352.4 564.1 264.7 572.2 313.2 573.6 299.9 571.8 342.1 563.5 270.3 568 313.2 573.8 358.6 571.7 339.3 576.6 302.2 564.1 363.8 574.4 261.7 568 248.4 573.5 246 572.8 301 569.6 305.6 570.8 360.2 568.2 272.5 571.5 368 569.1 278.7 562.2 302.1 566.2 256.4 571.8 360.6 560.4 267.2 571.2 305.7 573.9 353.7 571.6 274.5 570.8 298.8 570.1 298 570.4 361.3 571.3 278.1 567.4 262.7 557.7 237.6 579.8 331.9 580.8 349.5 572.8 364.3 569.8 361.1 571.9 249.4 571.4 292.6 569.1 300 567.9 372.1 574.2 317.5 578.7 320.3 572.8 309 562.1 253.2 564.9 365.4 574.9 258.7 569.9 238.4 577 295.2 562.7 328.8 571 347.2 574.9 260.5 570.5 262.9 571 321 581.1 317.5 572.4 252.3 572.7 344.3 575.1 352.5 571.4 268.6 571.1 252 564.8 252.4 565.3 325.1 581.7 301.7 562.7 304.5 573.9 255.9 571.6 367.3 577.2 283.9 562.4 340.2 568.5 320.5 578 307.3 566.8 245.7 572 343.2 575.1 304.5 574.4 352.8 568.2 280.2 566.6 256.7 571.9 303.9 567.8 329.8 579.9 241.5 565.3 325.2 576.7 332.8 576.2 237.5 580.1 360.4 573.4 267.5 562.2 284.7 564.9 308.7 570 276.5 566.3 277.4 561.3 296.3 564 283.9 568.1 334.7 574.4 276.3 562.5 266.6 563.9 274.3 557.2 251.4 566 304.7 559.5 265 569.6 299.2 565.5 236.7 578.2 275.1 567.5 359.3 567.9 327.2 574.6 245 574.8 268.8 558.6 319.3 574.9 236.8 576.6 333.6 581.7 278 568.2 330 580.2 369.5 578.7 362.5 568.1 240.2 570.9 325.9 571 247.5 573.8 320.6 574 284.4 564.1 277.1 568 254.8 564.3 331.1 582.8 363.5 574.2 257.3 571.2 266 571.8 290.7 564.8 338.1 580.5 290.7 569.9 371.4 580.3 305 572.1 323.6 578.6 318.7 577.9 370.9 579.4 351 563.4 245.5 570.4 252.7 572.7 306.2 560.4 251.4 572 259.7 570.6 298.7 570.4 303.2 567.9 329.8 575.7 251.4 563 336.2 581 305.6 572.9 357.4 565.1 311.5 574.9 295.6 568.9 244.6 574.3 288.3 566.7 368.4 574.3 358.8 571 318.1 578.7 280.3 566.7 254.2 563.3 346.7 570.3 279.4 562.4 342.1 573.2 270.6 572.2 270.5 568.7 331.1 580.8 267.1 569.5 288.5 570.2 350.1 572.6 349.3 560.9 324.1 577.2 344 567.9 296.2 570.9 372.6 578.5 327.4 579.4 239.8 577.3 243.4 575 260.6 571.7 285.2 566.1 281.7 570.1 372.9 571.7 331.6 580 287.5 566.6 292.9 564 346.4 572 366 573.3 346.6 572.9 297.8 561.7 327.6 579.2 367.3 570.5 258.6 564.2 258.8 568.2 337.5 578 338 565.8 354 564.9 310.2 569.6 290.9 570.7 309.5 576 249.1 570.3 289.1 570.1 294.2 558.1 310.8 576.7 289.9 559.3 280.7 571.3 307 625.3 371.9 609.2 344.6 629.4 268.6 627.1 241 615.9 319.8 627.3 351.5 619.3 312.9 627.1 261.8 621.2 272.4 621.1 368.7 622.9 298.6 620.5 323.4 622.5 289.9 619 304.6 617.8 287.9 616.8 352.1 623.2 295.1 620.8 270.8 620.5 242.4 621 330.4 635 242.9 614.3 295.1 619.3 276 620.1 293.6 616.5 290 626.7 240.5 616.3 264.1 634.3 361.4 626.1 335.2 620.1 251.6 626.1 344.1 619 298.6 624.3 350.3 625.4 266.9 625.5 273.2 620.4 350.2 625.9 307.7 624.3 367.2 614.7 264.7 619.9 250.3 623.1 294.1 617.6 315.8 621.7 342.8 621.5 352.8 626.8 307.6 617.8 356.1 631.1 238.3 612.8 254.3 619.7 353 624.6 328.9 623.1 353.2 617.5 340.9 622.8 330.3 623.1 364.9 614.5 354.1 618.3 299.8 616.8 328.7 620 339.6 622.6 259.1 619.5 309 617.2 325 621.6 298.7 618.3 354.6 618.8 300.4 616.9 265.6 621.9 344.4 619.1 238.4 615.7 264.2 630.5 281.7 622.3 266.6 623 313.3 618.1 357.1 617.9 306 617.4 344.3 622.6 237 618.3 353.9 620.4 260.8 624.1 251.9 621.7 333.9 621.2 257.7 634.3 265.7 622.2 325.8 619.4 359.5 615 326.3 627 368.7 611.8 334.9 625.1 371.1 613.7 301.8 631.5 317.6 619.8 247.2 620.2 342.8 623.8 360.4 620.1 339.4 623.9 350.8 623 356.8 621.8 358.7 615.7 353.6 617.3 320.2 625.4 285.9 617.8 325.7 624.4 365.2 619.6 311.2 617.5 268.8 619.1 318.1 618.7 322.1 629.5 344.4 620.9 337.2 622.2 262.4 620 329.7 620.1 323.1 633.6 247.3 616.2 327.9 622.5 346.1 621.2 349.4 620.5 343.9 625 276.4 627.7 278.8 617.6 299.7 617.8 353.5 623.5 258.2 627.3 326.1 634 363.1 615.1 351.5 617.6 359.4 616.9 330.5 626.9 263 619.6 318.9 617.4 339.4 634.4 256.3 632.7 317.6 617.5 348.9 622.2 239.4 626.6 355.4 624 363.3 628.5 281.6 627.9 363.7 613.8 276.9 619.3 307.5 618.1 288.8 631.5 335.7 621.6 367.9 615.9 249.8 632.1 349.8 623.8 367.9 614.9 307 627.1 303.4 623.8 315.1 617.9 279.4 618.8 335.7 621.5 362.3 615.6 262.8 623.3 257.2 619.3 239.1 612.4 368.5 613 238.5 614.8 356.1 619.7 362.2 627.6 256.9 625.5 262.7 619.9 335 627.6 322.3 619.2 250.5 621.7 321.5 622.9 361.1 615.5 305.2 619.4 299.2 624.8 332.3 626.6 284.1 631.6 367.2 614.9 297 629.4 313.6 626 332 621.2 259.2 634.5 290.4 617.2 296.7 619.3 271.7 621.3 263.7 620.8 268.6 619.4 355.6 617.3 275.4 618.8 327.7 623.6 343.8 627.1 271.6 620.1 301.7 625.2 293.3 617.5 249 621 353 617.8 347.7 626.5 325.4 619.9 306.9 618.7 344 626.1 279.4 621.1 257.7 624.5 319.9 619.2 276.4 622.5 304.7 623 327.9 630 269.6 626.2 352.5 618.9 237.1 614.1 241.2 613.5 248.8 618 263.8 620.7 235.7 597.4 236.3 604.6 234.6 610.9 237 580 236.6 589.9 237.2 595.2 236.2 605.9 237.2 602.5 237.2 589.6 237.4 603.9 237 592 236.5 581.3 237.3 580.2 237 593.4 236 603.8 236.5 610.3 234.8 582.9 236.6 580.6 237.4 585.1 237.3 608.8 235.2 591.9 236.3 584.6 236.7 596.2 235.9 597.8 372.5 594.8 373.1 582.4 372.6 606.5 372.7 610.5 372.9 593.8 372.6 586.9 373 587.7 372.2 596 373.3 608.1 372.2 580.8 372.5 605.4 372.5 587.6 373.6 582.9 372.8 599.4 372.7 605.7 372.5 585.8 372.5 604.6 373.1 603.4 372.4 595.2 373 582.1 373 601.4 373.2 587.3 372.7 593.4 372.2 578.5 353.2 536.5 341.4 549.4 342.3 547.6 311 558.2" fill="none" stroke="none" marker-start="url(#d)" marker-mid="url(#d)" marker-end="url(#d)"/>
<path d="M237 578 L239.8 578 L242.6 578 L245.3 578 L248.1 578 L250.9 578 L253.7 578 L256.4 578 L259.2 578 L262 578 L264.8 578 L267.5 578 L270.3 578 L273.1 578 L275.9 577.9 L278.6 577.8 L281.4 577.7 L284.2 577.5 L287 577.4 L289.7 577.3 L292.5 577.2 L295.3 577.1 L298.1 577 L300.8 577 L303.6 577.3 L306.4 577.8 L309.2 578.6 L311.9 579.4 L314.7 580.4 L317.5 581.4 L320.3 582.3 L323 583 L325.8 583.6 L328.6 584 L331.4 584 L334.1 583.6 L336.9 583 L339.7 582.3 L342.5 581.5 L345.2 580.8 L348 580.2 L350.8 579.9 L353.6 579.8 L356.3 579.6 L359.1 579.4 L361.9 579.3 L364.7 579.2 L367.4 579.1 L370.2 579 L373 579" fill="none" stroke="#1a2370" stroke-width="1.4" stroke-dasharray="5 4" opacity="0.3"/>
<path d="M237 614 L239.8 614.2 L242.6 614.3 L245.3 614.5 L248.1 614.6 L250.9 614.7 L253.7 614.8 L256.4 614.8 L259.2 614.9 L262 614.9 L264.8 615 L267.5 615 L270.3 615 L273.1 615 L275.9 614.9 L278.6 614.8 L281.4 614.7 L284.2 614.5 L287 614.4 L289.7 614.3 L292.5 614.2 L295.3 614.1 L298.1 614 L300.8 614 L303.6 614.2 L306.4 614.7 L309.2 615.3 L311.9 616.1 L314.7 616.9 L317.5 617.7 L320.3 618.5 L323 619.2 L325.8 619.7 L328.6 620 L331.4 620 L334.1 619.7 L336.9 619.3 L339.7 618.8 L342.5 618.3 L345.2 617.7 L348 617.3 L350.8 616.9 L353.6 616.6 L356.3 616.3 L359.1 616.1 L361.9 615.8 L364.7 615.6 L367.4 615.4 L370.2 615.2 L373 615" fill="none" stroke="#1a2370" stroke-width="1.4" stroke-dasharray="5 4" opacity="0.3"/>
<path d="M237 595.1 L239.8 595.4 L242.6 595.8 L245.3 596.1 L248.1 596.3 L250.9 596.5 L253.7 596.7 L256.4 596.8 L259.2 596.9 L262 596.9 L264.8 596.8 L267.5 596.7 L270.3 596.6 L273.1 596.5 L275.9 596.3 L278.6 596.2 L281.4 596.1 L284.2 596 L287 596 L289.7 596.1 L292.5 596.3 L295.3 596.5 L298.1 596.9 L300.8 597.3 L303.6 597.7 L306.4 598.2 L309.2 599.1 L311.9 600.2 L314.7 601.3 L317.5 602.3 L320.3 602.9 L323 603 L325.8 603 L328.6 602.9 L331.4 602.7 L334.1 602.6 L336.9 602.4 L339.7 602.2 L342.5 601.7 L345.2 600.8 L348 599.7 L350.8 598.6 L353.6 597.7 L356.3 597 L359.1 596.7 L361.9 596.5 L364.7 596.3 L367.4 596.1 L370.2 596 L373 596" fill="none" stroke="#141d5e" stroke-width="1.8"/>
</g>
<rect x="233.9" y="492.2" width="137.9" height="140.3" fill="none" stroke="#7a7a7a" stroke-width="1.3"/>
<path d="M245.9 632.5v5M245.9 492.2v-5M269.8 632.5v5M269.8 492.2v-5M293.8 632.5v5M293.8 492.2v-5M317.7 632.5v5M317.7 492.2v-5M341.7 632.5v5M341.7 492.2v-5M365.6 632.5v5M365.6 492.2v-5M233.9 625.5h-5M371.8 625.5h5M233.9 592.2h-5M371.8 592.2h5M233.9 558.9h-5M371.8 558.9h5M233.9 525.6h-5M371.8 525.6h5M233.9 492.2h-5M371.8 492.2h5" stroke="#7a7a7a" stroke-width="1.2" fill="none"/>
<g font-size="10" fill="#1e1e1e" stroke="#1e1e1e" stroke-width="0.25" style="letter-spacing:0.2px"><text transform="translate(246.7 649.1) scale(1.06 1)" text-anchor="middle">0.4</text><text transform="translate(270.6 649.1) scale(1.06 1)" text-anchor="middle">0.6</text><text transform="translate(294.6 649.1) scale(1.06 1)" text-anchor="middle">0.8</text><text transform="translate(318.5 649.1) scale(1.06 1)" text-anchor="middle">1.0</text><text transform="translate(342.5 649.1) scale(1.06 1)" text-anchor="middle">1.2</text><text transform="translate(366.4 649.1) scale(1.06 1)" text-anchor="middle">1.4</text><text transform="translate(227.6 629.1) scale(1.06 1)" text-anchor="end">50</text><text transform="translate(227.6 595.8) scale(1.06 1)" text-anchor="end">100</text><text transform="translate(227.6 562.5) scale(1.06 1)" text-anchor="end">150</text><text transform="translate(227.6 529.2) scale(1.06 1)" text-anchor="end">200</text></g>
<text x="306" y="480.7" text-anchor="middle" font-size="10" fill="#1e1e1e" stroke="#1e1e1e" stroke-width="0.3">DBP</text>
<text x="308.8" y="663.8" text-anchor="middle" font-size="10" fill="#1e1e1e" stroke="#1e1e1e" stroke-width="0.3">Time</text>
<text x="3.0" y="12.6" font-size="14" font-weight="normal" fill="#111">A</text>
<text x="2.5" y="468" font-size="14.5" font-weight="normal" fill="#111">B</text>
<text x="192.4" y="11.3" font-size="9.8" font-weight="bold" fill="#111">Study 1</text>
<text x="592.9" y="10.9" font-size="9.8" font-weight="bold" fill="#111">Study 2</text>
<text x="193.3" y="234.2" font-size="9.8" font-weight="bold" fill="#111">Study 3</text>
<text x="594.0" y="233.2" font-size="9.8" font-weight="bold" fill="#111">Study 4</text>
<text x="182.0" y="466.4" font-size="9.5" font-weight="bold" fill="#111">Pooled analysis</text>
</svg></body></html>
